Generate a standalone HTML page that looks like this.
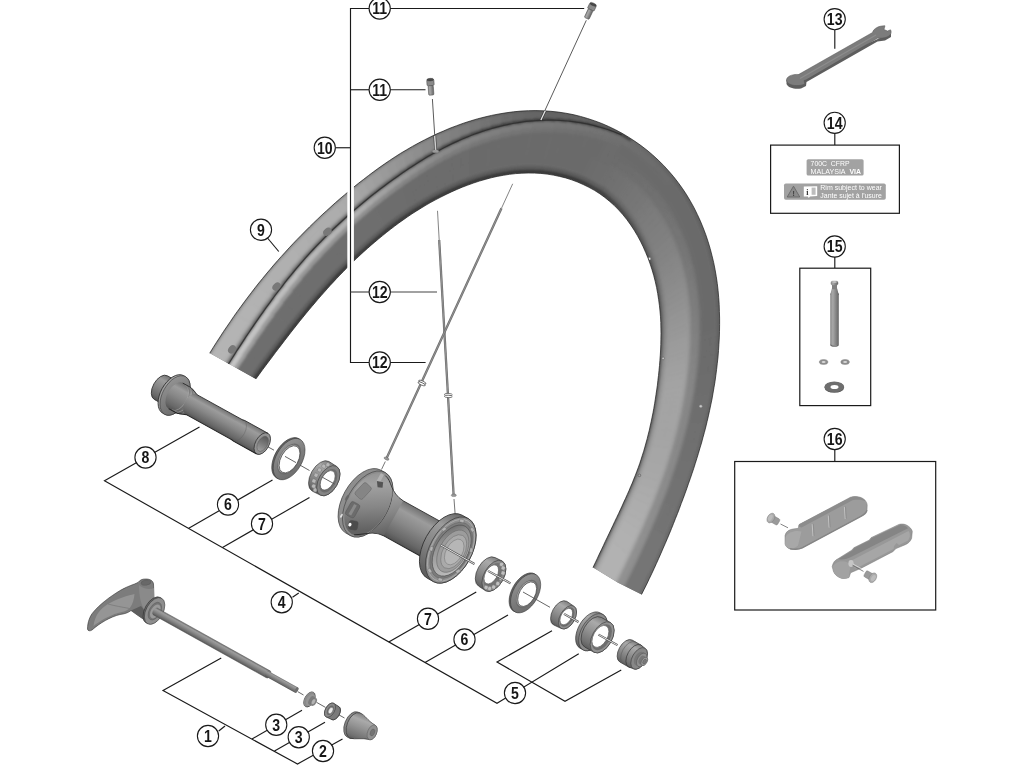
<!DOCTYPE html>
<html lang="en"><head><meta charset="utf-8"><title>Front wheel exploded view</title>
<style>html,body{margin:0;padding:0;background:#fff;}body{width:1024px;height:768px;overflow:hidden;}svg{display:block;will-change:transform;}</style></head>
<body>
<svg width="1024" height="768" viewBox="0 0 1024 768" font-family="'Liberation Sans', sans-serif">
<clipPath id="rimclip"><path d="M209.7,353.2 L213.1,347.7 L216.5,342.3 L220.0,337.0 L223.4,331.7 L226.9,326.6 L230.4,321.5 L233.8,316.4 L237.3,311.5 L240.9,306.6 L244.4,301.8 L248.0,297.0 L251.6,292.3 L255.2,287.6 L258.8,283.0 L262.5,278.5 L266.2,274.0 L270.0,269.5 L273.7,265.1 L277.5,260.7 L281.4,256.4 L285.3,252.1 L289.2,247.8 L293.1,243.6 L297.1,239.4 L301.2,235.3 L305.3,231.1 L309.4,227.0 L313.6,222.9 L317.8,218.9 L322.1,214.8 L326.5,210.8 L330.9,206.8 L335.3,202.8 L339.9,198.8 L344.5,194.9 L349.2,191.0 L353.9,187.0 L358.7,183.1 L363.7,179.3 L368.7,175.4 L373.8,171.6 L379.0,167.8 L384.3,164.1 L389.7,160.4 L395.2,156.8 L400.8,153.2 L406.6,149.8 L412.4,146.4 L418.4,143.1 L424.5,139.9 L430.7,136.8 L437.0,133.8 L443.5,131.0 L450.0,128.2 L456.7,125.7 L463.5,123.2 L470.3,121.0 L477.3,118.9 L484.4,117.1 L491.6,115.4 L498.8,114.0 L506.1,112.8 L513.5,111.8 L520.9,111.1 L528.4,110.7 L535.9,110.6 L543.3,110.8 L550.8,111.3 L558.3,112.1 L565.7,113.2 L573.1,114.6 L580.4,116.4 L587.6,118.5 L594.8,120.9 L601.8,123.5 L608.7,126.5 L615.5,129.8 L622.1,133.3 L628.6,137.2 L634.9,141.3 L641.0,145.6 L647.0,150.2 L652.7,155.0 L658.2,160.1 L663.6,165.4 L668.6,170.9 L673.5,176.6 L678.1,182.5 L682.5,188.6 L686.6,194.8 L690.4,201.2 L694.0,207.7 L697.3,214.4 L700.4,221.1 L703.2,227.9 L705.8,234.8 L708.1,241.7 L710.2,248.7 L712.0,255.7 L713.7,262.7 L715.1,269.8 L716.3,276.8 L717.3,283.7 L718.1,290.7 L718.7,297.6 L719.2,304.5 L719.4,311.3 L719.6,318.1 L719.6,324.7 L719.5,331.3 L719.3,337.9 L718.9,344.3 L718.5,350.7 L718.0,357.0 L717.3,363.2 L716.6,369.4 L715.8,375.5 L715.0,381.5 L714.0,387.4 L713.0,393.2 L712.0,399.0 L710.8,404.7 L709.6,410.4 L708.4,415.9 L707.1,421.5 L705.8,426.9 L704.4,432.3 L702.9,437.7 L701.5,443.0 L699.9,448.2 L698.4,453.4 L696.8,458.6 L695.2,463.7 L693.6,468.8 L691.9,473.8 L690.2,478.8 L688.4,483.8 L686.7,488.8 L684.9,493.8 L683.1,498.7 L681.2,503.6 L679.4,508.6 L677.5,513.5 L675.5,518.4 L673.6,523.3 L671.6,528.3 L669.6,533.2 L667.5,538.2 L665.4,543.1 L663.2,548.1 L661.0,553.2 L658.8,558.2 L656.5,563.3 L654.2,568.4 L651.8,573.5 L649.3,578.7 L646.8,584.0 L644.2,589.2 L641.5,594.5 L617.5,582.5 L593.0,567.5 L595.2,562.9 L597.3,558.5 L599.3,554.1 L601.4,549.8 L603.4,545.6 L605.3,541.4 L607.3,537.3 L609.2,533.3 L611.1,529.3 L613.0,525.3 L614.8,521.4 L616.7,517.5 L618.5,513.7 L620.3,509.8 L622.1,506.0 L623.8,502.1 L625.6,498.3 L627.3,494.5 L629.0,490.7 L630.6,486.8 L632.3,483.0 L633.8,479.1 L635.4,475.2 L636.9,471.2 L638.4,467.3 L639.8,463.3 L641.1,459.3 L642.4,455.2 L643.7,451.2 L644.9,447.0 L646.0,442.9 L647.2,438.7 L648.2,434.5 L649.3,430.3 L650.2,426.0 L651.2,421.6 L652.1,417.2 L653.0,412.8 L653.8,408.4 L654.6,403.8 L655.3,399.3 L656.0,394.6 L656.7,390.0 L657.4,385.2 L657.9,380.4 L658.5,375.5 L659.0,370.6 L659.5,365.5 L659.9,360.4 L660.3,355.2 L660.6,350.0 L660.8,344.6 L660.9,339.2 L661.0,333.7 L660.9,328.1 L660.8,322.5 L660.5,316.8 L660.0,311.0 L659.4,305.2 L658.6,299.4 L657.7,293.5 L656.6,287.6 L655.3,281.7 L653.8,275.8 L652.1,269.9 L650.2,264.1 L648.1,258.2 L645.7,252.5 L643.2,246.8 L640.4,241.1 L637.4,235.6 L634.2,230.2 L630.7,224.9 L627.0,219.8 L623.0,214.8 L618.8,210.1 L614.4,205.6 L609.7,201.4 L604.8,197.4 L599.7,193.7 L594.4,190.3 L588.9,187.3 L583.2,184.5 L577.5,182.0 L571.6,179.8 L565.6,177.9 L559.5,176.4 L553.3,175.1 L547.1,174.1 L540.8,173.4 L534.5,173.1 L528.2,173.0 L521.9,173.2 L515.7,173.6 L509.5,174.3 L503.3,175.3 L497.2,176.4 L491.1,177.8 L485.2,179.4 L479.3,181.1 L473.5,183.0 L467.8,185.1 L462.2,187.2 L456.8,189.5 L451.4,191.9 L446.1,194.4 L440.9,197.0 L435.9,199.6 L430.9,202.3 L426.0,205.1 L421.3,208.0 L416.6,210.9 L412.0,213.8 L407.6,216.8 L403.2,219.9 L398.9,222.9 L394.7,226.1 L390.6,229.2 L386.5,232.4 L382.6,235.6 L378.7,238.8 L374.9,242.0 L371.1,245.2 L367.4,248.5 L363.8,251.7 L360.2,255.0 L356.7,258.3 L353.2,261.6 L349.8,265.0 L346.5,268.3 L343.2,271.7 L339.9,275.1 L336.6,278.5 L333.5,281.9 L330.3,285.3 L327.2,288.8 L324.1,292.3 L321.0,295.8 L317.9,299.3 L314.9,302.9 L311.8,306.5 L308.8,310.1 L305.8,313.7 L302.8,317.4 L299.8,321.1 L296.8,324.9 L293.8,328.7 L290.8,332.5 L287.8,336.4 L284.7,340.4 L281.7,344.4 L278.6,348.4 L275.4,352.6 L272.3,356.8 L269.1,361.0 L265.8,365.4 L262.5,369.8 L259.2,374.4 L255.8,379.0Z"/></clipPath>
<filter id="rb" x="-5%" y="-5%" width="110%" height="110%"><feGaussianBlur stdDeviation="0.8"/></filter>
<g clip-path="url(#rimclip)">
<path d="M209.7,353.2 L213.1,347.7 L216.5,342.3 L220.0,337.0 L223.4,331.7 L226.9,326.6 L230.4,321.5 L233.8,316.4 L237.3,311.5 L240.9,306.6 L244.4,301.8 L248.0,297.0 L251.6,292.3 L255.2,287.6 L258.8,283.0 L262.5,278.5 L266.2,274.0 L270.0,269.5 L273.7,265.1 L277.5,260.7 L281.4,256.4 L285.3,252.1 L289.2,247.8 L293.1,243.6 L297.1,239.4 L301.2,235.3 L305.3,231.1 L309.4,227.0 L313.6,222.9 L317.8,218.9 L322.1,214.8 L326.5,210.8 L330.9,206.8 L335.3,202.8 L339.9,198.8 L344.5,194.9 L349.2,191.0 L353.9,187.0 L358.7,183.1 L363.7,179.3 L368.7,175.4 L373.8,171.6 L379.0,167.8 L384.3,164.1 L389.7,160.4 L395.2,156.8 L400.8,153.2 L406.6,149.8 L412.4,146.4 L418.4,143.1 L424.5,139.9 L430.7,136.8 L437.0,133.8 L443.5,131.0 L450.0,128.2 L456.7,125.7 L463.5,123.2 L470.3,121.0 L477.3,118.9 L484.4,117.1 L491.6,115.4 L498.8,114.0 L506.1,112.8 L513.5,111.8 L520.9,111.1 L528.4,110.7 L535.9,110.6 L543.3,110.8 L550.8,111.3 L558.3,112.1 L565.7,113.2 L573.1,114.6 L580.4,116.4 L587.6,118.5 L594.8,120.9 L601.8,123.5 L608.7,126.5 L615.5,129.8 L622.1,133.3 L628.6,137.2 L634.9,141.3 L641.0,145.6 L647.0,150.2 L652.7,155.0 L658.2,160.1 L663.6,165.4 L668.6,170.9 L673.5,176.6 L678.1,182.5 L682.5,188.6 L686.6,194.8 L690.4,201.2 L694.0,207.7 L697.3,214.4 L700.4,221.1 L703.2,227.9 L705.8,234.8 L708.1,241.7 L710.2,248.7 L712.0,255.7 L713.7,262.7 L715.1,269.8 L716.3,276.8 L717.3,283.7 L718.1,290.7 L718.7,297.6 L719.2,304.5 L719.4,311.3 L719.6,318.1 L719.6,324.7 L719.5,331.3 L719.3,337.9 L718.9,344.3 L718.5,350.7 L718.0,357.0 L717.3,363.2 L716.6,369.4 L715.8,375.5 L715.0,381.5 L714.0,387.4 L713.0,393.2 L712.0,399.0 L710.8,404.7 L709.6,410.4 L708.4,415.9 L707.1,421.5 L705.8,426.9 L704.4,432.3 L702.9,437.7 L701.5,443.0 L699.9,448.2 L698.4,453.4 L696.8,458.6 L695.2,463.7 L693.6,468.8 L691.9,473.8 L690.2,478.8 L688.4,483.8 L686.7,488.8 L684.9,493.8 L683.1,498.7 L681.2,503.6 L679.4,508.6 L677.5,513.5 L675.5,518.4 L673.6,523.3 L671.6,528.3 L669.6,533.2 L667.5,538.2 L665.4,543.1 L663.2,548.1 L661.0,553.2 L658.8,558.2 L656.5,563.3 L654.2,568.4 L651.8,573.5 L649.3,578.7 L646.8,584.0 L644.2,589.2 L641.5,594.5 L617.5,582.5 L593.0,567.5 L595.2,562.9 L597.3,558.5 L599.3,554.1 L601.4,549.8 L603.4,545.6 L605.3,541.4 L607.3,537.3 L609.2,533.3 L611.1,529.3 L613.0,525.3 L614.8,521.4 L616.7,517.5 L618.5,513.7 L620.3,509.8 L622.1,506.0 L623.8,502.1 L625.6,498.3 L627.3,494.5 L629.0,490.7 L630.6,486.8 L632.3,483.0 L633.8,479.1 L635.4,475.2 L636.9,471.2 L638.4,467.3 L639.8,463.3 L641.1,459.3 L642.4,455.2 L643.7,451.2 L644.9,447.0 L646.0,442.9 L647.2,438.7 L648.2,434.5 L649.3,430.3 L650.2,426.0 L651.2,421.6 L652.1,417.2 L653.0,412.8 L653.8,408.4 L654.6,403.8 L655.3,399.3 L656.0,394.6 L656.7,390.0 L657.4,385.2 L657.9,380.4 L658.5,375.5 L659.0,370.6 L659.5,365.5 L659.9,360.4 L660.3,355.2 L660.6,350.0 L660.8,344.6 L660.9,339.2 L661.0,333.7 L660.9,328.1 L660.8,322.5 L660.5,316.8 L660.0,311.0 L659.4,305.2 L658.6,299.4 L657.7,293.5 L656.6,287.6 L655.3,281.7 L653.8,275.8 L652.1,269.9 L650.2,264.1 L648.1,258.2 L645.7,252.5 L643.2,246.8 L640.4,241.1 L637.4,235.6 L634.2,230.2 L630.7,224.9 L627.0,219.8 L623.0,214.8 L618.8,210.1 L614.4,205.6 L609.7,201.4 L604.8,197.4 L599.7,193.7 L594.4,190.3 L588.9,187.3 L583.2,184.5 L577.5,182.0 L571.6,179.8 L565.6,177.9 L559.5,176.4 L553.3,175.1 L547.1,174.1 L540.8,173.4 L534.5,173.1 L528.2,173.0 L521.9,173.2 L515.7,173.6 L509.5,174.3 L503.3,175.3 L497.2,176.4 L491.1,177.8 L485.2,179.4 L479.3,181.1 L473.5,183.0 L467.8,185.1 L462.2,187.2 L456.8,189.5 L451.4,191.9 L446.1,194.4 L440.9,197.0 L435.9,199.6 L430.9,202.3 L426.0,205.1 L421.3,208.0 L416.6,210.9 L412.0,213.8 L407.6,216.8 L403.2,219.9 L398.9,222.9 L394.7,226.1 L390.6,229.2 L386.5,232.4 L382.6,235.6 L378.7,238.8 L374.9,242.0 L371.1,245.2 L367.4,248.5 L363.8,251.7 L360.2,255.0 L356.7,258.3 L353.2,261.6 L349.8,265.0 L346.5,268.3 L343.2,271.7 L339.9,275.1 L336.6,278.5 L333.5,281.9 L330.3,285.3 L327.2,288.8 L324.1,292.3 L321.0,295.8 L317.9,299.3 L314.9,302.9 L311.8,306.5 L308.8,310.1 L305.8,313.7 L302.8,317.4 L299.8,321.1 L296.8,324.9 L293.8,328.7 L290.8,332.5 L287.8,336.4 L284.7,340.4 L281.7,344.4 L278.6,348.4 L275.4,352.6 L272.3,356.8 L269.1,361.0 L265.8,365.4 L262.5,369.8 L259.2,374.4 L255.8,379.0Z" fill="#666"/>
<g filter="url(#rb)">
<path d="M237.9,403.8L248.6,388.9L245.2,388.4L234.6,403.5ZM248.6,388.9L258.7,375.1L255.3,374.4L245.2,388.4ZM258.7,375.1L268.3,362.1L265.0,361.2L255.3,374.4ZM268.3,362.1L277.4,349.9L274.3,348.8L265.0,361.2ZM277.4,349.9L286.4,338.2L283.3,336.9L274.3,348.8ZM286.4,338.2L295.1,327.0L292.1,325.4L283.3,336.9ZM295.1,327.0L303.8,316.2L301.0,314.4L292.1,325.4ZM303.8,316.2L312.6,305.6L309.8,303.6L301.0,314.4ZM312.6,305.6L321.4,295.3L318.8,293.2L309.8,303.6ZM321.4,295.3L330.4,285.2L328.0,282.9L318.8,293.2ZM330.4,285.2L339.7,275.3L337.4,272.8L328.0,282.9ZM339.7,275.3L349.3,265.5L347.2,262.9L337.4,272.8ZM349.3,265.5L354.2,260.7L352.3,258.0L347.2,262.9ZM354.2,260.7L359.3,255.9L357.4,253.1L352.3,258.0ZM359.3,255.9L364.5,251.1L362.7,248.3L357.4,253.1ZM364.5,251.1L369.8,246.4L368.1,243.5L362.7,248.3ZM369.8,246.4L375.2,241.7L373.6,238.7L368.1,243.5ZM375.2,241.7L380.8,237.0L379.3,234.0L373.6,238.7ZM380.8,237.0L386.5,232.4L385.1,229.2L379.3,234.0ZM386.5,232.4L392.4,227.8L391.0,224.6L385.1,229.2ZM392.4,227.8L398.4,223.3L397.2,220.0L391.0,224.6ZM398.4,223.3L404.6,218.8L403.5,215.5L397.2,220.0ZM404.6,218.8L411.1,214.5L410.1,211.0L403.5,215.5ZM411.1,214.5L417.7,210.2L416.8,206.7L410.1,211.0ZM417.7,210.2L424.5,206.0L423.8,202.4L416.8,206.7ZM424.5,206.0L431.6,202.0L430.9,198.3L423.8,202.4ZM431.6,202.0L438.8,198.1L438.3,194.4L430.9,198.3ZM438.8,198.1L446.3,194.3L445.9,190.6L438.3,194.4ZM446.3,194.3L454.0,190.8L453.7,187.0L445.9,190.6ZM454.0,190.8L461.9,187.4L461.7,183.6L453.7,187.0ZM461.9,187.4L470.0,184.3L470.0,180.5L461.7,183.6ZM470.0,184.3L478.3,181.4L478.5,177.6L470.0,180.5ZM478.3,181.4L486.9,178.9L487.1,175.1L478.5,177.6ZM486.9,178.9L495.6,176.8L496.0,173.0L487.1,175.1ZM495.6,176.8L504.4,175.1L505.0,171.3L496.0,173.0ZM504.4,175.1L513.4,173.9L514.1,170.1L505.0,171.3ZM513.4,173.9L522.5,173.2L523.3,169.4L514.1,170.1ZM522.5,173.2L531.6,173.0L532.5,169.3L523.3,169.4ZM531.6,173.0L540.7,173.4L541.8,169.8L532.5,169.3ZM540.7,173.4L549.8,174.5L551.0,170.9L541.8,169.8ZM549.8,174.5L558.7,176.2L560.0,172.6L551.0,170.9ZM558.7,176.2L564.3,177.6L565.7,174.0L560.0,172.6ZM564.3,177.6L569.7,179.2L571.2,175.7L565.7,174.0ZM569.7,179.2L575.1,181.1L576.7,177.6L571.2,175.7Z" fill="#383838" stroke="#383838" stroke-width="0.7"/>
<path d="M575.1,181.1L580.4,183.2L582.0,179.8L576.7,177.6Z" fill="#393939" stroke="#393939" stroke-width="0.7"/>
<path d="M207.4,401.6L217.7,384.5L214.9,384.2L204.6,401.4ZM217.3,384.5L227.5,368.5L224.7,367.9L214.6,384.1ZM227.1,368.4L237.1,353.2L234.4,352.4L224.4,367.8ZM236.7,353.1L246.6,338.7L243.9,337.7L234.0,352.3ZM246.2,338.6L256.1,324.7L253.5,323.6L243.6,337.6ZM255.7,324.6L265.5,311.3L263.0,310.0L253.1,323.4ZM265.1,311.1L275.1,298.2L272.7,296.7L262.6,309.7ZM274.6,297.9L284.8,285.5L282.6,283.8L272.3,296.4ZM284.4,285.1L294.8,273.0L292.7,271.2L282.1,283.5ZM294.4,272.7L305.1,260.8L303.1,258.9L292.3,270.9ZM304.8,260.5L315.9,248.9L314.1,246.8L302.8,258.6ZM315.7,248.7L327.2,237.2L325.5,235.0L313.9,246.6ZM327.1,237.1L333.0,231.4L331.4,229.2L325.4,234.9ZM332.9,231.4L339.0,225.7L337.4,223.4L331.3,229.1ZM338.9,225.7L345.1,220.1L343.6,217.7L337.4,223.4ZM345.1,220.0L351.4,214.5L349.9,212.1L343.6,217.7ZM351.3,214.5L357.8,208.9L356.4,206.4L349.9,212.0ZM357.8,208.9L364.4,203.4L363.1,200.8L356.4,206.4ZM364.3,203.4L371.1,197.9L370.0,195.3L363.1,200.8ZM371.1,197.9L378.1,192.5L377.0,189.8L369.9,195.2ZM378.0,192.4L385.2,187.1L384.2,184.3L377.0,189.7ZM385.2,186.9L392.6,181.7L391.7,178.9L384.2,184.2ZM392.5,181.5L400.1,176.4L399.3,173.5L391.6,178.7ZM400.1,176.1L407.9,171.1L407.2,168.2L399.2,173.2ZM407.8,170.7L416.0,165.9L415.4,162.9L407.1,167.8ZM415.9,165.4L424.3,160.7L423.8,157.7L415.3,162.4ZM424.2,160.2L432.9,155.7L432.4,152.7L423.7,157.2ZM432.8,155.1L441.7,150.9L441.4,147.8L432.3,152.1ZM441.6,150.2L450.9,146.2L450.6,143.1L441.3,147.1ZM450.8,145.6L460.3,141.9L460.2,138.7L450.6,142.4ZM460.3,141.2L470.0,137.8L470.0,134.6L460.2,138.0ZM470.0,137.1L480.0,134.1L480.1,130.9L470.0,134.0ZM480.0,133.4L490.2,130.8L490.4,127.7L480.1,130.2ZM490.3,130.1L500.7,128.0L501.0,124.8L490.5,126.9ZM500.8,127.3L511.4,125.7L511.8,122.5L501.1,124.1ZM511.5,124.9L522.2,123.9L522.8,120.8L511.9,121.7ZM522.4,123.1L533.2,122.7L533.9,119.6L522.9,119.9ZM533.4,121.9L544.3,122.1L545.0,119.0L534.0,118.7ZM544.5,121.2L555.4,122.2L556.3,119.2L545.3,118.1ZM555.7,121.3L566.5,123.0L567.5,119.9L556.5,118.2ZM566.8,121.9L577.6,124.4L578.7,121.4L567.8,118.9ZM577.9,123.5L584.6,125.4L585.7,122.4L579.0,120.5ZM584.8,124.7L591.4,126.9L592.6,124.0L586.0,121.8ZM591.7,126.2L598.2,128.6L599.5,125.7L592.9,123.3Z" fill="#3a3a3a" stroke="#3a3a3a" stroke-width="0.7"/>
<path d="M580.4,183.2L585.6,185.6L587.3,182.2L582.0,179.8Z" fill="#3b3b3b" stroke="#3b3b3b" stroke-width="0.7"/>
<path d="M598.5,128.0L604.9,130.7L606.3,127.8L599.8,125.1ZM595.6,191.1L600.4,194.2L601.3,192.6L596.5,189.4Z" fill="#3c3c3c" stroke="#3c3c3c" stroke-width="0.7"/>
<path d="M605.2,130.0L611.6,132.9L613.0,130.1L606.6,127.1ZM585.6,185.6L590.7,188.2L592.4,184.9L587.3,182.2ZM600.4,194.2L605.0,197.6L606.0,195.9L601.3,192.6Z" fill="#3d3d3d" stroke="#3d3d3d" stroke-width="0.7"/>
<path d="M605.0,197.6L609.4,201.2L610.4,199.5L606.0,195.9Z" fill="#3e3e3e" stroke="#3e3e3e" stroke-width="0.7"/>
<path d="M611.9,132.3L618.1,135.5L619.6,132.7L613.3,129.4ZM590.7,188.2L595.6,191.1L597.4,187.8L592.4,184.9ZM609.4,201.2L613.7,205.0L614.7,203.4L610.4,199.5Z" fill="#3f3f3f" stroke="#3f3f3f" stroke-width="0.7"/>
<path d="M613.7,205.0L617.7,209.0L618.8,207.4L614.7,203.4Z" fill="#404040" stroke="#404040" stroke-width="0.7"/>
<path d="M618.4,134.8L624.5,138.3L626.0,135.6L619.9,132.1ZM617.7,209.0L621.6,213.2L622.8,211.7L618.8,207.4Z" fill="#414141" stroke="#414141" stroke-width="0.7"/>
<path d="M596.5,189.4L601.3,192.6L602.4,190.6L597.6,187.5Z" fill="#424242" stroke="#424242" stroke-width="0.7"/>
<path d="M621.6,213.2L625.3,217.6L626.5,216.1L622.8,211.7Z" fill="#434343" stroke="#434343" stroke-width="0.7"/>
<path d="M624.5,138.4L630.4,142.1L632.0,139.4L626.0,135.6ZM625.3,217.6L628.8,222.2L630.0,220.7L626.5,216.1ZM628.8,222.2L632.0,226.9L633.3,225.4L630.0,220.7Z" fill="#444444" stroke="#444444" stroke-width="0.7"/>
<path d="M601.3,192.6L606.0,195.9L607.1,194.0L602.4,190.6ZM632.0,226.9L635.1,231.7L636.4,230.3L633.3,225.4Z" fill="#454545" stroke="#454545" stroke-width="0.7"/>
<path d="M491.3,116.0L502.2,113.9L502.2,113.4L491.3,115.5ZM502.2,113.9L513.2,112.4L513.3,111.8L502.2,113.4ZM513.2,112.3L524.4,111.4L524.5,110.9L513.3,111.8ZM524.4,111.3L535.7,111.0L535.8,110.6L524.5,110.9ZM535.7,111.0L546.9,111.4L547.0,111.0L535.8,110.6ZM547.0,111.3L558.2,112.4L558.3,112.1L547.0,111.0ZM558.2,112.4L569.4,114.2L569.5,113.9L558.3,112.1ZM569.4,114.1L580.4,116.7L580.5,116.4L569.5,113.9ZM580.4,116.6L587.2,118.6L587.3,118.4L580.5,116.4ZM587.2,118.6L593.9,120.8L594.0,120.6L587.3,118.4ZM594.0,120.7L600.6,123.2L600.6,123.1L594.0,120.6ZM635.1,231.7L638.0,236.7L639.3,235.2L636.4,230.3ZM638.0,236.7L640.7,241.7L642.1,240.3L639.3,235.2ZM640.7,241.7L643.2,246.8L644.6,245.4L642.1,240.3ZM643.2,246.8L645.5,252.0L647.0,250.6L644.6,245.4ZM645.5,252.0L647.7,257.2L649.1,255.9L647.0,250.6ZM647.7,257.2L649.6,262.5L651.1,261.2L649.1,255.9ZM649.6,262.5L651.4,267.8L652.9,266.5L651.1,261.2ZM651.4,267.8L653.0,273.1L654.6,271.8L652.9,266.5ZM653.0,273.1L654.5,278.4L656.1,277.2L654.6,271.8ZM654.5,278.4L655.8,283.8L657.4,282.6L656.1,277.2ZM655.8,283.8L656.9,289.1L658.5,288.0L657.4,282.6ZM656.9,289.1L657.9,294.5L659.5,293.4L658.5,288.0ZM657.9,294.5L658.7,299.8L660.4,298.7L659.5,293.4ZM658.7,299.8L659.4,305.1L661.1,304.1L660.4,298.7ZM659.4,305.1L659.9,310.3L661.6,309.4L661.1,304.1ZM659.9,310.3L660.4,315.6L662.1,314.6L661.6,309.4ZM660.4,315.6L660.7,320.7L662.4,319.8L662.1,314.6ZM660.7,320.7L660.9,325.9L662.6,325.0L662.4,319.8ZM660.9,325.9L661.0,330.9L662.7,330.1L662.6,325.0ZM661.0,330.9L661.0,336.0L662.7,335.2L662.7,330.1ZM661.0,336.0L660.9,340.9L662.7,340.2L662.7,335.2ZM660.9,340.9L660.7,345.8L662.5,345.1L662.7,340.2ZM660.7,345.8L660.5,350.7L662.3,350.0L662.5,345.1ZM660.5,350.7L660.2,355.4L662.0,354.8L662.3,350.0ZM660.2,355.4L659.9,360.1L661.7,359.6L662.0,354.8ZM659.9,360.1L659.5,364.8L661.3,364.2L661.7,359.6ZM659.5,364.8L659.1,369.3L660.9,368.8L661.3,364.2ZM659.1,369.3L658.7,373.8L660.4,373.4L660.9,368.8ZM658.7,373.8L658.2,378.3L660.0,377.9L660.4,373.4ZM658.2,378.3L657.7,382.7L659.4,382.3L660.0,377.9ZM657.7,382.7L657.1,387.0L658.9,386.7L659.4,382.3ZM657.1,387.0L656.5,391.3L658.3,391.0L658.9,386.7ZM656.5,391.3L655.9,395.5L657.7,395.3L658.3,391.0ZM655.9,395.5L655.3,399.7L657.0,399.5L657.7,395.3ZM655.3,399.7L654.6,403.9L656.3,403.7L657.0,399.5ZM654.6,403.9L653.9,407.9L655.6,407.8L656.3,403.7ZM653.9,407.9L653.1,412.0L654.8,411.9L655.6,407.8ZM653.1,412.0L652.8,413.6L654.5,413.6L654.8,411.9ZM652.8,413.6L651.2,421.6L652.9,421.6L654.5,413.6ZM651.2,421.6L649.5,429.4L651.1,429.5L652.9,421.6ZM649.5,429.4L647.6,437.1L649.2,437.3L651.1,429.5ZM647.6,437.1L645.5,444.7L647.1,444.9L649.2,437.3ZM645.5,444.7L643.4,452.1L644.9,452.4L647.1,444.9ZM643.4,452.1L641.0,459.5L642.6,459.8L644.9,452.4ZM641.0,459.5L638.6,466.7L640.1,467.2L642.6,459.8ZM638.6,466.7L635.9,473.9L637.4,474.4L640.1,467.2ZM635.9,473.9L633.1,481.0L634.6,481.5L637.4,474.4ZM633.1,481.0L630.1,488.0L631.6,488.6L634.6,481.5ZM630.1,488.0L627.1,494.9L628.5,495.6L631.6,488.6ZM627.1,494.9L624.0,501.9L625.4,502.6L628.5,495.6ZM624.0,501.9L620.7,508.8L622.2,509.6L625.4,502.6ZM620.7,508.8L617.5,515.8L618.9,516.7L622.2,509.6ZM617.5,515.8L614.1,522.8L615.5,523.8L618.9,516.7ZM614.1,522.8L610.8,530.0L612.1,531.0L615.5,523.8ZM610.8,530.0L607.3,537.3L608.6,538.4L612.1,531.0ZM607.3,537.3L603.8,544.7L605.0,545.9L608.6,538.4ZM603.8,544.7L600.1,552.4L601.4,553.7L605.0,545.9ZM600.1,552.4L596.4,560.4L597.6,561.7L601.4,553.7ZM596.4,560.4L592.5,568.6L593.6,570.0L597.6,561.7ZM592.5,568.6L588.4,577.2L589.5,578.6L593.6,570.0ZM588.4,577.2L584.1,586.1L585.2,587.6L589.5,578.6ZM584.1,586.1L579.6,595.4L580.6,596.9L585.2,587.6Z" fill="#464646" stroke="#464646" stroke-width="0.7"/>
<path d="M480.1,130.2L490.4,127.7L490.5,126.8L480.1,129.4ZM480.5,118.7L491.3,116.1L491.3,115.5L480.5,118.0ZM490.5,126.9L501.0,124.8L501.1,124.0L490.5,126.1ZM501.1,124.1L511.8,122.5L511.9,121.8L501.2,123.3ZM511.9,121.7L522.8,120.8L522.9,120.1L512.0,121.1ZM522.9,119.9L533.9,119.6L534.0,119.0L523.0,119.3ZM534.0,118.7L545.0,119.0L545.2,118.5L534.2,118.2ZM545.3,118.1L556.3,119.2L556.4,118.7L545.4,117.6ZM556.5,118.2L567.5,119.9L567.6,119.5L556.7,117.8ZM567.8,118.9L578.7,121.4L578.8,121.0L567.9,118.6ZM579.0,120.5L585.7,122.4L585.8,122.2L579.1,120.2ZM586.0,121.8L592.6,124.0L592.7,123.7L586.1,121.5ZM592.9,123.3L599.5,125.7L599.6,125.5L593.0,123.1ZM599.8,125.1L606.3,127.8L606.3,127.6L599.8,124.9ZM600.6,123.2L607.1,125.9L607.2,125.8L600.6,123.1Z" fill="#474747" stroke="#474747" stroke-width="0.7"/>
<path d="M606.6,127.1L613.0,130.1L613.0,130.0L606.6,127.0ZM607.1,125.9L613.5,128.9L613.6,128.9L607.2,125.8ZM606.0,195.9L610.4,199.5L611.6,197.7L607.1,194.0Z" fill="#484848" stroke="#484848" stroke-width="0.7"/>
<path d="M470.0,121.7L480.5,118.7L480.5,118.0L470.0,121.1ZM613.3,129.4L619.6,132.7L619.6,132.6L613.3,129.4ZM613.6,128.9L619.9,132.1L619.9,132.1L613.6,128.9Z" fill="#4a4a4a" stroke="#4a4a4a" stroke-width="0.7"/>
<path d="M470.0,134.0L480.1,130.9L480.1,130.0L470.0,133.1ZM610.4,199.5L614.7,203.4L616.0,201.5L611.6,197.7Z" fill="#4b4b4b" stroke="#4b4b4b" stroke-width="0.7"/>
<path d="M459.7,125.2L470.0,121.8L470.0,121.1L459.7,124.6Z" fill="#4e4e4e" stroke="#4e4e4e" stroke-width="0.7"/>
<path d="M460.2,138.0L470.0,134.6L470.0,133.7L460.1,137.1ZM614.7,203.4L618.8,207.4L620.1,205.6L616.0,201.5Z" fill="#4f4f4f" stroke="#4f4f4f" stroke-width="0.7"/>
<path d="M449.7,129.1L459.7,125.3L459.7,124.6L449.6,128.4ZM587.2,118.7L593.9,120.9L593.9,120.8L587.2,118.6ZM593.9,120.9L600.5,123.4L600.6,123.2L594.0,120.7ZM618.8,207.4L622.8,211.7L624.1,209.9L620.1,205.6Z" fill="#525252" stroke="#525252" stroke-width="0.7"/>
<path d="M450.6,142.4L460.2,138.7L460.1,137.7L450.5,141.5ZM546.9,111.7L558.1,112.8L558.2,112.4L547.0,111.3ZM558.1,112.7L569.3,114.5L569.4,114.2L558.2,112.4ZM567.9,118.6L578.8,121.0L578.9,120.7L568.1,118.2ZM569.3,114.4L580.3,116.9L580.4,116.7L569.4,114.1ZM579.1,120.2L585.8,122.2L585.9,121.9L579.2,120.0ZM580.3,116.8L587.1,118.8L587.2,118.6L580.4,116.6ZM586.1,121.5L592.7,123.7L592.8,123.5L586.2,121.3ZM593.0,123.1L599.6,125.5L599.6,125.4L593.1,122.9ZM599.8,124.9L606.3,127.6L606.4,127.5L599.9,124.8ZM600.6,123.3L607.1,126.0L607.1,125.9L600.6,123.2ZM607.1,126.0L613.5,129.0L613.5,128.9L607.1,125.9Z" fill="#535353" stroke="#535353" stroke-width="0.7"/>
<path d="M524.3,111.8L535.6,111.5L535.7,111.0L524.4,111.3ZM534.2,118.2L545.2,118.5L545.3,117.9L534.3,117.6ZM535.6,111.4L546.8,111.8L546.9,111.4L535.7,111.0ZM545.4,117.6L556.4,118.7L556.5,118.2L545.5,117.1ZM556.7,117.8L567.6,119.5L567.8,119.1L556.8,117.3ZM606.6,127.0L613.0,130.0L613.0,129.9L606.7,126.9ZM613.3,129.4L619.6,132.6L619.6,132.6L613.3,129.4ZM613.5,128.9L619.8,132.2L619.9,132.1L613.6,128.9Z" fill="#545454" stroke="#545454" stroke-width="0.7"/>
<path d="M513.2,112.8L524.3,111.9L524.4,111.4L513.2,112.3ZM523.0,119.3L534.0,119.0L534.1,118.3L523.1,118.7Z" fill="#555555" stroke="#555555" stroke-width="0.7"/>
<path d="M441.3,147.1L450.6,143.1L450.6,142.1L441.2,146.1ZM439.9,133.3L449.7,129.1L449.6,128.4L439.8,132.6ZM502.1,114.4L513.2,112.9L513.2,112.4L502.2,113.9ZM512.0,121.1L522.9,120.1L523.0,119.4L512.1,120.4ZM622.8,211.7L626.5,216.1L627.8,214.3L624.1,209.9Z" fill="#565656" stroke="#565656" stroke-width="0.7"/>
<path d="M501.2,123.3L511.9,121.8L512.0,121.0L501.3,122.6Z" fill="#575757" stroke="#575757" stroke-width="0.7"/>
<path d="M491.2,116.6L502.1,114.5L502.2,113.9L491.3,116.0Z" fill="#585858" stroke="#585858" stroke-width="0.7"/>
<path d="M490.5,126.1L501.1,124.0L501.2,123.2L490.6,125.3ZM626.5,216.1L630.0,220.7L631.4,218.9L627.8,214.3Z" fill="#595959" stroke="#595959" stroke-width="0.7"/>
<path d="M432.3,152.1L441.4,147.8L441.3,146.7L432.2,151.0ZM430.3,137.8L439.9,133.3L439.8,132.6L430.2,137.0ZM480.5,119.3L491.2,116.7L491.3,116.1L480.5,118.7Z" fill="#5a5a5a" stroke="#5a5a5a" stroke-width="0.7"/>
<path d="M470.0,180.5L478.5,177.6L478.6,173.8L470.0,176.7ZM478.5,177.6L487.1,175.1L487.4,171.3L478.6,173.8ZM480.1,129.4L490.5,126.8L490.6,125.9L480.2,128.5ZM487.1,175.1L496.0,173.0L496.4,169.2L487.4,171.3ZM496.0,173.0L505.0,171.3L505.5,167.5L496.4,169.2ZM505.0,171.3L514.1,170.1L514.7,166.3L505.5,167.5ZM514.1,170.1L523.3,169.4L524.1,165.6L514.7,166.3ZM523.3,169.4L532.5,169.3L533.4,165.6L524.1,165.6ZM532.5,169.3L541.8,169.8L542.8,166.1L533.4,165.6ZM541.8,169.8L551.0,170.9L552.1,167.2L542.8,166.1ZM551.0,170.9L560.0,172.6L561.4,169.0L552.1,167.2ZM560.0,172.6L565.7,174.0L567.0,170.5L561.4,169.0ZM565.7,174.0L571.2,175.7L572.7,172.2L567.0,170.5ZM571.2,175.7L576.7,177.6L578.2,174.1L572.7,172.2Z" fill="#5b5b5b" stroke="#5b5b5b" stroke-width="0.7"/>
<path d="M410.1,211.0L416.8,206.7L415.9,203.2L409.1,207.6ZM416.8,206.7L423.8,202.4L423.0,198.9L415.9,203.2ZM423.8,202.4L430.9,198.3L430.3,194.7L423.0,198.9ZM430.9,198.3L438.3,194.4L437.8,190.7L430.3,194.7ZM438.3,194.4L445.9,190.6L445.5,186.9L437.8,190.7ZM445.9,190.6L453.7,187.0L453.4,183.3L445.5,186.9ZM453.7,187.0L461.7,183.6L461.6,179.8L453.4,183.3ZM461.7,183.6L470.0,180.5L470.0,176.7L461.6,179.8ZM576.7,177.6L582.0,179.8L583.6,176.3L578.2,174.1ZM582.0,179.8L587.3,182.2L589.0,178.8L583.6,176.3ZM630.0,220.7L633.3,225.4L634.8,223.7L631.4,218.9Z" fill="#5c5c5c" stroke="#5c5c5c" stroke-width="0.7"/>
<path d="M385.1,229.2L391.0,224.6L389.7,221.4L383.7,226.1ZM391.0,224.6L397.2,220.0L396.0,216.7L389.7,221.4ZM397.2,220.0L403.5,215.5L402.4,212.1L396.0,216.7ZM403.5,215.5L410.1,211.0L409.1,207.6L402.4,212.1ZM421.1,142.5L430.3,137.8L430.2,137.0L420.9,141.7ZM587.3,182.2L592.4,184.9L594.2,181.5L589.0,178.8Z" fill="#5d5d5d" stroke="#5d5d5d" stroke-width="0.7"/>
<path d="M234.6,403.5L245.2,388.4L241.9,387.9L231.3,403.3ZM245.2,388.4L255.3,374.4L252.0,373.7L241.9,387.9ZM255.3,374.4L265.0,361.2L261.7,360.3L252.0,373.7ZM265.0,361.2L274.3,348.8L271.1,347.6L261.7,360.3ZM274.3,348.8L283.3,336.9L280.2,335.5L271.1,347.6ZM283.3,336.9L292.1,325.4L289.1,323.8L280.2,335.5ZM292.1,325.4L301.0,314.4L298.1,312.6L289.1,323.8ZM301.0,314.4L309.8,303.6L307.1,301.7L298.1,312.6ZM309.8,303.6L318.8,293.2L316.3,291.0L307.1,301.7ZM318.8,293.2L328.0,282.9L325.6,280.6L316.3,291.0ZM328.0,282.9L337.4,272.8L335.2,270.3L325.6,280.6ZM337.4,272.8L347.2,262.9L345.2,260.2L335.2,270.3ZM347.2,262.9L352.3,258.0L350.3,255.2L345.2,260.2ZM352.3,258.0L357.4,253.1L355.5,250.3L350.3,255.2ZM357.4,253.1L362.7,248.3L360.9,245.4L355.5,250.3ZM362.7,248.3L368.1,243.5L366.4,240.5L360.9,245.4ZM368.1,243.5L373.6,238.7L372.0,235.7L366.4,240.5ZM373.6,238.7L379.3,234.0L377.8,230.9L372.0,235.7ZM379.3,234.0L385.1,229.2L383.7,226.1L377.8,230.9ZM423.7,157.2L432.4,152.7L432.3,151.6L423.5,156.1ZM470.0,122.4L480.5,119.3L480.5,118.7L470.0,121.7Z" fill="#5e5e5e" stroke="#5e5e5e" stroke-width="0.7"/>
<path d="M470.0,133.1L480.1,130.0L480.2,129.1L470.0,132.2ZM592.4,184.9L597.4,187.8L599.2,184.4L594.2,181.5ZM597.6,187.5L602.4,190.6L603.5,188.7L598.6,185.5ZM633.3,225.4L636.4,230.3L637.9,228.5L634.8,223.7Z" fill="#5f5f5f" stroke="#5f5f5f" stroke-width="0.7"/>
<path d="M606.7,126.9L613.0,129.9L613.1,129.8L606.7,126.8ZM613.3,129.4L619.6,132.6L619.6,132.6L613.4,129.3ZM613.5,128.9L619.8,132.2L619.8,132.2L613.5,128.9ZM602.4,190.6L607.1,194.0L608.3,192.1L603.5,188.7Z" fill="#606060" stroke="#606060" stroke-width="0.7"/>
<path d="M415.3,162.4L423.8,157.7L423.6,156.6L415.0,161.3ZM412.1,147.4L421.1,142.5L420.9,141.7L411.9,146.7ZM586.2,121.3L592.8,123.5L592.9,123.2L586.3,121.0ZM593.1,122.9L599.6,125.4L599.7,125.2L593.2,122.7ZM599.9,124.8L606.4,127.5L606.5,127.4L600.0,124.6ZM600.5,123.4L607.0,126.2L607.1,126.0L600.6,123.3ZM606.7,126.8L613.1,129.8L613.3,129.5L606.9,126.5ZM606.9,126.5L613.3,129.5L613.5,129.1L607.1,126.0ZM607.1,126.0L613.5,129.1L613.5,129.0L607.1,126.0ZM613.4,129.3L619.6,132.6L619.7,132.4L613.4,129.1ZM613.4,129.1L619.7,132.4L619.8,132.2L613.5,128.9ZM636.4,230.3L639.3,235.2L640.9,233.5L637.9,228.5ZM676.0,185.1L680.1,190.8L682.3,188.3L678.2,182.6ZM680.1,190.8L683.9,196.6L686.2,194.2L682.3,188.3ZM683.9,196.6L687.5,202.5L689.8,200.2L686.2,194.2ZM687.5,202.5L690.8,208.6L693.2,206.3L689.8,200.2ZM690.8,208.6L694.0,214.8L696.4,212.5L693.2,206.3ZM694.0,214.8L696.9,221.0L699.4,218.8L696.4,212.5ZM696.9,221.0L699.6,227.4L702.1,225.2L699.4,218.8ZM699.6,227.4L702.0,233.8L704.6,231.7L702.1,225.2ZM702.0,233.8L704.3,240.2L706.9,238.2L704.6,231.7ZM704.3,240.2L706.4,246.7L709.0,244.7L706.9,238.2ZM706.4,246.7L708.2,253.2L710.9,251.3L709.0,244.7ZM708.2,253.2L709.8,259.8L712.6,257.9L710.9,251.3ZM709.8,259.8L711.3,266.3L714.0,264.5L712.6,257.9ZM711.3,266.3L712.5,272.8L715.3,271.1L714.0,264.5ZM712.5,272.8L713.6,279.4L716.4,277.7L715.3,271.1ZM713.6,279.4L714.5,285.9L717.3,284.3L716.4,277.7ZM714.5,285.9L715.2,292.3L718.1,290.9L717.3,284.3ZM715.2,292.3L715.8,298.8L718.7,297.4L718.1,290.9ZM715.8,298.8L716.2,305.2L719.1,303.8L718.7,297.4ZM716.2,305.2L716.5,311.5L719.4,310.3L719.1,303.8ZM716.5,311.5L716.6,317.8L719.6,316.6L719.4,310.3ZM716.6,317.8L716.7,324.1L719.6,322.9L719.6,316.6ZM716.7,324.1L716.6,330.2L719.5,329.2L719.6,322.9Z" fill="#616161" stroke="#616161" stroke-width="0.7"/>
<path d="M459.7,125.9L470.0,122.5L470.0,121.8L459.7,125.2ZM568.1,118.2L578.9,120.7L579.1,120.3L568.2,117.8ZM579.2,120.0L585.9,121.9L586.1,121.5L579.3,119.6ZM580.3,117.1L587.0,119.0L587.1,118.8L580.3,116.8ZM586.3,121.0L592.9,123.2L593.3,122.3L586.6,120.1ZM586.6,120.1L593.3,122.3L593.8,121.1L587.1,118.9ZM587.1,118.9L593.8,121.1L593.9,120.9L587.2,118.7ZM593.2,122.7L599.7,125.2L600.1,124.4L593.5,121.9ZM593.5,121.9L600.1,124.4L600.5,123.5L593.8,121.0ZM593.8,121.0L600.5,123.5L600.5,123.4L593.9,120.9ZM600.0,124.6L606.5,127.4L606.7,126.8L600.2,124.1ZM600.2,124.1L606.7,126.8L607.0,126.2L600.5,123.4ZM598.6,185.5L603.5,188.7L604.5,187.1L599.5,183.9ZM607.1,194.0L611.6,197.7L612.8,195.8L608.3,192.1ZM671.8,179.6L676.0,185.1L678.2,182.6L673.9,177.1ZM716.6,330.2L716.4,336.4L719.4,335.4L719.5,329.2ZM716.4,336.4L716.1,342.4L719.1,341.5L719.4,335.4ZM716.1,342.4L715.8,348.4L718.7,347.5L719.1,341.5ZM715.8,348.4L715.3,354.3L718.3,353.5L718.7,347.5ZM715.3,354.3L714.8,360.1L717.7,359.4L718.3,353.5ZM714.8,360.1L714.2,365.9L717.1,365.2L717.7,359.4ZM714.2,365.9L713.5,371.6L716.4,371.0L717.1,365.2Z" fill="#626262" stroke="#626262" stroke-width="0.7"/>
<path d="M460.1,137.1L470.0,133.7L470.0,132.7L460.1,136.2ZM545.5,117.1L556.5,118.2L556.7,117.6L545.7,116.6ZM556.8,117.3L567.8,119.1L567.9,118.6L556.9,116.8ZM558.0,113.1L569.1,114.9L569.3,114.5L558.1,112.7ZM568.2,117.8L579.1,120.3L579.6,118.9L568.6,116.4ZM568.6,116.4L579.6,118.9L580.2,117.2L569.2,114.7ZM569.2,114.7L580.2,117.2L580.3,116.9L569.3,114.4ZM579.3,119.6L586.1,121.5L586.5,120.4L579.7,118.5ZM579.7,118.5L586.5,120.4L587.0,119.0L580.3,117.1ZM611.6,197.7L616.0,201.5L617.2,199.7L612.8,195.8ZM667.3,174.2L671.8,179.6L673.9,177.1L669.3,171.7ZM639.3,235.2L642.1,240.3L643.7,238.6L640.9,233.5ZM713.5,371.6L712.8,377.2L715.7,376.7L716.4,371.0ZM712.8,377.2L711.9,382.8L714.9,382.3L715.7,376.7ZM711.9,382.8L711.1,388.3L714.0,387.9L714.9,382.3ZM711.1,388.3L710.1,393.7L713.0,393.4L714.0,387.9Z" fill="#636363" stroke="#636363" stroke-width="0.7"/>
<path d="M403.3,152.6L412.1,147.5L411.9,146.7L403.1,151.8ZM534.3,117.6L545.3,117.9L545.5,117.3L534.4,116.9ZM535.5,111.9L546.7,112.3L546.8,111.8L535.6,111.4ZM545.7,116.6L556.7,117.6L557.3,115.6L546.2,114.6ZM546.2,114.6L557.3,115.6L558.0,113.2L546.8,112.1ZM546.8,112.1L558.0,113.2L558.1,112.8L546.9,111.7ZM556.9,116.8L567.9,118.6L568.5,116.9L557.4,115.1ZM557.4,115.1L568.5,116.9L569.1,114.9L558.0,113.1ZM603.5,188.7L608.3,192.1L609.3,190.5L604.5,187.1ZM662.6,169.0L667.3,174.2L669.3,171.7L664.6,166.5ZM642.1,240.3L644.6,245.4L646.2,243.8L643.7,238.6ZM710.1,393.7L709.1,399.1L712.0,398.8L713.0,393.4ZM709.1,399.1L708.1,404.4L710.9,404.2L712.0,398.8ZM708.1,404.4L707.0,409.7L709.8,409.5L710.9,404.2ZM707.0,409.7L706.5,411.7L709.4,411.6L709.8,409.5ZM706.5,411.7L704.2,422.0L707.0,422.1L709.4,411.6Z" fill="#646464" stroke="#646464" stroke-width="0.7"/>
<path d="M407.1,167.8L415.4,162.9L415.1,161.8L406.8,166.7ZM449.7,129.8L459.7,126.0L459.7,125.3L449.7,129.1ZM523.1,118.7L534.1,118.3L534.3,117.6L523.3,118.0ZM524.2,112.3L535.5,112.0L535.6,111.5L524.3,111.8ZM534.4,116.9L545.5,117.3L546.0,115.0L534.9,114.7ZM534.9,114.7L546.0,115.0L546.7,112.3L535.5,111.9ZM616.0,201.5L620.1,205.6L621.4,203.8L617.2,199.7ZM657.7,164.0L662.6,169.0L664.6,166.5L659.6,161.4ZM704.2,422.0L701.6,432.1L704.4,432.3L707.0,422.1ZM701.6,432.1L698.9,442.0L701.6,442.3L704.4,432.3Z" fill="#656565" stroke="#656565" stroke-width="0.7"/>
<path d="M450.5,141.5L460.1,137.7L460.1,136.7L450.5,140.5ZM523.3,118.0L534.3,117.6L534.8,115.1L523.7,115.4ZM523.7,115.4L534.8,115.1L535.5,112.0L524.2,112.3ZM620.1,205.6L624.1,209.9L625.4,208.0L621.4,203.8ZM652.6,159.2L657.7,164.0L659.6,161.4L654.4,156.6ZM644.6,245.4L647.0,250.6L648.6,249.0L646.2,243.8ZM698.9,442.0L696.1,451.8L698.8,452.2L701.6,442.3ZM696.1,451.8L693.2,461.4L695.8,461.8L698.8,452.2Z" fill="#666666" stroke="#666666" stroke-width="0.7"/>
<path d="M394.9,157.9L403.3,152.6L403.1,151.8L394.6,157.1ZM512.1,120.4L523.0,119.4L523.1,118.6L512.2,119.6ZM513.1,113.4L524.2,112.5L524.3,111.9L513.2,112.8ZM608.3,192.1L612.8,195.8L613.9,194.2L609.3,190.5ZM647.3,154.6L652.6,159.2L654.4,156.6L649.1,152.0ZM647.0,250.6L649.1,255.9L650.8,254.3L648.6,249.0ZM693.2,461.4L690.1,470.8L692.7,471.4L695.8,461.8ZM690.1,470.8L686.9,480.2L689.5,480.9L692.7,471.4Z" fill="#676767" stroke="#676767" stroke-width="0.7"/>
<path d="M399.2,173.2L407.2,168.2L406.9,167.1L398.9,172.1ZM512.2,119.6L523.1,118.6L523.6,115.8L512.6,116.8ZM512.6,116.8L523.6,115.8L524.2,112.5L513.1,113.4ZM641.9,150.2L647.3,154.6L649.1,152.0L643.6,147.5ZM624.1,209.9L627.8,214.3L629.2,212.5L625.4,208.0ZM649.1,255.9L651.1,261.2L652.9,259.6L650.8,254.3ZM686.9,480.2L683.7,489.4L686.2,490.2L689.5,480.9ZM683.7,489.4L680.3,498.6L682.8,499.6L686.2,490.2ZM680.3,498.6L676.8,507.8L679.3,508.8L682.8,499.6Z" fill="#686868" stroke="#686868" stroke-width="0.7"/>
<path d="M439.9,134.0L449.7,129.9L449.7,129.1L439.9,133.3ZM612.8,195.8L617.2,199.7L618.3,198.1L613.9,194.2ZM651.1,261.2L652.9,266.5L654.7,265.0L652.9,259.6ZM676.8,507.8L673.2,516.9L675.7,518.1L679.3,508.8ZM673.2,516.9L669.5,526.1L671.9,527.4L675.7,518.1ZM669.5,526.1L665.7,535.3L668.1,536.7L671.9,527.4Z" fill="#696969" stroke="#696969" stroke-width="0.7"/>
<path d="M386.6,163.4L394.9,158.0L394.6,157.1L386.4,162.6ZM441.2,146.1L450.6,142.1L450.5,141.1L441.1,145.1ZM501.3,122.6L512.0,121.0L512.1,120.2L501.3,121.7ZM636.2,146.0L641.9,150.2L643.6,147.5L637.9,143.3ZM627.8,214.3L631.4,218.9L632.8,217.1L629.2,212.5ZM665.7,535.3L661.8,544.6L664.1,546.1L668.1,536.7ZM661.8,544.6L657.7,553.9L660.0,555.5L664.1,546.1ZM657.7,553.9L653.4,563.3L655.7,565.1L660.0,555.5ZM653.4,563.3L649.0,572.9L651.2,574.8L655.7,565.1ZM649.0,572.9L644.4,582.6L646.5,584.6L651.2,574.8ZM644.4,582.6L639.5,592.4L641.5,594.5L646.5,584.6ZM639.5,592.4L634.3,602.5L636.3,604.7L641.5,594.5ZM634.3,602.5L628.8,612.7L630.7,615.0L636.3,604.7ZM628.8,612.7L623.0,623.0L624.8,625.5L630.7,615.0ZM623.0,623.0L616.8,633.6L618.5,636.1L624.8,625.5ZM616.8,633.6L610.2,644.4L611.8,647.0L618.5,636.1Z" fill="#6a6a6a" stroke="#6a6a6a" stroke-width="0.7"/>
<path d="M391.6,178.7L399.3,173.5L399.0,172.4L391.2,177.6ZM470.0,176.7L478.6,173.8L479.1,159.2L470.0,162.1ZM470.0,162.1L479.1,159.2L479.6,144.6L470.0,147.5ZM478.6,173.8L487.4,171.3L488.4,156.3L479.1,158.8ZM479.1,158.8L488.4,156.3L489.5,141.3L479.6,143.9ZM487.4,171.3L496.4,169.2L498.0,153.8L488.5,155.9ZM488.5,155.9L498.0,153.8L499.6,138.5L489.5,140.6ZM496.4,169.2L505.5,167.5L507.7,151.8L498.0,153.4ZM498.0,153.4L507.7,151.8L509.9,136.1L499.7,137.7ZM502.0,115.1L513.1,113.5L513.2,112.9L502.1,114.4ZM505.5,167.5L514.7,166.3L517.6,150.3L507.7,151.4ZM507.7,151.4L517.6,150.3L520.4,134.3L510.0,135.3ZM514.7,166.3L524.1,165.6L527.5,149.3L517.6,149.9ZM517.6,149.9L527.5,149.3L531.0,133.0L520.5,133.5ZM524.1,165.6L533.4,165.6L537.6,149.0L527.6,148.9ZM527.6,148.9L537.6,149.0L541.7,132.4L531.2,132.2ZM533.4,165.6L542.8,166.1L547.6,149.2L537.7,148.5ZM537.7,148.5L547.6,149.2L552.5,132.4L541.9,131.5ZM542.8,166.1L552.1,167.2L557.7,150.1L547.8,148.7ZM547.8,148.7L557.7,150.1L563.3,133.0L552.8,131.4ZM552.1,167.2L561.4,169.0L567.7,151.6L557.9,149.6ZM557.9,149.6L567.7,151.6L574.0,134.2L563.6,131.9ZM561.4,169.0L567.0,170.5L573.9,152.8L567.8,151.2ZM567.8,151.2L573.9,152.8L580.8,135.2L574.3,133.4ZM567.0,170.5L572.7,172.2L580.0,154.4L574.0,152.5ZM574.0,152.5L580.0,154.4L587.4,136.6L581.0,134.5ZM572.7,172.2L578.2,174.1L586.1,156.2L580.2,154.0ZM580.2,154.0L586.1,156.2L594.0,138.2L587.7,135.9ZM578.2,174.1L583.6,176.3L592.1,158.2L586.2,155.8ZM586.2,155.8L592.1,158.2L600.5,140.1L594.3,137.5ZM592.2,157.9L598.0,160.5L606.9,142.3L600.8,139.4ZM616.0,153.9L621.6,157.5L622.5,155.8L616.9,152.3ZM616.9,152.3L622.5,155.8L627.3,147.6L621.5,143.9ZM621.6,157.5L627.0,161.2L628.0,159.6L622.5,155.8ZM622.5,155.8L628.0,159.6L632.9,151.5L627.3,147.6ZM630.4,142.1L636.2,146.0L637.9,143.3L632.0,139.4ZM627.0,161.2L632.3,165.2L633.3,163.6L628.0,159.6ZM628.0,159.6L633.3,163.6L638.5,155.6L632.9,151.5ZM632.3,165.2L637.4,169.5L638.5,167.9L633.3,163.6ZM633.3,163.6L638.5,167.9L643.8,159.9L638.5,155.6ZM617.2,199.7L621.4,203.8L622.5,202.2L618.3,198.1ZM637.4,169.5L642.3,173.9L643.4,172.3L638.5,167.9ZM638.5,167.9L643.4,172.3L648.9,164.5L643.8,159.9ZM642.3,173.9L647.1,178.5L648.2,177.0L643.4,172.3ZM643.4,172.3L648.2,177.0L653.9,169.2L648.9,164.5ZM647.1,178.5L651.6,183.3L652.8,181.8L648.2,177.0ZM648.2,177.0L652.8,181.8L658.7,174.1L653.9,169.2ZM651.6,183.3L655.9,188.3L657.1,186.8L652.8,181.8ZM652.8,181.8L657.1,186.8L663.2,179.2L658.7,174.1ZM631.4,218.9L634.8,223.7L636.2,221.9L632.8,217.1ZM655.9,188.3L660.1,193.5L661.3,192.0L657.1,186.8ZM657.1,186.8L661.3,192.0L667.6,184.5L663.2,179.2ZM660.1,193.5L664.0,198.8L665.3,197.4L661.3,192.0ZM661.3,192.0L665.3,197.4L671.7,190.0L667.6,184.5ZM667.6,184.5L671.7,190.0L676.0,185.1L671.8,179.6ZM664.0,198.8L667.7,204.3L669.0,202.8L665.3,197.4ZM665.3,197.4L669.0,202.8L675.6,195.6L671.7,190.0ZM671.7,190.0L675.6,195.6L680.1,190.8L676.0,185.1ZM669.0,202.8L672.5,208.4L679.3,201.3L675.6,195.6ZM675.6,195.6L679.3,201.3L683.9,196.6L680.1,190.8ZM672.5,208.4L675.8,214.2L682.8,207.2L679.3,201.3ZM679.3,201.3L682.8,207.2L687.5,202.5L683.9,196.6ZM675.8,214.2L678.9,220.0L686.1,213.2L682.8,207.2ZM682.8,207.2L686.1,213.2L690.8,208.6L687.5,202.5ZM678.9,220.0L681.8,225.9L689.1,219.2L686.1,213.2ZM686.1,213.2L689.1,219.2L694.0,214.8L690.8,208.6ZM681.8,225.9L684.5,231.9L691.9,225.4L689.1,219.2ZM689.1,219.2L691.9,225.4L696.9,221.0L694.0,214.8ZM684.5,231.9L686.9,238.0L694.5,231.6L691.9,225.4ZM691.9,225.4L694.5,231.6L699.6,227.4L696.9,221.0ZM652.9,266.5L654.6,271.8L656.4,270.4L654.7,265.0ZM686.9,238.0L689.2,244.1L696.9,237.9L694.5,231.6ZM694.5,231.6L696.9,237.9L702.0,233.8L699.6,227.4ZM689.2,244.1L691.2,250.3L699.1,244.2L696.9,237.9ZM696.9,237.9L699.1,244.2L704.3,240.2L702.0,233.8ZM691.2,250.3L693.0,256.5L701.0,250.6L699.1,244.2ZM699.1,244.2L701.0,250.6L706.4,246.7L704.3,240.2ZM693.0,256.5L694.7,262.7L702.8,257.0L701.0,250.6ZM701.0,250.6L702.8,257.0L708.2,253.2L706.4,246.7ZM694.7,262.7L696.2,268.9L704.4,263.4L702.8,257.0ZM702.8,257.0L704.4,263.4L709.8,259.8L708.2,253.2ZM696.2,268.9L697.4,275.1L705.7,269.8L704.4,263.4ZM704.4,263.4L705.7,269.8L711.3,266.3L709.8,259.8ZM697.4,275.1L698.5,281.3L706.9,276.2L705.7,269.8ZM705.7,269.8L706.9,276.2L712.5,272.8L711.3,266.3ZM698.5,281.3L699.5,287.5L707.9,282.6L706.9,276.2ZM706.9,276.2L707.9,282.6L713.6,279.4L712.5,272.8ZM699.5,287.5L700.2,293.7L708.8,289.0L707.9,282.6ZM707.9,282.6L708.8,289.0L714.5,285.9L713.6,279.4ZM700.2,293.7L700.9,299.8L709.5,295.3L708.8,289.0ZM708.8,289.0L709.5,295.3L715.2,292.3L714.5,285.9ZM700.9,299.8L701.3,305.9L710.0,301.6L709.5,295.3ZM709.5,295.3L710.0,301.6L715.8,298.8L715.2,292.3ZM701.3,305.9L701.7,312.0L710.4,307.9L710.0,301.6ZM710.0,301.6L710.4,307.9L716.2,305.2L715.8,298.8ZM701.7,312.0L701.9,318.0L710.6,314.1L710.4,307.9ZM710.4,307.9L710.6,314.1L716.5,311.5L716.2,305.2ZM701.9,318.0L702.0,323.9L710.8,320.3L710.6,314.1ZM710.6,314.1L710.8,320.3L716.6,317.8L716.5,311.5ZM702.0,323.9L702.0,329.8L710.8,326.4L710.8,320.3ZM710.8,320.3L710.8,326.4L716.7,324.1L716.6,317.8ZM702.0,329.8L701.8,335.6L710.7,332.4L710.8,326.4ZM710.8,326.4L710.7,332.4L716.6,330.2L716.7,324.1Z" fill="#6b6b6b" stroke="#6b6b6b" stroke-width="0.7"/>
<path d="M409.1,207.6L415.9,203.2L413.1,192.0L405.9,196.6ZM405.9,196.6L413.1,192.0L410.3,180.7L402.8,185.6ZM415.9,203.2L423.0,198.9L420.5,187.3L413.1,191.8ZM413.1,191.8L420.5,187.3L418.1,175.7L410.2,180.4ZM423.0,198.9L430.3,194.7L428.2,182.7L420.5,187.0ZM420.5,187.0L428.2,182.7L426.0,170.7L418.0,175.2ZM430.3,194.7L437.8,190.7L436.0,178.3L428.1,182.4ZM428.1,182.4L436.0,178.3L434.3,165.8L425.9,170.1ZM437.8,190.7L445.5,186.9L444.1,174.0L436.0,178.0ZM436.0,178.0L444.1,174.0L442.8,161.1L434.2,165.2ZM445.5,186.9L453.4,183.3L452.5,169.9L444.1,173.7ZM444.1,173.7L452.5,169.9L451.6,156.5L442.7,160.4ZM453.4,183.3L461.6,179.8L461.1,166.0L452.5,169.6ZM452.5,169.6L461.1,166.0L460.6,152.2L451.5,155.8ZM461.6,179.8L470.0,176.7L470.0,162.4L461.1,165.7ZM461.1,165.7L470.0,162.4L470.0,148.2L460.6,151.5ZM501.3,121.7L512.1,120.2L512.6,117.2L501.7,118.7ZM501.7,118.7L512.6,117.2L513.1,113.5L502.0,115.1ZM583.6,176.3L589.0,178.8L598.0,160.5L592.2,157.9ZM598.1,160.2L603.7,163.1L613.3,144.8L607.3,141.6ZM603.9,162.8L609.4,166.0L619.5,147.5L613.6,144.1ZM611.1,162.8L616.5,166.2L617.5,164.6L612.0,161.1ZM612.0,161.1L617.5,164.6L619.7,160.8L614.1,157.3ZM614.1,157.3L619.7,160.8L620.6,159.1L615.1,155.6ZM615.1,155.6L620.6,159.1L621.6,157.5L616.0,153.9ZM619.7,160.8L625.1,164.5L626.0,162.9L620.6,159.1ZM620.6,159.1L626.0,162.9L627.0,161.2L621.6,157.5ZM626.0,162.9L631.3,166.8L632.3,165.2L627.0,161.2ZM631.3,166.8L636.3,171.0L637.4,169.5L632.3,165.2ZM636.3,171.0L641.2,175.5L642.3,173.9L637.4,169.5ZM653.9,169.2L658.7,174.1L662.6,169.0L657.7,164.0ZM658.7,174.1L663.2,179.2L667.3,174.2L662.6,169.0ZM663.2,179.2L667.6,184.5L671.8,179.6L667.3,174.2ZM667.7,204.3L671.2,209.9L672.5,208.4L669.0,202.8ZM671.2,209.9L674.4,215.6L675.8,214.2L672.5,208.4ZM674.4,215.6L677.5,221.4L678.9,220.0L675.8,214.2ZM677.5,221.4L680.3,227.3L681.8,225.9L678.9,220.0ZM680.3,227.3L683.0,233.2L684.5,231.9L681.8,225.9ZM683.0,233.2L685.4,239.3L686.9,238.0L684.5,231.9ZM685.4,239.3L687.6,245.4L689.2,244.1L686.9,238.0ZM654.6,271.8L656.1,277.2L657.9,275.8L656.4,270.4ZM687.6,245.4L689.6,251.5L691.2,250.3L689.2,244.1ZM689.6,251.5L691.4,257.6L693.0,256.5L691.2,250.3ZM691.4,257.6L693.1,263.8L694.7,262.7L693.0,256.5ZM693.1,263.8L694.5,270.0L696.2,268.9L694.7,262.7ZM694.5,270.0L695.8,276.2L697.4,275.1L696.2,268.9ZM695.8,276.2L696.9,282.3L698.5,281.3L697.4,275.1ZM696.9,282.3L697.8,288.5L699.5,287.5L698.5,281.3ZM697.8,288.5L698.5,294.6L700.2,293.7L699.5,287.5ZM698.5,294.6L699.1,300.7L700.9,299.8L700.2,293.7ZM699.1,300.7L699.6,306.8L701.3,305.9L700.9,299.8ZM701.8,335.6L701.6,341.4L710.5,338.4L710.7,332.4ZM710.7,332.4L710.5,338.4L716.4,336.4L716.6,330.2ZM701.6,341.4L701.3,347.1L710.2,344.3L710.5,338.4ZM710.5,338.4L710.2,344.3L716.1,342.4L716.4,336.4ZM701.3,347.1L701.0,352.7L709.8,350.1L710.2,344.3ZM710.2,344.3L709.8,350.1L715.8,348.4L716.1,342.4ZM701.0,352.7L700.5,358.2L709.4,355.9L709.8,350.1ZM709.8,350.1L709.4,355.9L715.3,354.3L715.8,348.4ZM700.5,358.2L700.0,363.7L708.9,361.5L709.4,355.9ZM709.4,355.9L708.9,361.5L714.8,360.1L715.3,354.3ZM700.0,363.7L699.4,369.1L708.3,367.2L708.9,361.5ZM708.9,361.5L708.3,367.2L714.2,365.9L714.8,360.1ZM699.4,369.1L698.8,374.5L707.6,372.7L708.3,367.2ZM708.3,367.2L707.6,372.7L713.5,371.6L714.2,365.9Z" fill="#6c6c6c" stroke="#6c6c6c" stroke-width="0.7"/>
<path d="M383.7,226.1L389.7,221.4L385.7,211.4L379.3,216.3ZM379.3,216.3L385.7,211.4L381.7,201.4L375.0,206.6ZM389.7,221.4L396.0,216.7L392.3,206.4L385.7,211.3ZM385.7,211.3L392.3,206.4L388.5,196.2L381.6,201.3ZM396.0,216.7L402.4,212.1L399.0,201.5L392.2,206.4ZM392.2,206.4L399.0,201.5L395.6,191.0L388.5,196.0ZM402.4,212.1L409.1,207.6L406.0,196.7L399.0,201.4ZM399.0,201.4L406.0,196.7L402.9,185.9L395.5,190.8ZM430.4,138.5L439.9,134.1L439.9,133.3L430.3,137.8ZM589.0,178.8L594.2,181.5L603.7,163.1L598.1,160.2ZM594.2,181.5L599.2,184.4L609.4,166.0L603.9,162.8ZM610.2,164.5L615.6,167.9L616.5,166.2L611.1,162.8ZM616.5,166.2L621.8,169.9L622.7,168.3L617.5,164.6ZM617.5,164.6L622.7,168.3L625.1,164.5L619.7,160.8ZM621.8,169.9L626.8,173.8L627.9,172.2L622.7,168.3ZM622.7,168.3L627.9,172.2L630.3,168.4L625.1,164.5ZM625.1,164.5L630.3,168.4L631.3,166.8L626.0,162.9ZM627.9,172.2L632.8,176.3L635.3,172.6L630.3,168.4ZM630.3,168.4L635.3,172.6L636.3,171.0L631.3,166.8ZM638.5,155.6L643.8,159.9L647.3,154.6L641.9,150.2ZM643.8,159.9L648.9,164.5L652.6,159.2L647.3,154.6ZM641.2,175.5L645.9,180.1L647.1,178.5L642.3,173.9ZM648.9,164.5L653.9,169.2L657.7,164.0L652.6,159.2ZM645.9,180.1L650.4,184.9L651.6,183.3L647.1,178.5ZM650.4,184.9L654.7,189.9L655.9,188.3L651.6,183.3ZM634.8,223.7L637.9,228.5L639.4,226.8L636.2,221.9ZM699.6,306.8L699.9,312.8L701.7,312.0L701.3,305.9ZM699.9,312.8L700.1,318.7L701.9,318.0L701.7,312.0ZM700.1,318.7L700.2,324.6L702.0,323.9L701.9,318.0ZM700.2,324.6L700.2,330.5L702.0,329.8L702.0,323.9ZM700.2,330.5L700.1,336.3L701.8,335.6L702.0,329.8ZM700.1,336.3L699.9,342.0L701.6,341.4L701.8,335.6ZM699.9,342.0L699.6,347.6L701.3,347.1L701.6,341.4ZM698.8,374.5L698.1,379.8L706.9,378.2L707.6,372.7ZM707.6,372.7L706.9,378.2L712.8,377.2L713.5,371.6ZM698.1,379.8L697.4,385.0L706.1,383.7L706.9,378.2ZM706.9,378.2L706.1,383.7L711.9,382.8L712.8,377.2ZM697.4,385.0L696.5,390.2L705.3,389.0L706.1,383.7ZM706.1,383.7L705.3,389.0L711.1,388.3L711.9,382.8ZM696.5,390.2L695.7,395.3L704.4,394.3L705.3,389.0ZM705.3,389.0L704.4,394.3L710.1,393.7L711.1,388.3Z" fill="#6d6d6d" stroke="#6d6d6d" stroke-width="0.7"/>
<path d="M231.3,403.3L241.9,387.9L234.4,386.9L223.8,402.8ZM223.8,402.8L234.4,386.9L226.8,385.8L216.4,402.3ZM241.9,387.9L252.0,373.7L244.3,372.0L234.2,386.9ZM234.2,386.9L244.3,372.0L236.6,370.4L226.5,385.8ZM252.0,373.7L261.7,360.3L253.9,358.0L244.1,372.0ZM244.1,372.0L253.9,358.0L246.1,355.8L236.2,370.3ZM261.7,360.3L271.1,347.6L263.2,344.7L253.7,358.0ZM253.7,358.0L263.2,344.7L255.4,341.9L245.7,355.7ZM271.1,347.6L280.2,335.5L272.4,332.0L263.0,344.7ZM263.0,344.7L272.4,332.0L264.6,328.5L255.0,341.8ZM280.2,335.5L289.1,323.8L281.4,319.7L272.2,331.9ZM272.2,331.9L281.4,319.7L273.8,315.7L264.2,328.4ZM289.1,323.8L298.1,312.6L290.5,307.9L281.2,319.6ZM281.2,319.6L290.5,307.9L283.0,303.1L273.3,315.4ZM298.1,312.6L307.1,301.7L299.7,296.3L290.3,307.7ZM290.3,307.7L299.7,296.3L292.3,290.9L282.5,302.8ZM307.1,301.7L316.3,291.0L309.1,285.0L299.5,296.1ZM299.5,296.1L309.1,285.0L301.9,278.9L291.9,290.6ZM316.3,291.0L325.6,280.6L318.7,273.9L308.9,284.8ZM308.9,284.8L318.7,273.9L311.7,267.2L301.5,278.6ZM325.6,280.6L335.2,270.3L328.6,263.0L318.5,273.7ZM318.5,273.7L328.6,263.0L322.1,255.7L311.4,266.9ZM335.2,270.3L345.2,260.2L339.0,252.3L328.5,262.9ZM328.5,262.9L339.0,252.3L332.9,244.5L321.9,255.5ZM345.2,260.2L350.3,255.2L344.4,247.1L339.0,252.3ZM339.0,252.3L344.4,247.1L338.4,238.9L332.7,244.3ZM350.3,255.2L355.5,250.3L349.8,241.9L344.3,247.0ZM344.3,247.0L349.8,241.9L344.1,233.4L338.4,238.8ZM355.5,250.3L360.9,245.4L355.5,236.7L349.8,241.8ZM349.8,241.8L355.5,236.7L350.0,228.0L344.1,233.3ZM360.9,245.4L366.4,240.5L361.2,231.6L355.4,236.7ZM355.4,236.7L361.2,231.6L356.0,222.6L350.0,227.9ZM366.4,240.5L372.0,235.7L367.1,226.5L361.2,231.5ZM361.2,231.5L367.1,226.5L362.2,217.2L356.0,222.5ZM372.0,235.7L377.8,230.9L373.1,221.4L367.1,226.4ZM367.1,226.4L373.1,221.4L368.5,211.9L362.2,217.2ZM377.8,230.9L383.7,226.1L379.3,216.4L373.1,221.4ZM373.1,221.4L379.3,216.4L375.0,206.6L368.5,211.9ZM384.2,184.2L391.7,178.9L391.3,177.8L383.8,183.1ZM378.7,169.0L386.6,163.4L386.4,162.6L378.4,168.2ZM432.2,151.0L441.3,146.7L441.2,145.7L432.0,149.9ZM490.6,125.3L501.2,123.2L501.3,122.3L490.7,124.4ZM607.3,141.6L613.3,144.8L615.3,140.8L609.2,137.7ZM613.6,144.1L619.5,147.5L621.6,143.6L615.7,140.2ZM599.5,183.9L604.5,187.1L609.9,177.8L604.7,174.4ZM604.7,174.4L609.9,177.8L614.6,169.5L609.3,166.1ZM609.3,166.1L614.6,169.5L615.6,167.9L610.2,164.5ZM615.6,167.9L620.8,171.5L621.8,169.9L616.5,166.2ZM627.3,147.6L632.9,151.5L636.2,146.0L630.4,142.1ZM632.9,151.5L638.5,155.6L641.9,150.2L636.2,146.0ZM626.8,173.8L631.7,177.9L632.8,176.3L627.9,172.2ZM631.7,177.9L636.5,182.3L637.6,180.7L632.8,176.3ZM632.8,176.3L637.6,180.7L640.1,177.0L635.3,172.6ZM635.3,172.6L640.1,177.0L641.2,175.5L636.3,171.0ZM621.4,203.8L625.4,208.0L626.5,206.5L622.5,202.2ZM637.6,180.7L642.1,185.3L644.8,181.6L640.1,177.0ZM640.1,177.0L644.8,181.6L645.9,180.1L641.2,175.5ZM654.7,189.9L658.8,195.0L660.1,193.5L655.9,188.3ZM658.8,195.0L662.7,200.3L664.0,198.8L660.1,193.5ZM662.7,200.3L666.3,205.7L667.7,204.3L664.0,198.8ZM666.3,205.7L669.8,211.3L671.2,209.9L667.7,204.3ZM656.1,277.2L657.4,282.6L659.2,281.2L657.9,275.8ZM699.6,347.6L699.2,353.2L701.0,352.7L701.3,347.1ZM699.2,353.2L698.8,358.7L700.5,358.2L701.0,352.7ZM698.8,358.7L698.2,364.1L700.0,363.7L700.5,358.2ZM698.2,364.1L697.7,369.5L699.4,369.1L700.0,363.7ZM697.7,369.5L697.0,374.8L698.8,374.5L699.4,369.1ZM695.7,395.3L694.8,400.3L703.4,399.6L704.4,394.3ZM704.4,394.3L703.4,399.6L709.1,399.1L710.1,393.7ZM694.8,400.3L693.8,405.3L702.4,404.8L703.4,399.6ZM703.4,399.6L702.4,404.8L708.1,404.4L709.1,399.1ZM693.8,405.3L692.8,410.3L701.3,409.9L702.4,404.8ZM702.4,404.8L701.3,409.9L707.0,409.7L708.1,404.4ZM692.8,410.3L692.4,412.2L700.9,411.9L701.3,409.9ZM701.3,409.9L700.9,411.9L706.5,411.7L707.0,409.7ZM692.4,412.2L690.2,421.9L698.6,422.0L700.9,411.9ZM700.9,411.9L698.6,422.0L704.2,422.0L706.5,411.7Z" fill="#6e6e6e" stroke="#6e6e6e" stroke-width="0.7"/>
<path d="M491.2,117.3L502.0,115.2L502.1,114.5L491.2,116.6ZM594.3,137.5L600.5,140.1L602.4,136.1L596.1,133.5ZM600.8,139.4L606.9,142.3L608.9,138.3L602.7,135.4ZM621.5,143.9L627.3,147.6L630.4,142.1L624.5,138.4ZM604.5,187.1L609.3,190.5L614.9,181.3L609.9,177.8ZM609.9,177.8L614.9,181.3L619.8,173.2L614.6,169.5ZM614.6,169.5L619.8,173.2L620.8,171.5L615.6,167.9ZM620.8,171.5L625.8,175.4L626.8,173.8L621.8,169.9ZM625.8,175.4L630.7,179.5L631.7,177.9L626.8,173.8ZM636.5,182.3L641.0,186.8L642.1,185.3L637.6,180.7ZM641.0,186.8L645.3,191.5L646.5,190.0L642.1,185.3ZM642.1,185.3L646.5,190.0L649.2,186.4L644.8,181.6ZM644.8,181.6L649.2,186.4L650.4,184.9L645.9,180.1ZM646.5,190.0L650.7,194.9L653.5,191.4L649.2,186.4ZM649.2,186.4L653.5,191.4L654.7,189.9L650.4,184.9ZM637.9,228.5L640.9,233.5L642.4,231.8L639.4,226.8ZM669.8,211.3L673.0,217.0L674.4,215.6L671.2,209.9ZM673.0,217.0L676.1,222.7L677.5,221.4L674.4,215.6ZM676.1,222.7L678.9,228.6L680.3,227.3L677.5,221.4ZM657.4,282.6L658.5,288.0L660.4,286.7L659.2,281.2ZM697.0,374.8L696.4,380.1L698.1,379.8L698.8,374.5ZM696.4,380.1L695.6,385.3L697.4,385.0L698.1,379.8ZM695.6,385.3L694.8,390.4L696.5,390.2L697.4,385.0ZM694.8,390.4L694.0,395.5L695.7,395.3L696.5,390.2ZM694.0,395.5L693.1,400.5L694.8,400.3L695.7,395.3ZM690.2,421.9L687.9,431.4L696.1,431.9L698.6,422.0ZM698.6,422.0L696.1,431.9L701.6,432.1L704.2,422.0ZM687.9,431.4L685.4,440.7L693.5,441.5L696.1,431.9ZM696.1,431.9L693.5,441.5L698.9,442.0L701.6,432.1Z" fill="#6f6f6f" stroke="#6f6f6f" stroke-width="0.7"/>
<path d="M490.7,124.4L501.3,122.3L501.6,119.1L490.9,121.2ZM490.9,121.2L501.6,119.1L502.0,115.2L491.2,117.3ZM574.3,133.4L580.8,135.2L582.4,131.0L575.8,129.2ZM581.0,134.5L587.4,136.6L589.1,132.4L582.6,130.3ZM587.7,135.9L594.0,138.2L595.8,134.1L589.4,131.8ZM615.7,140.2L621.6,143.6L624.5,138.3L618.4,134.8ZM619.8,173.2L624.8,177.0L625.8,175.4L620.8,171.5ZM630.7,179.5L635.4,183.8L636.5,182.3L631.7,177.9ZM625.4,208.0L629.2,212.5L630.4,211.0L626.5,206.5ZM645.3,191.5L649.4,196.4L650.7,194.9L646.5,190.0ZM650.7,194.9L654.6,200.0L657.5,196.5L653.5,191.4ZM653.5,191.4L657.5,196.5L658.8,195.0L654.7,189.9ZM657.5,196.5L661.4,201.8L662.7,200.3L658.8,195.0ZM640.9,233.5L643.7,238.6L645.2,236.9L642.4,231.8ZM678.9,228.6L681.5,234.5L683.0,233.2L680.3,227.3ZM681.5,234.5L683.9,240.5L685.4,239.3L683.0,233.2ZM683.9,240.5L686.1,246.6L687.6,245.4L685.4,239.3ZM693.1,400.5L692.1,405.4L693.8,405.3L694.8,400.3ZM692.1,405.4L691.1,410.3L692.8,410.3L693.8,405.3ZM691.1,410.3L690.7,412.3L692.4,412.2L692.8,410.3ZM690.7,412.3L688.6,421.9L690.2,421.9L692.4,412.2ZM685.4,440.7L682.8,449.9L690.8,451.0L693.5,441.5ZM693.5,441.5L690.8,451.0L696.1,451.8L698.9,442.0ZM682.8,449.9L680.1,458.9L687.9,460.4L690.8,451.0ZM690.8,451.0L687.9,460.4L693.2,461.4L696.1,451.8Z" fill="#707070" stroke="#707070" stroke-width="0.7"/>
<path d="M377.0,189.7L384.2,184.3L383.8,183.2L376.5,188.6ZM370.9,174.7L378.7,169.0L378.4,168.2L370.6,174.0ZM421.2,143.3L430.4,138.6L430.3,137.8L421.1,142.5ZM552.8,131.4L563.3,133.0L564.6,128.7L554.0,127.1ZM563.6,131.9L574.0,134.2L575.5,130.1L565.0,127.7ZM609.2,137.7L615.3,140.8L618.1,135.5L611.9,132.3ZM609.3,190.5L613.9,194.2L619.7,185.1L614.9,181.3ZM614.9,181.3L619.7,185.1L624.8,177.0L619.8,173.2ZM624.8,177.0L629.6,181.1L630.7,179.5L625.8,175.4ZM635.4,183.8L639.8,188.4L641.0,186.8L636.5,182.3ZM649.4,196.4L653.4,201.5L654.6,200.0L650.7,194.9ZM653.4,201.5L657.1,206.7L658.4,205.2L654.6,200.0ZM654.6,200.0L658.4,205.2L661.4,201.8L657.5,196.5ZM658.4,205.2L661.9,210.6L665.0,207.2L661.4,201.8ZM661.4,201.8L665.0,207.2L666.3,205.7L662.7,200.3ZM665.0,207.2L668.4,212.7L669.8,211.3L666.3,205.7ZM643.7,238.6L646.2,243.8L647.9,242.1L645.2,236.9ZM686.1,246.6L688.1,252.7L689.6,251.5L687.6,245.4ZM688.1,252.7L689.8,258.8L691.4,257.6L689.6,251.5ZM689.8,258.8L691.5,264.9L693.1,263.8L691.4,257.6ZM658.5,288.0L659.5,293.4L661.4,292.1L660.4,286.7ZM688.6,421.9L686.3,431.3L687.9,431.4L690.2,421.9ZM686.3,431.3L683.8,440.6L685.4,440.7L687.9,431.4ZM680.1,458.9L677.2,467.8L684.9,469.6L687.9,460.4ZM687.9,460.4L684.9,469.6L690.1,470.8L693.2,461.4ZM677.2,467.8L674.2,476.6L681.8,478.7L684.9,469.6ZM684.9,469.6L681.8,478.7L686.9,480.2L690.1,470.8Z" fill="#717171" stroke="#717171" stroke-width="0.7"/>
<path d="M423.5,156.1L432.3,151.6L432.1,150.5L423.3,155.0ZM480.2,128.5L490.6,125.9L490.6,125.0L480.2,127.6ZM480.5,120.0L491.2,117.4L491.2,116.7L480.5,119.3ZM531.2,132.2L541.7,132.4L542.8,128.0L532.1,127.8ZM541.9,131.5L552.5,132.4L553.7,128.1L543.0,127.1ZM602.7,135.4L608.9,138.3L611.6,132.9L605.2,130.0ZM613.9,194.2L618.3,198.1L624.3,189.1L619.7,185.1ZM619.7,185.1L624.3,189.1L629.6,181.1L624.8,177.0ZM629.6,181.1L634.3,185.4L635.4,183.8L630.7,179.5ZM639.8,188.4L644.1,193.1L645.3,191.5L641.0,186.8ZM657.1,206.7L660.6,212.0L661.9,210.6L658.4,205.2ZM661.9,210.6L665.2,216.0L668.4,212.7L665.0,207.2ZM668.4,212.7L671.6,218.4L673.0,217.0L669.8,211.3ZM646.2,243.8L648.6,249.0L650.3,247.4L647.9,242.1ZM691.5,264.9L692.9,271.1L694.5,270.0L693.1,263.8ZM659.5,293.4L660.4,298.7L662.3,297.5L661.4,292.1ZM692.9,271.1L694.1,277.2L695.8,276.2L694.5,270.0ZM683.8,440.6L681.2,449.7L682.8,449.9L685.4,440.7ZM681.2,449.7L678.5,458.6L680.1,458.9L682.8,449.9ZM674.2,476.6L671.1,485.3L678.6,487.8L681.8,478.7ZM681.8,478.7L678.6,487.8L683.7,489.4L686.9,480.2ZM671.1,485.3L667.9,494.0L675.3,496.8L678.6,487.8ZM678.6,487.8L675.3,496.8L680.3,498.6L683.7,489.4ZM667.9,494.0L664.5,502.6L671.9,505.7L675.3,496.8ZM675.3,496.8L671.9,505.7L676.8,507.8L680.3,498.6Z" fill="#727272" stroke="#727272" stroke-width="0.7"/>
<path d="M480.2,127.6L490.6,125.0L490.9,121.6L480.3,124.1ZM480.3,124.1L490.9,121.6L491.2,117.4L480.5,120.0ZM520.5,133.5L531.0,133.0L531.9,128.7L521.3,129.1ZM589.4,131.8L595.8,134.1L598.2,128.6L591.7,126.2ZM596.1,133.5L602.4,136.1L604.9,130.7L598.5,128.0ZM618.3,198.1L622.5,202.2L628.8,193.3L624.3,189.1ZM624.3,189.1L628.8,193.3L634.3,185.4L629.6,181.1ZM629.2,212.5L632.8,217.1L634.0,215.6L630.4,211.0ZM644.1,193.1L648.2,197.9L649.4,196.4L645.3,191.5ZM660.6,212.0L663.9,217.5L665.2,216.0L661.9,210.6ZM663.9,217.5L667.0,223.0L668.4,221.6L665.2,216.0ZM665.2,216.0L668.4,221.6L671.6,218.4L668.4,212.7ZM668.4,221.6L671.3,227.3L674.6,224.1L671.6,218.4ZM671.6,218.4L674.6,224.1L676.1,222.7L673.0,217.0ZM674.6,224.1L677.4,230.0L678.9,228.6L676.1,222.7ZM694.1,277.2L695.2,283.4L696.9,282.3L695.8,276.2ZM695.2,283.4L696.1,289.5L697.8,288.5L696.9,282.3ZM696.1,289.5L696.8,295.6L698.5,294.6L697.8,288.5ZM678.5,458.6L675.6,467.5L677.2,467.8L680.1,458.9ZM675.6,467.5L672.7,476.2L674.2,476.6L677.2,467.8ZM664.5,502.6L661.1,511.1L668.4,514.6L671.9,505.7ZM671.9,505.7L668.4,514.6L673.2,516.9L676.8,507.8ZM661.1,511.1L657.5,519.7L664.7,523.5L668.4,514.6ZM668.4,514.6L664.7,523.5L669.5,526.1L673.2,516.9ZM657.5,519.7L653.9,528.3L661.0,532.5L664.7,523.5ZM664.7,523.5L661.0,532.5L665.7,535.3L669.5,526.1Z" fill="#737373" stroke="#737373" stroke-width="0.7"/>
<path d="M363.4,180.5L370.9,174.7L370.6,174.0L363.0,179.7ZM412.2,148.2L421.2,143.3L421.1,142.5L412.1,147.4ZM510.0,135.3L520.4,134.3L521.2,129.9L510.6,130.9ZM582.6,130.3L589.1,132.4L591.4,126.9L584.8,124.7ZM622.5,202.2L626.5,206.5L633.0,197.7L628.8,193.3ZM628.8,193.3L633.0,197.7L638.7,189.9L634.3,185.4ZM634.3,185.4L638.7,189.9L639.8,188.4L635.4,183.8ZM648.2,197.9L652.1,203.0L653.4,201.5L649.4,196.4ZM667.0,223.0L669.9,228.7L671.3,227.3L668.4,221.6ZM648.6,249.0L650.8,254.3L652.5,252.7L650.3,247.4ZM671.3,227.3L674.0,233.1L677.4,230.0L674.6,224.1ZM674.0,233.1L676.5,238.9L680.0,235.9L677.4,230.0ZM677.4,230.0L680.0,235.9L681.5,234.5L678.9,228.6ZM680.0,235.9L682.3,241.8L683.9,240.5L681.5,234.5ZM660.4,298.7L661.1,304.1L663.0,302.9L662.3,297.5ZM696.8,295.6L697.4,301.6L699.1,300.7L698.5,294.6ZM697.4,301.6L697.9,307.6L699.6,306.8L699.1,300.7ZM672.7,476.2L669.6,484.8L671.1,485.3L674.2,476.6ZM669.6,484.8L666.4,493.4L667.9,494.0L671.1,485.3ZM666.4,493.4L663.0,501.9L664.5,502.6L667.9,494.0ZM653.9,528.3L650.1,537.0L657.1,541.5L661.0,532.5ZM661.0,532.5L657.1,541.5L661.8,544.6L665.7,535.3ZM650.1,537.0L646.2,545.7L653.1,550.6L657.1,541.5ZM657.1,541.5L653.1,550.6L657.7,553.9L661.8,544.6ZM646.2,545.7L642.2,554.5L649.0,559.8L653.1,550.6ZM653.1,550.6L649.0,559.8L653.4,563.3L657.7,553.9ZM642.2,554.5L638.0,563.5L644.6,569.1L649.0,559.8ZM649.0,559.8L644.6,569.1L649.0,572.9L653.4,563.3ZM638.0,563.5L633.7,572.6L640.1,578.6L644.6,569.1ZM644.6,569.1L640.1,578.6L644.4,582.6L649.0,572.9ZM633.7,572.6L629.1,581.9L635.3,588.2L640.1,578.6ZM640.1,578.6L635.3,588.2L639.5,592.4L644.4,582.6ZM629.1,581.9L624.3,591.4L630.3,598.0L635.3,588.2ZM635.3,588.2L630.3,598.0L634.3,602.5L639.5,592.4ZM624.3,591.4L619.3,601.1L625.0,608.0L630.3,598.0ZM630.3,598.0L625.0,608.0L628.8,612.7L634.3,602.5ZM619.3,601.1L613.9,611.0L619.4,618.2L625.0,608.0ZM625.0,608.0L619.4,618.2L623.0,623.0L628.8,612.7ZM613.9,611.0L608.2,621.1L613.4,628.6L619.4,618.2ZM619.4,618.2L613.4,628.6L616.8,633.6L623.0,623.0ZM608.2,621.1L602.2,631.5L607.0,639.2L613.4,628.6ZM613.4,628.6L607.0,639.2L610.2,644.4L616.8,633.6Z" fill="#747474" stroke="#747474" stroke-width="0.7"/>
<path d="M369.9,195.2L377.0,189.8L376.5,188.7L369.4,194.2ZM415.0,161.3L423.6,156.6L423.4,155.5L414.8,160.2ZM499.7,137.7L509.9,136.1L510.5,131.7L500.1,133.3ZM575.8,129.2L582.4,131.0L584.6,125.4L577.9,123.5ZM638.7,189.9L643.0,194.6L644.1,193.1L639.8,188.4ZM632.8,217.1L636.2,221.9L637.5,220.4L634.0,215.6ZM652.1,203.0L655.8,208.2L657.1,206.7L653.4,201.5ZM669.9,228.7L672.5,234.4L674.0,233.1L671.3,227.3ZM650.8,254.3L652.9,259.6L654.6,258.1L652.5,252.7ZM672.5,234.4L675.0,240.2L676.5,238.9L674.0,233.1ZM676.5,238.9L678.8,244.8L682.3,241.8L680.0,235.9ZM682.3,241.8L684.5,247.8L686.1,246.6L683.9,240.5ZM661.1,304.1L661.6,309.4L663.6,308.2L663.0,302.9ZM697.9,307.6L698.2,313.6L699.9,312.8L699.6,306.8ZM698.2,313.6L698.4,319.5L700.1,318.7L699.9,312.8ZM698.4,319.5L698.5,325.4L700.2,324.6L700.1,318.7ZM663.0,501.9L659.6,510.4L661.1,511.1L664.5,502.6ZM659.6,510.4L656.1,519.0L657.5,519.7L661.1,511.1ZM656.1,519.0L652.5,527.5L653.9,528.3L657.5,519.7Z" fill="#757575" stroke="#757575" stroke-width="0.7"/>
<path d="M470.0,132.2L480.2,129.1L480.2,128.1L470.0,131.1ZM470.0,123.2L480.5,120.1L480.5,119.3L470.0,122.4ZM489.5,140.6L499.6,138.5L500.1,134.0L489.9,136.1ZM554.0,127.1L564.6,128.7L566.5,123.0L555.7,121.3ZM565.0,127.7L575.5,130.1L577.6,124.4L566.8,121.9ZM626.5,206.5L630.4,211.0L637.1,202.3L633.0,197.7ZM633.0,197.7L637.1,202.3L643.0,194.6L638.7,189.9ZM643.0,194.6L647.0,199.5L648.2,197.9L644.1,193.1ZM655.8,208.2L659.3,213.5L660.6,212.0L657.1,206.7ZM652.9,259.6L654.7,265.0L656.5,263.5L654.6,258.1ZM675.0,240.2L677.3,246.1L678.8,244.8L676.5,238.9ZM678.8,244.8L680.9,250.7L684.5,247.8L682.3,241.8ZM680.9,250.7L682.8,256.7L686.5,253.9L684.5,247.8ZM684.5,247.8L686.5,253.9L688.1,252.7L686.1,246.6ZM686.5,253.9L688.3,260.0L689.8,258.8L688.1,252.7ZM698.5,325.4L698.4,331.2L700.2,330.5L700.2,324.6ZM698.4,331.2L698.3,336.9L700.1,336.3L700.2,330.5ZM652.5,527.5L648.7,536.1L650.1,537.0L653.9,528.3ZM648.7,536.1L644.9,544.7L646.2,545.7L650.1,537.0ZM644.9,544.7L640.9,553.5L642.2,554.5L646.2,545.7ZM640.9,553.5L636.7,562.4L638.0,563.5L642.2,554.5ZM636.7,562.4L632.4,571.4L633.7,572.6L638.0,563.5ZM632.4,571.4L627.9,580.6L629.1,581.9L633.7,572.6ZM627.9,580.6L623.1,590.1L624.3,591.4L629.1,581.9ZM623.1,590.1L618.1,599.7L619.3,601.1L624.3,591.4ZM618.1,599.7L612.8,609.5L613.9,611.0L619.3,601.1ZM612.8,609.5L607.2,619.6L608.2,621.1L613.9,611.0ZM607.2,619.6L601.2,630.0L602.2,631.5L608.2,621.1Z" fill="#767676" stroke="#767676" stroke-width="0.7"/>
<path d="M356.0,186.4L363.4,180.5L363.0,179.7L355.7,185.6ZM403.5,153.4L412.2,148.3L412.1,147.5L403.3,152.6ZM470.0,131.1L480.2,128.1L480.3,124.5L470.0,127.5ZM470.0,127.5L480.3,124.5L480.5,120.1L470.0,123.2ZM479.6,143.9L489.5,141.3L489.8,136.9L479.8,139.4ZM630.4,211.0L634.0,215.6L640.9,207.0L637.1,202.3ZM637.1,202.3L640.9,207.0L647.0,199.5L643.0,194.6ZM636.2,221.9L639.4,226.8L640.7,225.3L637.5,220.4ZM659.3,213.5L662.5,218.9L663.9,217.5L660.6,212.0ZM677.3,246.1L679.4,252.0L680.9,250.7L678.8,244.8ZM682.8,256.7L684.5,262.7L688.3,260.0L686.5,253.9ZM688.3,260.0L689.8,266.1L691.5,264.9L689.8,258.8ZM661.6,309.4L662.1,314.6L664.1,313.5L663.6,308.2ZM698.3,336.9L698.1,342.6L699.9,342.0L700.1,336.3ZM698.1,342.6L697.8,348.2L699.6,347.6L699.9,342.0ZM697.8,348.2L697.4,353.7L699.2,353.2L699.6,347.6Z" fill="#777777" stroke="#777777" stroke-width="0.7"/>
<path d="M363.1,200.8L370.0,195.3L369.5,194.2L362.6,199.7ZM406.8,166.7L415.1,161.8L414.9,160.6L406.6,165.6ZM470.0,147.5L479.6,144.6L479.8,140.1L470.0,143.1ZM532.1,127.8L542.8,128.0L544.3,122.1L533.4,121.9ZM543.0,127.1L553.7,128.1L555.4,122.2L544.5,121.2ZM647.0,199.5L650.9,204.5L652.1,203.0L648.2,197.9ZM662.5,218.9L665.6,224.4L667.0,223.0L663.9,217.5ZM654.7,265.0L656.4,270.4L658.2,269.0L656.5,263.5ZM679.4,252.0L681.2,257.9L682.8,256.7L680.9,250.7ZM681.2,257.9L682.9,263.9L684.5,262.7L682.8,256.7ZM684.5,262.7L686.1,268.7L689.8,266.1L688.3,260.0ZM689.8,266.1L691.2,272.2L692.9,271.1L691.5,264.9ZM691.2,272.2L692.5,278.3L694.1,277.2L692.9,271.1ZM662.1,314.6L662.4,319.8L664.4,318.8L664.1,313.5ZM697.4,353.7L697.0,359.2L698.8,358.7L699.2,353.2ZM697.0,359.2L696.5,364.6L698.2,364.1L698.8,358.7Z" fill="#787878" stroke="#787878" stroke-width="0.7"/>
<path d="M460.1,136.2L470.0,132.7L470.0,131.7L460.1,135.1ZM634.0,215.6L637.5,220.4L644.6,211.9L640.9,207.0ZM640.9,207.0L644.6,211.9L650.9,204.5L647.0,199.5ZM650.9,204.5L654.5,209.6L655.8,208.2L652.1,203.0ZM639.4,226.8L642.4,231.8L643.8,230.4L640.7,225.3ZM665.6,224.4L668.4,230.1L669.9,228.7L667.0,223.0ZM656.4,270.4L657.9,275.8L659.7,274.4L658.2,269.0ZM682.9,263.9L684.4,269.9L686.1,268.7L684.5,262.7ZM686.1,268.7L687.4,274.7L691.2,272.2L689.8,266.1ZM687.4,274.7L688.6,280.7L692.5,278.3L691.2,272.2ZM692.5,278.3L693.5,284.4L695.2,283.4L694.1,277.2ZM696.5,364.6L695.9,369.9L697.7,369.5L698.2,364.1ZM695.9,369.9L695.3,375.2L697.0,374.8L697.7,369.5ZM695.3,375.2L694.6,380.4L696.4,380.1L697.0,374.8ZM694.6,380.4L693.9,385.5L695.6,385.3L696.4,380.1Z" fill="#797979" stroke="#797979" stroke-width="0.7"/>
<path d="M348.9,192.2L356.0,186.4L355.7,185.6L348.5,191.5ZM460.6,151.5L470.0,148.2L470.0,143.8L460.5,147.1ZM459.8,126.7L470.0,123.3L470.0,122.5L459.7,125.9ZM521.3,129.1L531.9,128.7L533.2,122.7L522.4,123.1ZM637.5,220.4L640.7,225.3L648.0,217.0L644.6,211.9ZM644.6,211.9L648.0,217.0L654.5,209.6L650.9,204.5ZM668.4,230.1L671.1,235.8L672.5,234.4L669.9,228.7ZM657.9,275.8L659.2,281.2L661.1,279.9L659.7,274.4ZM684.4,269.9L685.8,275.8L687.4,274.7L686.1,268.7ZM688.6,280.7L689.6,286.7L693.5,284.4L692.5,278.3ZM693.5,284.4L694.4,290.4L696.1,289.5L695.2,283.4ZM662.4,319.8L662.6,325.0L664.6,324.0L664.4,318.8ZM693.9,385.5L693.1,390.6L694.8,390.4L695.6,385.3ZM693.1,390.6L692.2,395.7L694.0,395.5L694.8,390.4ZM692.2,395.7L691.3,400.6L693.1,400.5L694.0,395.5ZM691.3,400.6L690.4,405.6L692.1,405.4L693.1,400.5ZM690.4,405.6L689.4,410.4L691.1,410.3L692.1,405.4Z" fill="#7a7a7a" stroke="#7a7a7a" stroke-width="0.7"/>
<path d="M356.4,206.4L363.1,200.8L362.6,199.8L355.9,205.3ZM395.1,158.8L403.5,153.5L403.3,152.6L394.9,157.9ZM451.5,155.8L460.6,152.2L460.5,147.8L451.2,151.5ZM460.1,135.1L470.0,131.7L470.0,127.9L459.9,131.3ZM459.9,131.3L470.0,127.9L470.0,123.3L459.8,126.7ZM510.6,130.9L521.2,129.9L522.2,123.9L511.5,124.9ZM654.5,209.6L657.9,214.9L659.3,213.5L655.8,208.2ZM642.4,231.8L645.2,236.9L646.6,235.5L643.8,230.4ZM671.1,235.8L673.5,241.5L675.0,240.2L672.5,234.4ZM685.8,275.8L686.9,281.8L688.6,280.7L687.4,274.7ZM689.6,286.7L690.4,292.7L694.4,290.4L693.5,284.4ZM694.4,290.4L695.1,296.5L696.8,295.6L696.1,289.5ZM695.1,296.5L695.7,302.5L697.4,301.6L696.8,295.6ZM662.6,325.0L662.7,330.1L664.8,329.2L664.6,324.0ZM689.4,410.4L689.0,412.4L690.7,412.3L691.1,410.3ZM689.0,412.4L686.9,421.9L688.6,421.9L690.7,412.3ZM686.9,421.9L684.6,431.2L686.3,431.3L688.6,421.9Z" fill="#7b7b7b" stroke="#7b7b7b" stroke-width="0.7"/>
<path d="M398.9,172.1L406.9,167.1L406.6,165.9L398.6,171.0ZM442.7,160.4L451.6,156.5L451.3,152.2L442.3,156.1ZM640.7,225.3L643.8,230.4L651.3,222.2L648.0,217.0ZM648.0,217.0L651.3,222.2L657.9,214.9L654.5,209.6ZM657.9,214.9L661.2,220.3L662.5,218.9L659.3,213.5ZM645.2,236.9L647.9,242.1L649.3,240.7L646.6,235.5ZM673.5,241.5L675.8,247.4L677.3,246.1L675.0,240.2ZM659.2,281.2L660.4,286.7L662.3,285.3L661.1,279.9ZM686.9,281.8L687.9,287.8L689.6,286.7L688.6,280.7ZM690.4,292.7L691.1,298.7L695.1,296.5L694.4,290.4ZM695.7,302.5L696.1,308.5L697.9,307.6L697.4,301.6ZM684.6,431.2L682.2,440.4L683.8,440.6L686.3,431.3ZM682.2,440.4L679.6,449.5L681.2,449.7L683.8,440.6Z" fill="#7c7c7c" stroke="#7c7c7c" stroke-width="0.7"/>
<path d="M434.2,165.2L442.8,161.1L442.3,156.7L433.6,160.9ZM450.5,140.5L460.1,136.7L460.1,135.6L450.4,139.4ZM500.1,133.3L510.5,131.7L511.4,125.7L500.8,127.3ZM643.8,230.4L646.6,235.5L654.3,227.4L651.3,222.2ZM651.3,222.2L654.3,227.4L661.2,220.3L657.9,214.9ZM661.2,220.3L664.2,225.8L665.6,224.4L662.5,218.9ZM675.8,247.4L677.8,253.2L679.4,252.0L677.3,246.1ZM660.4,286.7L661.4,292.1L663.3,290.8L662.3,285.3ZM687.9,287.8L688.7,293.7L690.4,292.7L689.6,286.7ZM688.7,293.7L689.4,299.6L691.1,298.7L690.4,292.7ZM691.1,298.7L691.7,304.6L695.7,302.5L695.1,296.5ZM691.7,304.6L692.1,310.5L696.1,308.5L695.7,302.5ZM696.1,308.5L696.4,314.4L698.2,313.6L697.9,307.6ZM662.7,330.1L662.7,335.2L664.8,334.3L664.8,329.2ZM696.4,314.4L696.6,320.3L698.4,319.5L698.2,313.6ZM679.6,449.5L676.9,458.4L678.5,458.6L681.2,449.7ZM676.9,458.4L674.1,467.1L675.6,467.5L678.5,458.6Z" fill="#7d7d7d" stroke="#7d7d7d" stroke-width="0.7"/>
<path d="M349.9,212.0L356.4,206.4L355.9,205.4L349.3,211.0ZM341.9,198.2L348.9,192.2L348.5,191.5L341.5,197.4ZM386.9,164.2L395.1,158.8L394.9,158.0L386.6,163.4ZM425.9,170.1L434.3,165.8L433.7,161.5L425.2,165.9ZM449.8,130.6L459.8,126.8L459.7,126.0L449.7,129.8ZM646.6,235.5L649.3,240.7L657.2,232.8L654.3,227.4ZM654.3,227.4L657.2,232.8L664.2,225.8L661.2,220.3ZM647.9,242.1L650.3,247.4L651.7,246.0L649.3,240.7ZM664.2,225.8L667.0,231.4L668.4,230.1L665.6,224.4ZM677.8,253.2L679.7,259.1L681.2,257.9L679.4,252.0ZM689.4,299.6L690.0,305.5L691.7,304.6L691.1,298.7ZM692.1,310.5L692.4,316.3L696.4,314.4L696.1,308.5ZM662.7,335.2L662.7,340.2L664.7,339.3L664.8,334.3ZM696.6,320.3L696.7,326.1L698.5,325.4L698.4,319.5ZM674.1,467.1L671.1,475.8L672.7,476.2L675.6,467.5ZM671.1,475.8L668.1,484.4L669.6,484.8L672.7,476.2Z" fill="#7e7e7e" stroke="#7e7e7e" stroke-width="0.7"/>
<path d="M335.1,204.1L341.9,198.2L341.5,197.4L334.7,203.4ZM391.2,177.6L399.0,172.4L398.7,171.2L390.9,176.4ZM450.4,139.4L460.1,135.6L459.9,131.6L450.1,135.4ZM450.1,135.4L459.9,131.6L459.8,126.8L449.8,130.6ZM489.9,136.1L500.1,134.0L500.7,128.0L490.3,130.1ZM649.3,240.7L651.7,246.0L659.8,238.3L657.2,232.8ZM657.2,232.8L659.8,238.3L667.0,231.4L664.2,225.8ZM650.3,247.4L652.5,252.7L654.0,251.4L651.7,246.0ZM679.7,259.1L681.3,265.0L682.9,263.9L681.2,257.9ZM661.4,292.1L662.3,297.5L664.2,296.3L663.3,290.8ZM690.0,305.5L690.4,311.3L692.1,310.5L691.7,304.6ZM692.4,316.3L692.5,322.1L696.6,320.3L696.4,314.4ZM696.7,326.1L696.7,331.9L698.4,331.2L698.5,325.4ZM668.1,484.4L664.9,492.9L666.4,493.4L669.6,484.8Z" fill="#7f7f7f" stroke="#7f7f7f" stroke-width="0.7"/>
<path d="M321.9,216.2L328.4,210.1L328.0,209.4L321.4,215.5ZM337.4,223.4L343.6,217.7L343.0,216.7L336.7,222.4ZM328.4,210.1L335.1,204.1L334.7,203.4L328.0,209.4ZM343.6,217.7L349.9,212.1L349.4,211.0L342.9,216.7ZM418.0,175.2L426.0,170.7L425.3,166.5L417.1,171.0ZM651.7,246.0L654.0,251.4L662.3,243.8L659.8,238.3ZM659.8,238.3L662.3,243.8L669.6,237.1L667.0,231.4ZM667.0,231.4L669.6,237.1L671.1,235.8L668.4,230.1ZM652.5,252.7L654.6,258.1L656.1,256.8L654.0,251.4ZM681.3,265.0L682.8,271.0L684.4,269.9L682.9,263.9ZM690.4,311.3L690.6,317.1L692.4,316.3L692.1,310.5ZM692.5,322.1L692.6,327.8L696.7,326.1L696.6,320.3ZM662.7,340.2L662.5,345.1L664.6,344.3L664.7,339.3ZM692.6,327.8L692.5,333.5L696.7,331.9L696.7,326.1ZM696.7,331.9L696.5,337.6L698.3,336.9L698.4,331.2ZM696.5,337.6L696.3,343.2L698.1,342.6L698.3,336.9ZM664.9,492.9L661.6,501.3L663.0,501.9L666.4,493.4ZM661.6,501.3L658.2,509.8L659.6,510.4L663.0,501.9Z" fill="#808080" stroke="#808080" stroke-width="0.7"/>
<path d="M303.0,234.6L315.5,222.3L315.0,221.6L302.5,233.9ZM325.4,234.9L331.4,229.2L330.7,228.2L324.6,234.0ZM315.5,222.3L321.9,216.2L321.4,215.5L315.0,221.6ZM331.3,229.1L337.4,223.4L336.7,222.4L330.6,228.1ZM378.9,169.8L386.9,164.3L386.6,163.4L378.7,169.0ZM441.1,145.1L450.5,141.1L450.4,139.9L441.0,143.9ZM479.8,139.4L489.8,136.9L490.2,130.8L480.0,133.4ZM669.6,237.1L672.0,242.8L673.5,241.5L671.1,235.8ZM654.6,258.1L656.5,263.5L658.0,262.2L656.1,256.8ZM662.3,297.5L663.0,302.9L665.0,301.7L664.2,296.3ZM690.6,317.1L690.8,322.9L692.5,322.1L692.4,316.3ZM690.8,322.9L690.8,328.5L692.6,327.8L692.5,322.1ZM662.5,345.1L662.3,350.0L664.4,349.3L664.6,344.3ZM692.5,333.5L692.4,339.1L696.5,337.6L696.7,331.9ZM696.3,343.2L696.0,348.7L697.8,348.2L698.1,342.6ZM696.0,348.7L695.6,354.2L697.4,353.7L697.8,348.2ZM658.2,509.8L654.7,518.2L656.1,519.0L659.6,510.4ZM654.7,518.2L651.1,526.6L652.5,527.5L656.1,519.0Z" fill="#818181" stroke="#818181" stroke-width="0.7"/>
<path d="M291.0,247.2L303.1,234.6L302.5,233.9L290.4,246.6ZM313.9,246.6L325.5,235.0L324.7,234.1L313.1,245.7ZM383.8,183.1L391.3,177.8L390.9,176.6L383.4,182.0ZM410.2,180.4L418.1,175.7L417.2,171.5L409.2,176.3ZM441.0,143.9L450.4,139.9L450.1,135.8L440.6,139.8ZM440.6,139.8L450.1,135.8L449.8,130.8L440.0,134.9ZM440.0,134.9L449.8,130.8L449.7,129.9L439.9,134.0ZM654.0,251.4L656.1,256.8L664.6,249.4L662.3,243.8ZM662.3,243.8L664.6,249.4L672.0,242.8L669.6,237.1ZM672.0,242.8L674.2,248.6L675.8,247.4L673.5,241.5ZM682.8,271.0L684.1,276.9L685.8,275.8L684.4,269.9ZM663.0,302.9L663.6,308.2L665.6,307.1L665.0,301.7ZM690.8,328.5L690.8,334.1L692.5,333.5L692.6,327.8ZM662.3,350.0L662.0,354.8L664.1,354.1L664.4,349.3ZM692.4,339.1L692.2,344.6L696.3,343.2L696.5,337.6ZM692.2,344.6L691.9,350.0L696.0,348.7L696.3,343.2ZM695.6,354.2L695.2,359.7L697.0,359.2L697.4,353.7ZM695.2,359.7L694.7,365.0L696.5,364.6L697.0,359.2ZM651.1,526.6L647.3,535.2L648.7,536.1L652.5,527.5ZM647.3,535.2L643.5,543.7L644.9,544.7L648.7,536.1ZM643.5,543.7L639.5,552.4L640.9,553.5L644.9,544.7ZM639.5,552.4L635.4,561.3L636.7,562.4L640.9,553.5ZM635.4,561.3L631.1,570.2L632.4,571.4L636.7,562.4ZM631.1,570.2L626.6,579.4L627.9,580.6L632.4,571.4ZM626.6,579.4L621.9,588.7L623.1,590.1L627.9,580.6ZM621.9,588.7L617.0,598.3L618.1,599.7L623.1,590.1ZM617.0,598.3L611.7,608.1L612.8,609.5L618.1,599.7ZM611.7,608.1L606.2,618.1L607.2,619.6L612.8,609.5ZM606.2,618.1L600.2,628.4L601.2,630.0L607.2,619.6Z" fill="#828282" stroke="#828282" stroke-width="0.7"/>
<path d="M292.3,270.9L303.1,258.9L302.2,258.0L291.3,270.1ZM279.3,260.0L291.0,247.2L290.4,246.6L278.7,259.4ZM302.8,258.6L314.1,246.8L313.2,245.9L302.0,257.7ZM470.0,143.1L479.8,140.1L480.0,134.1L470.0,137.1ZM656.1,256.8L658.0,262.2L666.6,255.0L664.6,249.4ZM664.6,249.4L666.6,255.0L674.2,248.6L672.0,242.8ZM656.5,263.5L658.2,269.0L659.8,267.7L658.0,262.2ZM674.2,248.6L676.3,254.5L677.8,253.2L675.8,247.4ZM684.1,276.9L685.3,282.9L686.9,281.8L685.8,275.8ZM690.8,334.1L690.6,339.7L692.4,339.1L692.5,333.5ZM691.9,350.0L691.5,355.4L695.6,354.2L696.0,348.7ZM694.7,365.0L694.1,370.3L695.9,369.9L696.5,364.6ZM694.1,370.3L693.5,375.5L695.3,375.2L695.9,369.9Z" fill="#838383" stroke="#838383" stroke-width="0.7"/>
<path d="M257.0,286.9L268.0,273.3L267.3,272.7L256.2,286.4ZM282.1,283.5L292.7,271.2L291.7,270.4L281.1,282.7ZM268.0,273.2L279.4,260.0L278.7,259.4L267.3,272.7ZM371.2,175.5L379.0,169.8L378.7,169.0L370.9,174.7ZM402.8,185.6L410.3,180.7L409.3,176.7L401.6,181.5ZM658.0,262.2L659.8,267.7L668.5,260.7L666.6,255.0ZM666.6,255.0L668.5,260.7L676.3,254.5L674.2,248.6ZM658.2,269.0L659.7,274.4L661.3,273.2L659.8,267.7ZM685.3,282.9L686.2,288.8L687.9,287.8L686.9,281.8ZM663.6,308.2L664.1,313.5L666.1,312.4L665.6,307.1ZM690.6,339.7L690.4,345.2L692.2,344.6L692.4,339.1ZM662.0,354.8L661.7,359.6L663.8,358.9L664.1,354.1ZM690.4,345.2L690.1,350.6L691.9,350.0L692.2,344.6ZM691.5,355.4L691.1,360.8L695.2,359.7L695.6,354.2ZM691.1,360.8L690.6,366.0L694.7,365.0L695.2,359.7ZM693.5,375.5L692.8,380.7L694.6,380.4L695.3,375.2ZM692.8,380.7L692.1,385.8L693.9,385.5L694.6,380.4ZM692.1,385.8L691.3,390.9L693.1,390.6L693.9,385.5Z" fill="#848484" stroke="#848484" stroke-width="0.7"/>
<path d="M246.2,301.0L257.0,286.9L256.2,286.4L245.3,300.5ZM272.3,296.4L282.6,283.8L281.5,283.0L271.1,295.7ZM376.5,188.6L383.8,183.2L383.4,182.1L376.1,187.5ZM432.0,149.9L441.2,145.7L441.0,144.4L431.9,148.7ZM430.6,139.4L440.0,135.0L439.9,134.1L430.4,138.5ZM460.5,147.1L470.0,143.8L470.0,137.8L460.3,141.2ZM676.3,254.5L678.1,260.3L679.7,259.1L677.8,253.2ZM686.2,288.8L687.0,294.7L688.7,293.7L687.9,287.8ZM664.1,313.5L664.4,318.8L666.4,317.7L666.1,312.4ZM661.7,359.6L661.3,364.2L663.4,363.6L663.8,358.9ZM690.1,350.6L689.7,356.0L691.5,355.4L691.9,350.0ZM690.6,366.0L690.0,371.2L694.1,370.3L694.7,365.0ZM690.0,371.2L689.4,376.4L693.5,375.5L694.1,370.3ZM691.3,390.9L690.5,395.9L692.2,395.7L693.1,390.6ZM690.5,395.9L689.6,400.8L691.3,400.6L692.2,395.7ZM689.6,400.8L688.7,405.7L690.4,405.6L691.3,400.6ZM688.7,405.7L687.7,410.5L689.4,410.4L690.4,405.6ZM687.7,410.5L687.3,412.4L689.0,412.4L689.4,410.4ZM687.3,412.4L685.2,421.9L686.9,421.9L689.0,412.4Z" fill="#858585" stroke="#858585" stroke-width="0.7"/>
<path d="M235.6,315.6L246.2,301.0L245.3,300.5L234.7,315.2ZM262.6,309.7L272.7,296.7L271.6,296.0L261.4,309.1ZM395.5,190.8L402.9,185.9L401.7,181.8L394.2,186.9ZM431.9,148.7L441.0,144.4L440.6,140.2L431.3,144.5ZM431.3,144.5L440.6,140.2L440.0,135.0L430.6,139.4ZM659.8,267.7L661.3,273.2L670.2,266.4L668.5,260.7ZM668.5,260.7L670.2,266.4L678.1,260.3L676.3,254.5ZM659.7,274.4L661.1,279.9L662.7,278.7L661.3,273.2ZM678.1,260.3L679.7,266.2L681.3,265.0L679.7,259.1ZM687.0,294.7L687.7,300.6L689.4,299.6L688.7,293.7ZM661.3,364.2L660.9,368.8L663.0,368.3L663.4,363.6ZM689.7,356.0L689.3,361.2L691.1,360.8L691.5,355.4ZM689.3,361.2L688.8,366.5L690.6,366.0L691.1,360.8ZM689.4,376.4L688.7,381.4L692.8,380.7L693.5,375.5ZM688.7,381.4L688.0,386.4L692.1,385.8L692.8,380.7ZM688.0,386.4L687.3,391.4L691.3,390.9L692.1,385.8ZM685.2,421.9L683.0,431.2L684.6,431.2L686.9,421.9ZM683.0,431.2L680.6,440.3L682.2,440.4L684.6,431.2Z" fill="#868686" stroke="#868686" stroke-width="0.7"/>
<path d="M243.6,337.6L253.5,323.6L252.2,323.0L242.2,337.1ZM225.2,330.9L235.6,315.7L234.7,315.2L224.2,330.5ZM253.1,323.4L263.0,310.0L261.8,309.3L251.8,322.8ZM363.7,181.3L371.2,175.5L370.9,174.7L363.4,180.5ZM451.2,151.5L460.5,147.8L460.3,141.9L450.8,145.6ZM661.3,273.2L662.7,278.7L671.7,272.1L670.2,266.4ZM670.2,266.4L671.7,272.1L679.7,266.2L678.1,260.3ZM661.1,279.9L662.3,285.3L663.9,284.2L662.7,278.7ZM687.7,300.6L688.2,306.4L690.0,305.5L689.4,299.6ZM664.4,318.8L664.6,324.0L666.7,323.0L666.4,317.7ZM660.9,368.8L660.4,373.4L662.5,372.9L663.0,368.3ZM660.4,373.4L660.0,377.9L662.0,377.4L662.5,372.9ZM688.8,366.5L688.2,371.6L690.0,371.2L690.6,366.0ZM688.2,371.6L687.6,376.7L689.4,376.4L690.0,371.2ZM687.3,391.4L686.4,396.3L690.5,395.9L691.3,390.9ZM686.4,396.3L685.6,401.1L689.6,400.8L690.5,395.9ZM685.6,401.1L684.7,405.9L688.7,405.7L689.6,400.8ZM684.7,405.9L683.7,410.7L687.7,410.5L688.7,405.7ZM683.7,410.7L683.4,412.5L687.3,412.4L687.7,410.5ZM683.4,412.5L681.3,421.8L685.2,421.9L687.3,412.4ZM681.3,421.8L679.1,431.0L683.0,431.2L685.2,421.9ZM680.6,440.3L678.0,449.2L679.6,449.5L682.2,440.4ZM678.0,449.2L675.3,458.1L676.9,458.4L679.6,449.5Z" fill="#878787" stroke="#878787" stroke-width="0.7"/>
<path d="M204.6,363.6L214.9,346.8L213.8,346.5L203.6,363.4ZM234.0,352.3L243.9,337.7L242.6,337.2L232.6,351.9ZM214.8,346.8L225.2,330.9L224.2,330.5L213.8,346.5ZM369.4,194.2L376.5,188.7L376.1,187.6L369.0,193.1ZM388.5,196.0L395.6,191.0L394.3,187.1L387.1,192.2ZM679.7,266.2L681.2,272.1L682.8,271.0L681.3,265.0ZM664.6,324.0L664.8,329.2L666.8,328.2L666.7,323.0ZM660.0,377.9L659.4,382.3L661.5,381.9L662.0,377.4ZM687.6,376.7L687.0,381.7L688.7,381.4L689.4,376.4ZM687.0,381.7L686.3,386.7L688.0,386.4L688.7,381.4ZM686.3,386.7L685.5,391.6L687.3,391.4L688.0,386.4ZM679.1,431.0L676.8,439.9L680.6,440.3L683.0,431.2ZM676.8,439.9L674.3,448.7L678.0,449.2L680.6,440.3ZM675.3,458.1L672.5,466.8L674.1,467.1L676.9,458.4ZM672.5,466.8L669.6,475.4L671.1,475.8L674.1,467.1Z" fill="#888888" stroke="#888888" stroke-width="0.7"/>
<path d="M184.3,400.0L194.4,381.3L193.4,381.1L183.3,400.0ZM194.4,381.3L204.6,363.6L203.6,363.4L193.4,381.1ZM224.4,367.8L234.4,352.4L232.9,352.0L222.9,367.5ZM423.3,155.0L432.1,150.5L431.9,149.2L423.1,153.8ZM421.4,144.2L430.6,139.5L430.4,138.6L421.2,143.3ZM442.3,156.1L451.3,152.2L450.9,146.2L441.6,150.2ZM662.7,278.7L663.9,284.2L673.1,277.8L671.7,272.1ZM671.7,272.1L673.1,277.8L681.2,272.1L679.7,266.2ZM662.3,285.3L663.3,290.8L665.0,289.7L663.9,284.2ZM681.2,272.1L682.5,278.0L684.1,276.9L682.8,271.0ZM688.2,306.4L688.6,312.2L690.4,311.3L690.0,305.5ZM659.4,382.3L658.9,386.7L660.9,386.3L661.5,381.9ZM658.9,386.7L658.3,391.0L660.3,390.7L660.9,386.3ZM685.5,391.6L684.7,396.5L686.4,396.3L687.3,391.4ZM684.7,396.5L683.9,401.3L685.6,401.1L686.4,396.3ZM683.9,401.3L683.0,406.0L684.7,405.9L685.6,401.1ZM683.0,406.0L682.0,410.7L683.7,410.7L684.7,405.9ZM682.0,410.7L681.7,412.6L683.4,412.5L683.7,410.7ZM681.7,412.6L679.6,421.8L681.3,421.8L683.4,412.5ZM674.3,448.7L671.7,457.4L675.3,458.1L678.0,449.2ZM669.6,475.4L666.6,483.9L668.1,484.4L671.1,475.8Z" fill="#898989" stroke="#898989" stroke-width="0.7"/>
<path d="M204.6,401.4L214.9,384.2L213.4,383.9L203.1,401.3ZM214.6,384.1L224.7,367.9L223.3,367.6L213.1,383.9ZM381.6,201.3L388.5,196.2L387.1,192.3L380.1,197.5ZM423.1,153.8L431.9,149.2L431.3,144.8L422.3,149.4ZM422.3,149.4L431.3,144.8L430.6,139.5L421.4,144.2ZM663.9,284.2L665.0,289.7L674.3,283.5L673.1,277.8ZM673.1,277.8L674.3,283.5L682.5,278.0L681.2,272.1ZM663.3,290.8L664.2,296.3L665.9,295.2L665.0,289.7ZM688.6,312.2L688.9,317.9L690.6,317.1L690.4,311.3ZM664.8,329.2L664.8,334.3L666.8,333.4L666.8,328.2ZM658.3,391.0L657.7,395.3L659.7,395.0L660.3,390.7ZM657.7,395.3L657.0,399.5L659.0,399.3L659.7,395.0ZM657.0,399.5L656.3,403.7L658.3,403.5L659.0,399.3ZM656.3,403.7L655.6,407.8L657.6,407.7L658.3,403.5ZM655.6,407.8L654.8,411.9L656.8,411.8L657.6,407.7ZM654.8,411.9L654.5,413.6L656.5,413.5L656.8,411.8ZM654.5,413.6L652.9,421.6L654.8,421.6L656.5,413.5ZM652.9,421.6L651.1,429.5L653.0,429.6L654.8,421.6ZM679.6,421.8L677.5,430.9L679.1,431.0L681.3,421.8ZM677.5,430.9L675.1,439.8L676.8,439.9L679.1,431.0ZM675.1,439.8L672.7,448.5L674.3,448.7L676.8,439.9ZM671.7,457.4L668.9,465.9L672.5,466.8L675.3,458.1ZM668.9,465.9L666.1,474.4L669.6,475.4L672.5,466.8ZM666.6,483.9L663.4,492.3L664.9,492.9L668.1,484.4Z" fill="#8a8a8a" stroke="#8a8a8a" stroke-width="0.7"/>
<path d="M356.4,187.1L363.7,181.3L363.4,180.5L356.0,186.4ZM433.6,160.9L442.3,156.7L441.7,150.9L432.8,155.1ZM682.5,278.0L683.6,283.9L685.3,282.9L684.1,276.9ZM688.9,317.9L689.0,323.6L690.8,322.9L690.6,317.1ZM664.8,334.3L664.7,339.3L666.8,338.5L666.8,333.4ZM651.1,429.5L649.2,437.3L651.1,437.4L653.0,429.6ZM649.2,437.3L647.1,444.9L649.0,445.2L651.1,437.4ZM672.7,448.5L670.1,457.1L671.7,457.4L674.3,448.7ZM666.1,474.4L663.0,482.7L666.6,483.9L669.6,475.4ZM663.4,492.3L660.1,500.7L661.6,501.3L664.9,492.9ZM660.1,500.7L656.7,509.1L658.2,509.8L661.6,501.3Z" fill="#8b8b8b" stroke="#8b8b8b" stroke-width="0.7"/>
<path d="M362.6,199.7L369.5,194.2L369.0,193.1L362.1,198.7ZM375.0,206.6L381.7,201.4L380.1,197.6L373.3,202.9ZM414.8,160.2L423.4,155.5L423.1,154.2L414.5,159.0ZM665.0,289.7L665.9,295.2L675.3,289.2L674.3,283.5ZM674.3,283.5L675.3,289.2L683.6,283.9L682.5,278.0ZM664.2,296.3L665.0,301.7L666.7,300.7L665.9,295.2ZM683.6,283.9L684.6,289.8L686.2,288.8L685.3,282.9ZM689.0,323.6L689.1,329.3L690.8,328.5L690.8,322.9ZM647.1,444.9L644.9,452.4L646.8,452.8L649.0,445.2ZM670.1,457.1L667.4,465.6L668.9,465.9L671.7,457.4ZM667.4,465.6L664.5,473.9L666.1,474.4L668.9,465.9ZM663.0,482.7L659.9,491.0L663.4,492.3L666.6,483.9ZM656.7,509.1L653.2,517.4L654.7,518.2L658.2,509.8Z" fill="#8c8c8c" stroke="#8c8c8c" stroke-width="0.7"/>
<path d="M412.4,149.2L421.4,144.3L421.2,143.3L412.2,148.2ZM425.2,165.9L433.7,161.5L432.9,155.7L424.2,160.2ZM665.0,301.7L665.6,307.1L667.3,306.1L666.7,300.7ZM664.7,339.3L664.6,344.3L666.6,343.5L666.8,338.5ZM689.1,329.3L689.0,334.8L690.8,334.1L690.8,328.5ZM644.9,452.4L642.6,459.8L644.4,460.3L646.8,452.8ZM664.5,473.9L661.5,482.2L663.0,482.7L666.1,474.4ZM659.9,491.0L656.7,499.2L660.1,500.7L663.4,492.3ZM656.7,499.2L653.3,507.4L656.7,509.1L660.1,500.7ZM653.2,517.4L649.6,525.8L651.1,526.6L654.7,518.2ZM649.6,525.8L645.9,534.3L647.3,535.2L651.1,526.6Z" fill="#8d8d8d" stroke="#8d8d8d" stroke-width="0.7"/>
<path d="M349.3,193.0L356.4,187.1L356.0,186.4L348.9,192.2ZM368.5,211.9L375.0,206.6L373.4,202.9L366.7,208.3ZM414.5,159.0L423.1,154.2L422.3,149.7L413.6,154.5ZM413.6,154.5L422.3,149.7L421.4,144.3L412.4,149.2ZM665.9,295.2L666.7,300.7L676.2,294.9L675.3,289.2ZM675.3,289.2L676.2,294.9L684.6,289.8L683.6,283.9ZM684.6,289.8L685.4,295.7L687.0,294.7L686.2,288.8ZM664.6,344.3L664.4,349.3L666.4,348.5L666.6,343.5ZM689.0,334.8L688.9,340.3L690.6,339.7L690.8,334.1ZM642.6,459.8L640.1,467.2L641.9,467.7L644.4,460.3ZM661.5,482.2L658.4,490.4L659.9,491.0L663.0,482.7ZM653.3,507.4L649.9,515.6L653.2,517.4L656.7,509.1ZM645.9,534.3L642.1,542.8L643.5,543.7L647.3,535.2ZM642.1,542.8L638.2,551.4L639.5,552.4L643.5,543.7Z" fill="#8e8e8e" stroke="#8e8e8e" stroke-width="0.7"/>
<path d="M355.9,205.3L362.6,199.8L362.1,198.7L355.3,204.3ZM406.6,165.6L414.9,160.6L414.6,159.3L406.2,164.3ZM666.7,300.7L667.3,306.1L676.9,300.6L676.2,294.9ZM676.2,294.9L676.9,300.6L685.4,295.7L684.6,289.8ZM665.6,307.1L666.1,312.4L667.8,311.5L667.3,306.1ZM685.4,295.7L686.0,301.5L687.7,300.6L687.0,294.7ZM664.4,349.3L664.1,354.1L666.2,353.4L666.4,348.5ZM688.9,340.3L688.6,345.8L690.4,345.2L690.6,339.7ZM640.1,467.2L637.4,474.4L639.2,475.0L641.9,467.7ZM658.4,490.4L655.2,498.6L656.7,499.2L659.9,491.0ZM649.9,515.6L646.3,523.9L649.6,525.8L653.2,517.4ZM646.3,523.9L642.7,532.1L645.9,534.3L649.6,525.8ZM638.2,551.4L634.1,560.1L635.4,561.3L639.5,552.4ZM634.1,560.1L629.8,569.0L631.1,570.2L635.4,561.3ZM629.8,569.0L625.4,578.1L626.6,579.4L631.1,570.2ZM625.4,578.1L620.7,587.4L621.9,588.7L626.6,579.4ZM620.7,587.4L615.8,596.9L617.0,598.3L621.9,588.7ZM615.8,596.9L610.6,606.6L611.7,608.1L617.0,598.3ZM610.6,606.6L605.1,616.6L606.2,618.1L611.7,608.1ZM605.1,616.6L599.3,626.9L600.2,628.4L606.2,618.1Z" fill="#8f8f8f" stroke="#8f8f8f" stroke-width="0.7"/>
<path d="M362.2,217.2L368.5,211.9L366.8,208.3L360.3,213.7ZM403.8,154.4L412.5,149.3L412.2,148.3L403.5,153.4ZM417.1,171.0L425.3,166.5L424.3,160.7L415.9,165.4ZM666.1,312.4L666.4,317.7L668.1,316.9L667.8,311.5ZM664.1,354.1L663.8,358.9L665.8,358.3L666.2,353.4ZM688.6,345.8L688.3,351.2L690.1,350.6L690.4,345.2ZM637.4,474.4L634.6,481.5L636.3,482.2L639.2,475.0ZM655.2,498.6L651.9,506.7L653.3,507.4L656.7,499.2ZM651.9,506.7L648.4,514.9L649.9,515.6L653.3,507.4ZM642.7,532.1L638.9,540.5L642.1,542.8L645.9,534.3ZM638.9,540.5L635.0,548.9L638.2,551.4L642.1,542.8Z" fill="#909090" stroke="#909090" stroke-width="0.7"/>
<path d="M342.3,198.9L349.3,193.0L348.9,192.2L341.9,198.2ZM406.2,164.3L414.6,159.3L413.6,154.8L405.1,159.8ZM405.1,159.8L413.6,154.8L412.5,149.3L403.8,154.4ZM667.3,306.1L667.8,311.5L677.5,306.2L676.9,300.6ZM676.9,300.6L677.5,306.2L686.0,301.5L685.4,295.7ZM686.0,301.5L686.5,307.3L688.2,306.4L687.7,300.6ZM663.8,358.9L663.4,363.6L665.5,363.0L665.8,358.3ZM688.3,351.2L687.9,356.5L689.7,356.0L690.1,350.6ZM634.6,481.5L631.6,488.6L633.3,489.3L636.3,482.2ZM648.4,514.9L644.9,523.0L646.3,523.9L649.9,515.6ZM635.0,548.9L631.0,557.5L634.1,560.1L638.2,551.4ZM631.0,557.5L626.8,566.2L629.8,569.0L634.1,560.1ZM626.8,566.2L622.5,575.2L625.4,578.1L629.8,569.0ZM622.5,575.2L617.9,584.3L620.7,587.4L625.4,578.1ZM617.9,584.3L613.1,593.6L615.8,596.9L620.7,587.4ZM613.1,593.6L608.1,603.2L610.6,606.6L615.8,596.9ZM608.1,603.2L602.7,613.1L605.1,616.6L610.6,606.6ZM602.7,613.1L597.0,623.2L599.3,626.9L605.1,616.6Z" fill="#919191" stroke="#919191" stroke-width="0.7"/>
<path d="M356.0,222.5L362.2,217.2L360.3,213.7L354.0,219.1ZM349.3,211.0L355.9,205.4L355.3,204.3L348.7,210.0ZM398.6,171.0L406.6,165.9L406.3,164.6L398.2,169.7ZM667.8,311.5L668.1,316.9L677.9,311.8L677.5,306.2ZM677.5,306.2L677.9,311.8L686.5,307.3L686.0,301.5ZM666.4,317.7L666.7,323.0L668.4,322.2L668.1,316.9ZM686.5,307.3L686.9,313.0L688.6,312.2L688.2,306.4ZM663.4,363.6L663.0,368.3L665.0,367.7L665.5,363.0ZM687.9,356.5L687.5,361.7L689.3,361.2L689.7,356.0ZM687.5,361.7L687.0,366.9L688.8,366.5L689.3,361.2ZM631.6,488.6L628.5,495.6L630.2,496.4L633.3,489.3ZM644.9,523.0L641.3,531.2L642.7,532.1L646.3,523.9ZM641.3,531.2L637.5,539.5L638.9,540.5L642.7,532.1Z" fill="#929292" stroke="#929292" stroke-width="0.7"/>
<path d="M328.9,210.8L335.6,204.8L335.1,204.1L328.4,210.1ZM335.6,204.8L342.3,198.9L341.9,198.2L335.1,204.1ZM395.4,159.7L403.8,154.4L403.5,153.5L395.1,158.8ZM409.2,176.3L417.2,171.5L416.0,165.9L407.8,170.7ZM666.7,323.0L666.8,328.2L668.5,327.4L668.4,322.2ZM686.9,313.0L687.1,318.7L688.9,317.9L688.6,312.2ZM663.0,368.3L662.5,372.9L664.6,372.4L665.0,367.7ZM687.0,366.9L686.5,372.0L688.2,371.6L688.8,366.5ZM628.5,495.6L625.4,502.6L627.1,503.5L630.2,496.4ZM637.5,539.5L633.7,547.9L635.0,548.9L638.9,540.5ZM633.7,547.9L629.7,556.4L631.0,557.5L635.0,548.9ZM629.7,556.4L625.5,565.1L626.8,566.2L631.0,557.5ZM625.5,565.1L621.2,573.9L622.5,575.2L626.8,566.2ZM621.2,573.9L616.7,583.0L617.9,584.3L622.5,575.2ZM616.7,583.0L612.0,592.2L613.1,593.6L617.9,584.3ZM612.0,592.2L607.0,601.8L608.1,603.2L613.1,593.6ZM607.0,601.8L601.7,611.6L602.7,613.1L608.1,603.2ZM601.7,611.6L596.0,621.7L597.0,623.2L602.7,613.1Z" fill="#939393" stroke="#939393" stroke-width="0.7"/>
<path d="M316.0,222.9L322.4,216.9L321.9,216.2L315.5,222.3ZM322.4,216.8L328.9,210.8L328.4,210.1L321.9,216.2ZM344.1,233.3L350.0,228.0L347.9,224.6L341.9,230.1ZM336.7,222.4L343.0,216.7L342.3,215.7L336.0,221.4ZM350.0,227.9L356.0,222.6L354.0,219.2L347.9,224.6ZM342.9,216.7L349.4,211.0L348.8,210.0L342.3,215.7ZM398.2,169.7L406.3,164.6L405.2,160.0L396.9,165.2ZM396.9,165.2L405.2,160.0L403.8,154.4L395.4,159.7ZM668.1,316.9L668.4,322.2L678.2,317.3L677.9,311.8ZM677.9,311.8L678.2,317.3L686.9,313.0L686.5,307.3ZM662.5,372.9L662.0,377.4L664.1,377.0L664.6,372.4ZM686.5,372.0L685.9,377.1L687.6,376.7L688.2,371.6ZM685.9,377.1L685.2,382.0L687.0,381.7L687.6,376.7ZM625.4,502.6L622.2,509.6L623.8,510.6L627.1,503.5Z" fill="#949494" stroke="#949494" stroke-width="0.7"/>
<path d="M291.6,247.8L303.6,235.2L303.1,234.6L291.0,247.2ZM303.6,235.2L316.0,222.9L315.5,222.3L303.0,234.6ZM332.7,244.3L338.4,238.9L336.1,235.7L330.3,241.3ZM324.6,234.0L330.7,228.2L330.0,227.3L323.9,233.0ZM338.4,238.8L344.1,233.4L341.9,230.2L336.1,235.6ZM330.6,228.1L336.7,222.4L336.1,221.5L329.9,227.2ZM668.4,322.2L668.5,327.4L678.4,322.8L678.2,317.3ZM678.2,317.3L678.4,322.8L687.1,318.7L686.9,313.0ZM666.8,328.2L666.8,333.4L668.6,332.6L668.5,327.4ZM687.1,318.7L687.3,324.4L689.0,323.6L688.9,317.9ZM662.0,377.4L661.5,381.9L663.6,381.5L664.1,377.0ZM685.2,382.0L684.5,387.0L686.3,386.7L687.0,381.7ZM684.5,387.0L683.8,391.9L685.5,391.6L686.3,386.7ZM683.8,391.9L683.0,396.7L684.7,396.5L685.5,391.6ZM683.0,396.7L682.1,401.4L683.9,401.3L684.7,396.5ZM682.1,401.4L681.3,406.2L683.0,406.0L683.9,401.3ZM681.3,406.2L680.3,410.8L682.0,410.7L683.0,406.0ZM622.2,509.6L618.9,516.7L620.5,517.7L623.8,510.6Z" fill="#959595" stroke="#959595" stroke-width="0.7"/>
<path d="M280.0,260.6L291.7,247.8L291.0,247.2L279.3,260.0ZM302.0,257.7L313.2,245.9L312.4,245.0L301.1,256.9ZM321.9,255.5L332.9,244.5L330.4,241.4L319.3,252.6ZM313.1,245.7L324.7,234.1L324.0,233.1L312.3,244.8ZM390.9,176.4L398.7,171.2L398.3,169.9L390.4,175.2ZM387.2,165.2L395.4,159.8L395.1,158.8L386.9,164.2ZM666.8,333.4L666.8,338.5L668.5,337.8L668.6,332.6ZM687.3,324.4L687.3,330.0L689.1,329.3L689.0,323.6ZM661.5,381.9L660.9,386.3L663.0,386.0L663.6,381.5ZM660.9,386.3L660.3,390.7L662.4,390.4L663.0,386.0ZM680.3,410.8L680.0,412.7L681.7,412.6L682.0,410.7ZM680.0,412.7L678.0,421.8L679.6,421.8L681.7,412.6ZM678.0,421.8L675.8,430.8L677.5,430.9L679.6,421.8ZM675.8,430.8L673.5,439.6L675.1,439.8L677.5,430.9ZM618.9,516.7L615.5,523.8L617.1,524.9L620.5,517.7Z" fill="#969696" stroke="#969696" stroke-width="0.7"/>
<path d="M268.7,273.8L280.1,260.6L279.4,260.0L268.0,273.2ZM291.3,270.1L302.2,258.0L301.4,257.1L290.4,269.3ZM311.4,266.9L322.1,255.7L319.4,252.8L308.6,264.2ZM390.4,175.2L398.3,169.9L397.0,165.3L389.0,170.7ZM389.0,170.7L397.0,165.3L395.4,159.8L387.2,165.2ZM401.6,181.5L409.3,176.7L407.9,171.1L400.1,176.1ZM668.5,327.4L668.6,332.6L678.5,328.3L678.4,322.8ZM678.4,322.8L678.5,328.3L687.3,324.4L687.1,318.7ZM660.3,390.7L659.7,395.0L661.7,394.8L662.4,390.4ZM659.7,395.0L659.0,399.3L661.0,399.1L661.7,394.8ZM659.0,399.3L658.3,403.5L660.3,403.3L661.0,399.1ZM658.3,403.5L657.6,407.7L659.6,407.6L660.3,403.3ZM657.6,407.7L656.8,411.8L658.8,411.8L659.6,407.6ZM656.8,411.8L656.5,413.5L658.5,413.4L658.8,411.8ZM656.5,413.5L654.8,421.6L656.8,421.6L658.5,413.4ZM654.8,421.6L653.0,429.6L654.9,429.7L656.8,421.6ZM653.0,429.6L651.1,437.4L653.0,437.6L654.9,429.7ZM673.5,439.6L671.1,448.3L672.7,448.5L675.1,439.8ZM671.1,448.3L668.5,456.8L670.1,457.1L672.7,448.5ZM615.5,523.8L612.1,531.0L613.7,532.2L617.1,524.9Z" fill="#979797" stroke="#979797" stroke-width="0.7"/>
<path d="M257.8,287.4L268.8,273.8L268.0,273.3L257.0,286.9ZM281.1,282.7L291.7,270.4L290.7,269.6L280.0,282.0ZM301.5,278.6L311.7,267.2L308.9,264.5L298.5,276.1ZM668.6,332.6L668.5,337.8L678.5,333.6L678.5,328.3ZM678.5,328.3L678.5,333.6L687.3,330.0L687.3,324.4ZM666.8,338.5L666.6,343.5L668.4,342.8L668.5,337.8ZM687.3,330.0L687.2,335.5L689.0,334.8L689.1,329.3ZM651.1,437.4L649.0,445.2L650.9,445.4L653.0,437.6ZM668.5,456.8L665.8,465.2L667.4,465.6L670.1,457.1ZM612.1,531.0L608.6,538.4L610.1,539.7L613.7,532.2ZM608.6,538.4L605.0,545.9L606.5,547.3L610.1,539.7ZM605.0,545.9L601.4,553.7L602.8,555.2L606.5,547.3ZM601.4,553.7L597.6,561.7L599.0,563.2L602.8,555.2ZM597.6,561.7L593.6,570.0L595.0,571.6L599.0,563.2ZM593.6,570.0L589.5,578.6L590.8,580.3L595.0,571.6ZM589.5,578.6L585.2,587.6L586.4,589.3L590.8,580.3ZM585.2,587.6L580.6,596.9L581.7,598.7L586.4,589.3Z" fill="#989898" stroke="#989898" stroke-width="0.7"/>
<path d="M236.5,316.1L247.1,301.5L246.2,301.0L235.6,315.6ZM247.1,301.5L257.8,287.4L257.0,286.9L246.2,301.0ZM271.1,295.7L281.5,283.0L280.4,282.3L270.0,295.0ZM291.9,290.6L301.9,278.9L298.9,276.4L288.7,288.3ZM383.4,182.0L390.9,176.6L390.5,175.3L382.9,180.7ZM668.5,337.8L668.4,342.8L678.4,339.0L678.5,333.6ZM678.5,333.6L678.4,339.0L687.2,335.5L687.3,330.0ZM666.6,343.5L666.4,348.5L668.2,347.9L668.4,342.8ZM687.2,335.5L687.1,341.0L688.9,340.3L689.0,334.8ZM649.0,445.2L646.8,452.8L648.6,453.1L650.9,445.4ZM646.8,452.8L644.4,460.3L646.2,460.7L648.6,453.1ZM665.8,465.2L663.0,473.5L664.5,473.9L667.4,465.6Z" fill="#999999" stroke="#999999" stroke-width="0.7"/>
<path d="M226.1,331.2L236.6,316.1L235.6,315.7L225.2,330.9ZM251.8,322.8L261.8,309.3L260.6,308.6L250.5,322.3ZM261.4,309.1L271.6,296.0L270.4,295.3L260.2,308.4ZM282.5,302.8L292.3,290.9L289.1,288.6L279.2,300.8ZM382.9,180.7L390.5,175.3L389.0,170.8L381.3,176.2ZM381.3,176.2L389.0,170.8L387.2,165.2L379.3,170.8ZM379.3,170.8L387.2,165.2L386.9,164.3L378.9,169.8ZM666.4,348.5L666.2,353.4L667.9,352.8L668.2,347.9ZM687.1,341.0L686.8,346.4L688.6,345.8L688.9,340.3ZM644.4,460.3L641.9,467.7L643.6,468.2L646.2,460.7ZM663.0,473.5L660.0,481.7L661.5,482.2L664.5,473.9Z" fill="#9a9a9a" stroke="#9a9a9a" stroke-width="0.7"/>
<path d="M215.9,347.1L226.2,331.3L225.2,330.9L214.8,346.8ZM242.2,337.1L252.2,323.0L250.9,322.4L240.9,336.6ZM273.3,315.4L283.0,303.1L279.6,301.0L269.8,313.6ZM394.2,186.9L401.7,181.8L400.1,176.4L392.5,181.5ZM668.4,342.8L668.2,347.9L678.2,344.2L678.4,339.0ZM678.4,339.0L678.2,344.2L687.1,341.0L687.2,335.5ZM686.8,346.4L686.5,351.7L688.3,351.2L688.6,345.8ZM641.9,467.7L639.2,475.0L640.9,475.5L643.6,468.2ZM660.0,481.7L656.9,489.9L658.4,490.4L661.5,482.2Z" fill="#9b9b9b" stroke="#9b9b9b" stroke-width="0.7"/>
<path d="M205.6,363.8L215.9,347.1L214.9,346.8L204.6,363.6ZM232.6,351.9L242.6,337.2L241.2,336.7L231.2,351.5ZM264.2,328.4L273.8,315.7L270.3,313.8L260.6,326.8ZM376.1,187.5L383.4,182.1L382.9,180.8L375.6,186.2ZM668.2,347.9L667.9,352.8L678.0,349.4L678.2,344.2ZM678.2,344.2L678.0,349.4L686.8,346.4L687.1,341.0ZM666.2,353.4L665.8,358.3L667.6,357.7L667.9,352.8ZM686.5,351.7L686.2,357.0L687.9,356.5L688.3,351.2ZM656.9,489.9L653.7,498.0L655.2,498.6L658.4,490.4Z" fill="#9c9c9c" stroke="#9c9c9c" stroke-width="0.7"/>
<path d="M185.4,400.1L195.5,381.4L194.4,381.3L184.3,400.0ZM195.5,381.4L205.7,363.8L204.6,363.6L194.4,381.3ZM222.9,367.5L232.9,352.0L231.5,351.6L221.4,367.2ZM255.0,341.8L264.6,328.5L261.0,326.9L251.3,340.4ZM371.6,176.5L379.3,170.8L379.0,169.8L371.2,175.5ZM667.9,352.8L667.6,357.7L677.7,354.5L678.0,349.4ZM678.0,349.4L677.7,354.5L686.5,351.7L686.8,346.4ZM665.8,358.3L665.5,363.0L667.2,362.5L667.6,357.7ZM686.2,357.0L685.7,362.2L687.5,361.7L687.9,356.5ZM639.2,475.0L636.3,482.2L638.0,482.8L640.9,475.5ZM653.7,498.0L650.4,506.0L651.9,506.7L655.2,498.6Z" fill="#9d9d9d" stroke="#9d9d9d" stroke-width="0.7"/>
<path d="M203.1,401.3L213.4,383.9L211.9,383.7L201.6,401.2ZM213.1,383.9L223.3,367.6L221.8,367.2L211.6,383.7ZM245.7,355.7L255.4,341.9L251.7,340.5L241.9,354.6ZM375.6,186.2L382.9,180.8L381.3,176.3L373.8,181.8ZM373.8,181.8L381.3,176.3L379.3,170.8L371.6,176.5ZM387.1,192.2L394.3,187.1L392.6,181.7L385.2,186.9ZM667.6,357.7L667.2,362.5L677.3,359.6L677.7,354.5ZM677.7,354.5L677.3,359.6L686.2,357.0L686.5,351.7ZM665.5,363.0L665.0,367.7L666.8,367.3L667.2,362.5ZM685.7,362.2L685.3,367.3L687.0,366.9L687.5,361.7ZM636.3,482.2L633.3,489.3L635.0,490.1L638.0,482.8ZM650.4,506.0L647.0,514.1L648.4,514.9L651.9,506.7ZM647.0,514.1L643.5,522.2L644.9,523.0L648.4,514.9Z" fill="#9e9e9e" stroke="#9e9e9e" stroke-width="0.7"/>
<path d="M236.2,370.3L246.1,355.8L242.3,354.7L232.3,369.5ZM369.0,193.1L376.1,187.6L375.6,186.3L368.4,191.8ZM667.2,362.5L666.8,367.3L676.9,364.6L677.3,359.6ZM677.3,359.6L676.9,364.6L685.7,362.2L686.2,357.0ZM665.0,367.7L664.6,372.4L666.4,372.0L666.8,367.3ZM685.3,367.3L684.7,372.4L686.5,372.0L687.0,366.9ZM633.3,489.3L630.2,496.4L631.9,497.2L635.0,490.1ZM643.5,522.2L639.9,530.3L641.3,531.2L644.9,523.0Z" fill="#9f9f9f" stroke="#9f9f9f" stroke-width="0.7"/>
<path d="M216.4,402.3L226.8,385.8L222.9,385.3L212.5,402.0ZM226.5,385.8L236.6,370.4L232.7,369.6L222.6,385.2ZM364.1,182.2L371.6,176.5L371.2,175.5L363.7,181.3ZM666.8,367.3L666.4,372.0L676.4,369.5L676.9,364.6ZM676.9,364.6L676.4,369.5L685.3,367.3L685.7,362.2ZM664.6,372.4L664.1,377.0L665.9,376.6L666.4,372.0ZM664.1,377.0L663.6,381.5L665.3,381.1L665.9,376.6ZM684.7,372.4L684.1,377.4L685.9,377.1L686.5,372.0ZM684.1,377.4L683.5,382.4L685.2,382.0L685.9,377.1ZM630.2,496.4L627.1,503.5L628.8,504.4L631.9,497.2ZM639.9,530.3L636.2,538.5L637.5,539.5L641.3,531.2Z" fill="#a0a0a0" stroke="#a0a0a0" stroke-width="0.7"/>
<path d="M368.4,191.8L375.6,186.3L373.8,181.9L366.5,187.5ZM366.5,187.5L373.8,181.9L371.6,176.5L364.1,182.2ZM666.4,372.0L665.9,376.6L675.9,374.4L676.4,369.5ZM676.4,369.5L675.9,374.4L684.7,372.4L685.3,367.3ZM663.6,381.5L663.0,386.0L664.7,385.7L665.3,381.1ZM663.0,386.0L662.4,390.4L664.1,390.1L664.7,385.7ZM683.5,382.4L682.8,387.3L684.5,387.0L685.2,382.0ZM682.8,387.3L682.0,392.1L683.8,391.9L684.5,387.0ZM627.1,503.5L623.8,510.6L625.5,511.6L628.8,504.4ZM636.2,538.5L632.3,546.8L633.7,547.9L637.5,539.5ZM632.3,546.8L628.4,555.3L629.7,556.4L633.7,547.9ZM628.4,555.3L624.3,563.9L625.5,565.1L629.7,556.4ZM624.3,563.9L620.0,572.6L621.2,573.9L625.5,565.1Z" fill="#a1a1a1" stroke="#a1a1a1" stroke-width="0.7"/>
<path d="M362.1,198.7L369.0,193.1L368.4,191.9L361.5,197.5ZM380.1,197.5L387.1,192.3L385.2,187.1L378.0,192.4ZM665.9,376.6L665.3,381.1L675.3,379.2L675.9,374.4ZM675.9,374.4L675.3,379.2L684.1,377.4L684.7,372.4ZM662.4,390.4L661.7,394.8L663.5,394.5L664.1,390.1ZM661.7,394.8L661.0,399.1L662.8,398.9L663.5,394.5ZM682.0,392.1L681.3,396.9L683.0,396.7L683.8,391.9ZM661.0,399.1L660.3,403.3L662.0,403.2L662.8,398.9ZM681.3,396.9L680.4,401.6L682.1,401.4L683.0,396.7ZM660.3,403.3L659.6,407.6L661.3,407.5L662.0,403.2ZM680.4,401.6L679.5,406.3L681.3,406.2L682.1,401.4ZM659.6,407.6L658.8,411.8L660.5,411.7L661.3,407.5ZM679.5,406.3L678.6,410.9L680.3,410.8L681.3,406.2ZM658.8,411.8L658.5,413.4L660.2,413.4L660.5,411.7ZM678.6,410.9L678.3,412.7L680.0,412.7L680.3,410.8ZM658.5,413.4L656.8,421.6L658.4,421.6L660.2,413.4ZM678.3,412.7L676.3,421.8L678.0,421.8L680.0,412.7ZM656.8,421.6L654.9,429.7L656.6,429.8L658.4,421.6ZM676.3,421.8L674.2,430.7L675.8,430.8L678.0,421.8ZM674.2,430.7L671.9,439.4L673.5,439.6L675.8,430.8ZM623.8,510.6L620.5,517.7L622.1,518.8L625.5,511.6ZM620.0,572.6L615.5,581.6L616.7,583.0L621.2,573.9ZM615.5,581.6L610.8,590.9L612.0,592.2L616.7,583.0ZM610.8,590.9L605.9,600.3L607.0,601.8L612.0,592.2ZM605.9,600.3L600.7,610.1L601.7,611.6L607.0,601.8ZM600.7,610.1L595.1,620.2L596.0,621.7L601.7,611.6Z" fill="#a2a2a2" stroke="#a2a2a2" stroke-width="0.7"/>
<path d="M356.9,188.0L364.1,182.2L363.7,181.3L356.4,187.1ZM665.3,381.1L664.7,385.7L674.7,383.9L675.3,379.2ZM675.3,379.2L674.7,383.9L683.5,382.4L684.1,377.4ZM664.7,385.7L664.1,390.1L674.0,388.6L674.7,383.9ZM674.7,383.9L674.0,388.6L682.8,387.3L683.5,382.4ZM654.9,429.7L653.0,437.6L654.6,437.8L656.6,429.8ZM653.0,437.6L650.9,445.4L652.5,445.6L654.6,437.8ZM671.9,439.4L669.5,448.0L671.1,448.3L673.5,439.6ZM669.5,448.0L667.0,456.5L668.5,456.8L671.1,448.3ZM620.5,517.7L617.1,524.9L618.7,526.1L622.1,518.8Z" fill="#a3a3a3" stroke="#a3a3a3" stroke-width="0.7"/>
<path d="M361.5,197.5L368.4,191.9L366.5,187.5L359.4,193.2ZM359.4,193.2L366.5,187.5L364.1,182.2L356.9,188.0ZM664.1,390.1L663.5,394.5L673.3,393.2L674.0,388.6ZM674.0,388.6L673.3,393.2L682.0,392.1L682.8,387.3ZM663.5,394.5L662.8,398.9L672.6,397.8L673.3,393.2ZM673.3,393.2L672.6,397.8L681.3,396.9L682.0,392.1ZM662.8,398.9L662.0,403.2L671.8,402.3L672.6,397.8ZM672.6,397.8L671.8,402.3L680.4,401.6L681.3,396.9ZM662.0,403.2L661.3,407.5L671.0,406.8L671.8,402.3ZM671.8,402.3L671.0,406.8L679.5,406.3L680.4,401.6ZM661.3,407.5L660.5,411.7L670.1,411.3L671.0,406.8ZM671.0,406.8L670.1,411.3L678.6,410.9L679.5,406.3ZM660.5,411.7L660.2,413.4L669.8,413.0L670.1,411.3ZM670.1,411.3L669.8,413.0L678.3,412.7L678.6,410.9ZM660.2,413.4L658.4,421.6L667.9,421.7L669.8,413.0ZM669.8,413.0L667.9,421.7L676.3,421.8L678.3,412.7ZM658.4,421.6L656.6,429.8L665.9,430.3L667.9,421.7ZM667.9,421.7L665.9,430.3L674.2,430.7L676.3,421.8ZM656.6,429.8L654.6,437.8L663.8,438.7L665.9,430.3ZM665.9,430.3L663.8,438.7L671.9,439.4L674.2,430.7ZM650.9,445.4L648.6,453.1L650.2,453.4L652.5,445.6ZM667.0,456.5L664.3,464.9L665.8,465.2L668.5,456.8ZM617.1,524.9L613.7,532.2L615.2,533.5L618.7,526.1ZM613.7,532.2L610.1,539.7L611.7,541.0L615.2,533.5Z" fill="#a4a4a4" stroke="#a4a4a4" stroke-width="0.7"/>
<path d="M373.3,202.9L380.1,197.6L378.1,192.5L371.1,197.9ZM654.6,437.8L652.5,445.6L661.5,446.9L663.8,438.7ZM663.8,438.7L661.5,446.9L669.5,448.0L671.9,439.4ZM648.6,453.1L646.2,460.7L647.8,461.0L650.2,453.4ZM664.3,464.9L661.5,473.1L663.0,473.5L665.8,465.2ZM610.1,539.7L606.5,547.3L608.0,548.7L611.7,541.0ZM606.5,547.3L602.8,555.2L604.3,556.6L608.0,548.7ZM602.8,555.2L599.0,563.2L600.4,564.8L604.3,556.6ZM599.0,563.2L595.0,571.6L596.3,573.2L600.4,564.8ZM595.0,571.6L590.8,580.3L592.1,582.0L596.3,573.2ZM590.8,580.3L586.4,589.3L587.6,591.1L592.1,582.0ZM586.4,589.3L581.7,598.7L582.8,600.5L587.6,591.1Z" fill="#a5a5a5" stroke="#a5a5a5" stroke-width="0.7"/>
<path d="M355.3,204.3L362.1,198.7L361.5,197.5L354.7,203.1ZM349.8,193.9L356.9,188.0L356.4,187.1L349.3,193.0ZM652.5,445.6L650.2,453.4L659.1,455.0L661.5,446.9ZM661.5,446.9L659.1,455.0L667.0,456.5L669.5,448.0ZM650.2,453.4L647.8,461.0L656.5,463.1L659.1,455.0ZM659.1,455.0L656.5,463.1L664.3,464.9L667.0,456.5ZM646.2,460.7L643.6,468.2L645.2,468.6L647.8,461.0ZM661.5,473.1L658.5,481.3L660.0,481.7L663.0,473.5Z" fill="#a6a6a6" stroke="#a6a6a6" stroke-width="0.7"/>
<path d="M354.7,203.1L361.5,197.5L359.4,193.2L352.5,198.9ZM352.5,198.9L359.4,193.2L356.9,188.0L349.8,193.9ZM647.8,461.0L645.2,468.6L653.8,471.0L656.5,463.1ZM656.5,463.1L653.8,471.0L661.5,473.1L664.3,464.9ZM643.6,468.2L640.9,475.5L642.4,476.0L645.2,468.6ZM658.5,481.3L655.4,489.3L656.9,489.9L660.0,481.7Z" fill="#a7a7a7" stroke="#a7a7a7" stroke-width="0.7"/>
<path d="M645.2,468.6L642.4,476.0L651.0,478.8L653.8,471.0ZM653.8,471.0L651.0,478.8L658.5,481.3L661.5,473.1ZM640.9,475.5L638.0,482.8L639.5,483.4L642.4,476.0ZM655.4,489.3L652.2,497.4L653.7,498.0L656.9,489.9Z" fill="#a8a8a8" stroke="#a8a8a8" stroke-width="0.7"/>
<path d="M348.7,210.0L355.3,204.3L354.7,203.1L348.1,208.8ZM366.7,208.3L373.4,202.9L371.1,197.9L364.3,203.4ZM642.4,476.0L639.5,483.4L648.0,486.5L651.0,478.8ZM651.0,478.8L648.0,486.5L655.4,489.3L658.5,481.3ZM638.0,482.8L635.0,490.1L636.5,490.7L639.5,483.4Z" fill="#a9a9a9" stroke="#a9a9a9" stroke-width="0.7"/>
<path d="M348.1,208.8L354.7,203.1L352.5,199.0L345.7,204.7ZM345.7,204.7L352.5,199.0L349.8,193.9L342.8,199.8ZM342.8,199.8L349.8,193.9L349.3,193.0L342.3,198.9ZM635.0,490.1L631.9,497.2L633.4,497.9L636.5,490.7ZM652.2,497.4L648.9,505.4L650.4,506.0L653.7,498.0Z" fill="#aaaaaa" stroke="#aaaaaa" stroke-width="0.7"/>
<path d="M329.9,227.2L336.1,221.5L335.3,220.3L329.1,226.1ZM336.0,221.4L342.3,215.7L341.6,214.6L335.3,220.3ZM342.3,215.7L348.8,210.0L348.1,208.8L341.6,214.5ZM336.1,205.7L342.9,199.8L342.3,198.9L335.6,204.8ZM639.5,483.4L636.5,490.7L644.9,494.2L648.0,486.5ZM648.0,486.5L644.9,494.2L652.2,497.4L655.4,489.3ZM631.9,497.2L628.8,504.4L630.2,505.2L633.4,497.9ZM648.9,505.4L645.5,513.3L647.0,514.1L650.4,506.0Z" fill="#ababab" stroke="#ababab" stroke-width="0.7"/>
<path d="M312.3,244.8L324.0,233.1L323.2,232.1L311.4,243.8ZM323.9,233.0L330.0,227.3L329.2,226.2L323.1,232.0ZM323.0,217.7L329.5,211.7L328.9,210.8L322.4,216.8ZM329.5,211.7L336.1,205.7L335.6,204.8L328.9,210.8ZM341.6,214.5L348.1,208.8L345.7,204.7L339.1,210.5ZM339.1,210.5L345.7,204.7L342.9,199.8L336.1,205.7ZM636.5,490.7L633.4,497.9L641.7,501.9L644.9,494.2ZM644.9,494.2L641.7,501.9L648.9,505.4L652.2,497.4ZM628.8,504.4L625.5,511.6L626.9,512.4L630.2,505.2ZM645.5,513.3L642.1,521.3L643.5,522.2L647.0,514.1Z" fill="#acacac" stroke="#acacac" stroke-width="0.7"/>
<path d="M301.1,256.9L312.4,245.0L311.5,244.0L300.1,255.9ZM304.3,236.0L316.7,223.7L316.0,222.9L303.6,235.2ZM323.1,232.0L329.2,226.2L326.4,222.3L320.2,228.2ZM320.2,228.2L326.4,222.3L323.0,217.7L316.6,223.7ZM316.6,223.7L323.0,217.7L322.4,216.9L316.0,222.9ZM329.1,226.1L335.3,220.3L332.7,216.4L326.4,222.3ZM326.4,222.3L332.7,216.4L329.5,211.7L323.0,217.7ZM335.3,220.3L341.6,214.6L339.1,210.6L332.7,216.4ZM332.7,216.4L339.1,210.6L336.1,205.7L329.5,211.7ZM360.3,213.7L366.8,208.3L364.4,203.4L357.8,208.9ZM633.4,497.9L630.2,505.2L638.3,509.5L641.7,501.9ZM641.7,501.9L638.3,509.5L645.5,513.3L648.9,505.4ZM625.5,511.6L622.1,518.8L623.5,519.7L626.9,512.4ZM642.1,521.3L638.5,529.4L639.9,530.3L643.5,522.2Z" fill="#adadad" stroke="#adadad" stroke-width="0.7"/>
<path d="M290.4,269.3L301.4,257.1L300.3,256.2L289.3,268.4ZM292.4,248.5L304.3,236.0L303.6,235.2L291.6,247.8ZM311.4,243.8L323.2,232.1L320.2,228.3L308.2,240.3ZM308.2,240.3L320.2,228.3L316.7,223.7L304.3,236.0ZM630.2,505.2L626.9,512.4L635.0,517.2L638.3,509.5ZM638.3,509.5L635.0,517.2L642.1,521.3L645.5,513.3ZM622.1,518.8L618.7,526.1L620.1,527.1L623.5,519.7ZM638.5,529.4L634.8,537.5L636.2,538.5L639.9,530.3ZM634.8,537.5L631.0,545.8L632.3,546.8L636.2,538.5Z" fill="#aeaeae" stroke="#aeaeae" stroke-width="0.7"/>
<path d="M280.0,282.0L290.7,269.6L289.6,268.6L278.8,281.1ZM280.8,261.3L292.4,248.5L291.7,247.8L280.0,260.6ZM300.1,255.9L311.5,244.0L308.3,240.4L296.6,252.6ZM296.6,252.6L308.3,240.4L304.3,236.0L292.4,248.5ZM626.9,512.4L623.5,519.7L631.5,524.9L635.0,517.2ZM635.0,517.2L631.5,524.9L638.5,529.4L642.1,521.3ZM618.7,526.1L615.2,533.5L616.6,534.5L620.1,527.1ZM631.0,545.8L627.1,554.1L628.4,555.3L632.3,546.8ZM627.1,554.1L623.0,562.7L624.3,563.9L628.4,555.3Z" fill="#afafaf" stroke="#afafaf" stroke-width="0.7"/>
<path d="M260.2,308.4L270.4,295.3L269.1,294.4L258.8,307.7ZM270.0,295.0L280.4,282.3L279.2,281.4L268.7,294.2ZM258.7,288.0L269.7,274.5L268.8,273.8L257.8,287.4ZM278.8,281.1L289.6,268.6L285.7,265.3L274.7,278.1ZM274.7,278.1L285.7,265.3L280.9,261.3L269.6,274.4ZM269.6,274.4L280.9,261.3L280.1,260.6L268.7,273.8ZM289.3,268.4L300.3,256.2L296.8,252.7L285.5,265.2ZM285.5,265.2L296.8,252.7L292.4,248.5L280.8,261.3ZM354.0,219.1L360.3,213.7L357.8,208.9L351.3,214.5ZM623.5,519.7L620.1,527.1L627.9,532.6L631.5,524.9ZM631.5,524.9L627.9,532.6L634.8,537.5L638.5,529.4ZM615.2,533.5L611.7,541.0L613.0,542.1L616.6,534.5ZM611.7,541.0L608.0,548.7L609.3,549.9L613.0,542.1ZM608.0,548.7L604.3,556.6L605.5,557.9L609.3,549.9ZM623.0,562.7L618.8,571.4L620.0,572.6L624.3,563.9ZM604.3,556.6L600.4,564.8L601.6,566.1L605.5,557.9ZM618.8,571.4L614.3,580.3L615.5,581.6L620.0,572.6ZM600.4,564.8L596.3,573.2L597.5,574.6L601.6,566.1ZM614.3,580.3L609.7,589.5L610.8,590.9L615.5,581.6ZM596.3,573.2L592.1,582.0L593.2,583.4L597.5,574.6ZM609.7,589.5L604.8,598.9L605.9,600.3L610.8,590.9ZM592.1,582.0L587.6,591.1L588.6,592.6L593.2,583.4ZM604.8,598.9L599.6,608.6L600.7,610.1L605.9,600.3ZM587.6,591.1L582.8,600.5L583.8,602.1L588.6,592.6ZM599.6,608.6L594.1,618.6L595.1,620.2L600.7,610.1Z" fill="#b0b0b0" stroke="#b0b0b0" stroke-width="0.7"/>
<path d="M250.5,322.3L260.6,308.6L259.1,307.9L249.0,321.6ZM248.1,302.0L258.8,288.0L257.8,287.4L247.1,301.5ZM268.7,294.2L279.2,281.4L274.9,278.3L264.2,291.4ZM264.2,291.4L274.9,278.3L269.7,274.5L258.7,288.0ZM620.1,527.1L616.6,534.5L624.2,540.5L627.9,532.6ZM627.9,532.6L624.2,540.5L631.0,545.8L634.8,537.5ZM616.6,534.5L613.0,542.1L620.5,548.5L624.2,540.5ZM624.2,540.5L620.5,548.5L627.1,554.1L631.0,545.8Z" fill="#b1b1b1" stroke="#b1b1b1" stroke-width="0.7"/>
<path d="M240.9,336.6L250.9,322.4L249.3,321.8L239.3,336.0ZM237.6,316.5L248.2,302.0L247.1,301.5L236.5,316.1ZM258.8,307.7L269.1,294.4L264.4,291.6L254.0,305.1ZM254.0,305.1L264.4,291.6L258.8,288.0L248.1,302.0ZM347.9,224.6L354.0,219.2L351.4,214.5L345.1,220.0ZM613.0,542.1L609.3,549.9L616.6,556.7L620.5,548.5ZM620.5,548.5L616.6,556.7L623.0,562.7L627.1,554.1ZM609.3,549.9L605.5,557.9L612.5,565.1L616.6,556.7ZM616.6,556.7L612.5,565.1L618.8,571.4L623.0,562.7ZM605.5,557.9L601.6,566.1L608.3,573.7L612.5,565.1ZM612.5,565.1L608.3,573.7L614.3,580.3L618.8,571.4ZM601.6,566.1L597.5,574.6L604.0,582.5L608.3,573.7ZM608.3,573.7L604.0,582.5L609.7,589.5L614.3,580.3ZM597.5,574.6L593.2,583.4L599.3,591.6L604.0,582.5ZM604.0,582.5L599.3,591.6L604.8,598.9L609.7,589.5ZM593.2,583.4L588.6,592.6L594.5,601.1L599.3,591.6ZM599.3,591.6L594.5,601.1L599.6,608.6L604.8,598.9ZM588.6,592.6L583.8,602.1L589.3,610.9L594.5,601.1ZM594.5,601.1L589.3,610.9L594.1,618.6L599.6,608.6Z" fill="#b2b2b2" stroke="#b2b2b2" stroke-width="0.7"/>
<path d="M231.2,351.5L241.2,336.7L239.6,336.1L229.6,351.1ZM227.3,331.7L237.7,316.6L236.6,316.1L226.1,331.2ZM249.0,321.6L259.1,307.9L254.2,305.2L243.9,319.3ZM243.9,319.3L254.2,305.2L248.2,302.0L237.6,316.5ZM341.9,230.1L347.9,224.6L345.1,220.1L338.9,225.7Z" fill="#b3b3b3" stroke="#b3b3b3" stroke-width="0.7"/>
<path d="M201.6,401.2L211.9,383.7L210.2,383.5L199.9,401.1ZM211.6,383.7L221.8,367.2L220.1,366.9L209.9,383.4ZM221.4,367.2L231.5,351.6L229.9,351.1L219.8,366.8ZM206.9,364.1L217.1,347.5L215.9,347.1L205.6,363.8ZM229.6,351.1L239.6,336.1L234.1,334.1L223.9,349.4ZM223.9,349.4L234.1,334.1L227.4,331.7L217.1,347.5ZM217.1,347.5L227.4,331.7L226.2,331.3L215.9,347.1ZM239.3,336.0L249.3,321.8L244.1,319.4L233.9,334.1ZM233.9,334.1L244.1,319.4L237.7,316.6L227.3,331.7ZM336.1,235.6L341.9,230.2L339.0,225.7L332.9,231.4Z" fill="#b4b4b4" stroke="#b4b4b4" stroke-width="0.7"/>
<path d="M186.7,400.2L196.8,381.6L195.5,381.4L185.4,400.1ZM196.8,381.6L206.9,364.1L205.7,363.8L195.5,381.4ZM219.8,366.8L229.9,351.1L224.1,349.5L214.0,365.6ZM214.0,365.6L224.1,349.5L217.1,347.5L206.9,364.1ZM330.3,241.3L336.1,235.7L333.0,231.4L327.1,237.1Z" fill="#b5b5b5" stroke="#b5b5b5" stroke-width="0.7"/>
<path d="M199.9,401.1L210.2,383.5L204.1,382.6L193.9,400.7ZM193.9,400.7L204.1,382.6L196.8,381.6L186.7,400.2ZM209.9,383.4L220.1,366.9L214.1,365.6L204.0,382.6ZM204.0,382.6L214.1,365.6L206.9,364.1L196.8,381.6ZM319.3,252.6L330.4,241.4L327.2,237.2L315.7,248.7Z" fill="#b6b6b6" stroke="#b6b6b6" stroke-width="0.7"/>
<path d="M308.6,264.2L319.4,252.8L315.9,248.9L304.8,260.5Z" fill="#b8b8b8" stroke="#b8b8b8" stroke-width="0.7"/>
<path d="M298.5,276.1L308.9,264.5L305.1,260.8L294.4,272.7Z" fill="#bababa" stroke="#bababa" stroke-width="0.7"/>
<path d="M288.7,288.3L298.9,276.4L294.8,273.0L284.4,285.1Z" fill="#bcbcbc" stroke="#bcbcbc" stroke-width="0.7"/>
<path d="M279.2,300.8L289.1,288.6L284.8,285.5L274.6,297.9Z" fill="#bdbdbd" stroke="#bdbdbd" stroke-width="0.7"/>
<path d="M269.8,313.6L279.6,301.0L275.1,298.2L265.1,311.1Z" fill="#bfbfbf" stroke="#bfbfbf" stroke-width="0.7"/>
<path d="M260.6,326.8L270.3,313.8L265.5,311.3L255.7,324.6Z" fill="#c1c1c1" stroke="#c1c1c1" stroke-width="0.7"/>
<path d="M251.3,340.4L261.0,326.9L256.1,324.7L246.2,338.6Z" fill="#c3c3c3" stroke="#c3c3c3" stroke-width="0.7"/>
<path d="M241.9,354.6L251.7,340.5L246.6,338.7L236.7,353.1Z" fill="#c4c4c4" stroke="#c4c4c4" stroke-width="0.7"/>
<path d="M232.3,369.5L242.3,354.7L237.1,353.2L227.1,368.4Z" fill="#c6c6c6" stroke="#c6c6c6" stroke-width="0.7"/>
<path d="M212.5,402.0L222.9,385.3L217.7,384.5L207.4,401.6ZM222.6,385.2L232.7,369.6L227.5,368.5L217.3,384.5Z" fill="#c8c8c8" stroke="#c8c8c8" stroke-width="0.7"/>
</g>
<path d="M216.2,384.3 L219.2,379.2 L222.2,374.2 L225.2,369.3 L228.2,364.4 L231.2,359.7 L234.2,355.0 L237.1,350.3 L240.1,345.8 L243.0,341.3 L245.9,336.9 L248.9,332.5 L251.8,328.1 L254.7,323.9 L257.7,319.6 L260.6,315.4 L263.5,311.3 L266.5,307.1 L269.5,303.1 L272.4,299.0 L275.4,295.0 L278.4,291.0 L281.5,287.1 L284.5,283.1 L287.6,279.2 L290.7,275.4 L293.9,271.5 L297.1,267.7 L300.3,263.9 L303.6,260.2 L306.9,256.4 L310.2,252.7 L313.6,249.0 L317.1,245.4 L320.6,241.8 L324.1,238.2 L327.7,234.6 L331.3,231.0 L335.0,227.5 L338.8,224.0 L342.6,220.5 L346.4,217.0 L350.3,213.5 L354.3,210.0 L358.4,206.6 L362.4,203.2 L366.6,199.7 L370.8,196.3 L375.1,192.9 L379.5,189.6 L384.0,186.2 L388.5,182.8 L393.1,179.5 L397.8,176.2 L402.6,172.8 L407.4,169.5 L412.4,166.2 L417.5,163.0 L422.6,159.8 L427.9,156.6 L433.3,153.5 L438.8,150.5 L444.4,147.5 L450.1,144.6 L455.9,141.9 L461.8,139.2 L467.9,136.7 L474.0,134.3 L480.3,132.1 L486.6,130.0 L493.1,128.1 L499.6,126.4 L506.2,124.8 L512.9,123.5 L519.6,122.4 L526.4,121.4 L533.2,120.8 L540.1,120.3 L547.0,120.1 L553.9,120.2 L560.9,120.5 L567.8,121.0 L574.7,121.8 L581.6,122.9 L588.4,124.2 L595.2,125.8 L601.9,127.7 L608.6,129.8 L615.1,132.2 L621.6,134.9" fill="none" stroke="#2e2e2e" stroke-width="1.2" opacity="0.85"/>
<ellipse cx="232.0" cy="349.4" rx="4.6" ry="3.5" transform="rotate(-52 232.0 349.4)" fill="#787878"/>
<ellipse cx="276.5" cy="286.6" rx="4.6" ry="3.5" transform="rotate(-45 276.5 286.6)" fill="#787878"/>
<ellipse cx="327.4" cy="231.8" rx="4.6" ry="3.5" transform="rotate(-38 327.4 231.8)" fill="#787878"/>
<circle cx="649.4" cy="258.8" r="1.3" fill="#e8e8e8" stroke="#888" stroke-width="0.5"/>
<circle cx="663.2" cy="358.4" r="1.3" fill="#c4c4c4" stroke="#555" stroke-width="0.5"/>
<circle cx="700.8" cy="406.2" r="1.3" fill="#cfcfcf" stroke="#999" stroke-width="0.5"/>
<circle cx="639.4" cy="475.4" r="1.3" fill="#a8a8a8" stroke="#444" stroke-width="0.5"/>
</g>
<path d="M209.7,353.2 L213.1,347.7 L216.5,342.3 L220.0,337.0 L223.4,331.7 L226.9,326.6 L230.4,321.5 L233.8,316.4 L237.3,311.5 L240.9,306.6 L244.4,301.8 L248.0,297.0 L251.6,292.3 L255.2,287.6 L258.8,283.0 L262.5,278.5 L266.2,274.0 L270.0,269.5 L273.7,265.1 L277.5,260.7 L281.4,256.4 L285.3,252.1 L289.2,247.8 L293.1,243.6 L297.1,239.4 L301.2,235.3 L305.3,231.1 L309.4,227.0 L313.6,222.9 L317.8,218.9 L322.1,214.8 L326.5,210.8 L330.9,206.8 L335.3,202.8 L339.9,198.8 L344.5,194.9 L349.2,191.0 L353.9,187.0 L358.7,183.1 L363.7,179.3 L368.7,175.4 L373.8,171.6 L379.0,167.8 L384.3,164.1 L389.7,160.4 L395.2,156.8 L400.8,153.2 L406.6,149.8 L412.4,146.4 L418.4,143.1 L424.5,139.9 L430.7,136.8 L437.0,133.8 L443.5,131.0 L450.0,128.2 L456.7,125.7 L463.5,123.2 L470.3,121.0 L477.3,118.9 L484.4,117.1 L491.6,115.4 L498.8,114.0 L506.1,112.8 L513.5,111.8 L520.9,111.1 L528.4,110.7 L535.9,110.6 L543.3,110.8 L550.8,111.3 L558.3,112.1 L565.7,113.2 L573.1,114.6 L580.4,116.4 L587.6,118.5 L594.8,120.9 L601.8,123.5 L608.7,126.5 L615.5,129.8 L622.1,133.3 L628.6,137.2 L634.9,141.3 L641.0,145.6 L647.0,150.2 L652.7,155.0 L658.2,160.1 L663.6,165.4 L668.6,170.9 L673.5,176.6 L678.1,182.5 L682.5,188.6 L686.6,194.8 L690.4,201.2 L694.0,207.7 L697.3,214.4 L700.4,221.1 L703.2,227.9 L705.8,234.8 L708.1,241.7 L710.2,248.7 L712.0,255.7 L713.7,262.7 L715.1,269.8 L716.3,276.8 L717.3,283.7 L718.1,290.7 L718.7,297.6 L719.2,304.5 L719.4,311.3 L719.6,318.1 L719.6,324.7 L719.5,331.3 L719.3,337.9 L718.9,344.3 L718.5,350.7 L718.0,357.0 L717.3,363.2 L716.6,369.4 L715.8,375.5 L715.0,381.5 L714.0,387.4 L713.0,393.2 L712.0,399.0 L710.8,404.7 L709.6,410.4 L708.4,415.9 L707.1,421.5 L705.8,426.9 L704.4,432.3 L702.9,437.7 L701.5,443.0 L699.9,448.2 L698.4,453.4 L696.8,458.6 L695.2,463.7 L693.6,468.8 L691.9,473.8 L690.2,478.8 L688.4,483.8 L686.7,488.8 L684.9,493.8 L683.1,498.7 L681.2,503.6 L679.4,508.6 L677.5,513.5 L675.5,518.4 L673.6,523.3 L671.6,528.3 L669.6,533.2 L667.5,538.2 L665.4,543.1 L663.2,548.1 L661.0,553.2 L658.8,558.2 L656.5,563.3 L654.2,568.4 L651.8,573.5 L649.3,578.7 L646.8,584.0 L644.2,589.2 L641.5,594.5" fill="none" stroke="#262626" stroke-width="0.9" opacity="0.85"/>
<path d="M255.8,379.0 L259.2,374.4 L262.5,369.8 L265.8,365.4 L269.1,361.0 L272.3,356.8 L275.4,352.6 L278.6,348.4 L281.7,344.4 L284.7,340.4 L287.8,336.4 L290.8,332.5 L293.8,328.7 L296.8,324.9 L299.8,321.1 L302.8,317.4 L305.8,313.7 L308.8,310.1 L311.8,306.5 L314.9,302.9 L317.9,299.3 L321.0,295.8 L324.1,292.3 L327.2,288.8 L330.3,285.3 L333.5,281.9 L336.6,278.5 L339.9,275.1 L343.2,271.7 L346.5,268.3 L349.8,265.0 L353.2,261.6 L356.7,258.3 L360.2,255.0 L363.8,251.7 L367.4,248.5 L371.1,245.2 L374.9,242.0 L378.7,238.8 L382.6,235.6 L386.5,232.4 L390.6,229.2 L394.7,226.1 L398.9,222.9 L403.2,219.9 L407.6,216.8 L412.0,213.8 L416.6,210.9 L421.3,208.0 L426.0,205.1 L430.9,202.3 L435.9,199.6 L440.9,197.0 L446.1,194.4 L451.4,191.9 L456.8,189.5 L462.2,187.2 L467.8,185.1 L473.5,183.0 L479.3,181.1 L485.2,179.4 L491.1,177.8 L497.2,176.4 L503.3,175.3 L509.5,174.3 L515.7,173.6 L521.9,173.2 L528.2,173.0 L534.5,173.1 L540.8,173.4 L547.1,174.1 L553.3,175.1 L559.5,176.4 L565.6,177.9 L571.6,179.8 L577.5,182.0 L583.2,184.5 L588.9,187.3 L594.4,190.3 L599.7,193.7 L604.8,197.4 L609.7,201.4 L614.4,205.6 L618.8,210.1 L623.0,214.8 L627.0,219.8 L630.7,224.9 L634.2,230.2 L637.4,235.6 L640.4,241.1 L643.2,246.8 L645.7,252.5 L648.1,258.2 L650.2,264.1 L652.1,269.9 L653.8,275.8 L655.3,281.7 L656.6,287.6 L657.7,293.5 L658.6,299.4 L659.4,305.2 L660.0,311.0 L660.5,316.8 L660.8,322.5 L660.9,328.1 L661.0,333.7 L660.9,339.2 L660.8,344.6 L660.6,350.0 L660.3,355.2 L659.9,360.4 L659.5,365.5 L659.0,370.6 L658.5,375.5 L657.9,380.4 L657.4,385.2 L656.7,390.0 L656.0,394.6 L655.3,399.3 L654.6,403.8 L653.8,408.4 L653.0,412.8 L652.1,417.2 L651.2,421.6 L650.2,426.0 L649.3,430.3 L648.2,434.5 L647.2,438.7 L646.0,442.9 L644.9,447.0 L643.7,451.2 L642.4,455.2 L641.1,459.3 L639.8,463.3 L638.4,467.3 L636.9,471.2 L635.4,475.2 L633.8,479.1 L632.3,483.0 L630.6,486.8 L629.0,490.7 L627.3,494.5 L625.6,498.3 L623.8,502.1 L622.1,506.0 L620.3,509.8 L618.5,513.7 L616.7,517.5 L614.8,521.4 L613.0,525.3 L611.1,529.3 L609.2,533.3 L607.3,537.3 L605.3,541.4 L603.4,545.6 L601.4,549.8 L599.3,554.1 L597.3,558.5 L595.2,562.9 L593.0,567.5" fill="none" stroke="#262626" stroke-width="0.9" opacity="0.85"/>
<path d="M437.5,210.8 L439.2,240" stroke="#767676" stroke-width="0.9" fill="none"/><path d="M439.2,240 L453.6,494.7" stroke="#6c6c6c" stroke-width="2.3" fill="none"/><path d="M439.2,240 L453.6,494.7" stroke="#a4a4a4" stroke-width="0.7" fill="none"/><path d="M454,499 L455.2,515" stroke="#666" stroke-width="0.9" fill="none"/><ellipse cx="453.8" cy="495.3" rx="2.6" ry="1.3" fill="#999" stroke="#555" stroke-width="0.4"/><path d="M512.7,183.8 L501.5,208.2" stroke="#767676" stroke-width="0.9" fill="none"/><path d="M501.5,208.2 L386.8,457.8" stroke="#6c6c6c" stroke-width="2.3" fill="none"/><path d="M501.5,208.2 L386.8,457.8" stroke="#a4a4a4" stroke-width="0.7" fill="none"/><path d="M385.3,461.5 L381.5,469.5" stroke="#666" stroke-width="0.9" fill="none"/><ellipse cx="386.5" cy="458.6" rx="2.6" ry="1.3" fill="#999" stroke="#555" stroke-width="0.4" transform="rotate(25 386.5 458.6)"/><g transform="translate(422.0 383.0) rotate(25)"><ellipse cx="0" cy="-0.9" rx="4" ry="1.2" fill="#fff" stroke="#333" stroke-width="0.6"/><ellipse cx="0" cy="0.9" rx="4" ry="1.2" fill="#fff" stroke="#333" stroke-width="0.6"/></g><g transform="translate(448.3 395.5) rotate(3)"><ellipse cx="0" cy="-0.9" rx="4" ry="1.2" fill="#fff" stroke="#333" stroke-width="0.6"/><ellipse cx="0" cy="0.9" rx="4" ry="1.2" fill="#fff" stroke="#333" stroke-width="0.6"/></g><path d="M586.3,20.3 L541,119" stroke="#5a5a5a" stroke-width="1" fill="none"/><path d="M545.3,110.6 L540.9,120" stroke="#333" stroke-width="2.6" fill="none"/><path d="M545.3,110.6 L540.9,120" stroke="#e4e4e4" stroke-width="1.3" fill="none"/><path d="M432.4,99 L435.6,149" stroke="#5a5a5a" stroke-width="1" fill="none"/><path d="M434.7,136 L435.7,151" stroke="#444" stroke-width="2.8" fill="none"/><path d="M434.7,136 L435.7,151" stroke="#cfcfcf" stroke-width="1.5" fill="none"/><ellipse cx="435.6" cy="151.2" rx="3.2" ry="1.5" fill="#9a9a9a"/><g transform="translate(589.8 11.6) rotate(25)"><rect x="-3.6" y="-8" width="7.2" height="6" rx="1" fill="#8a8a8a" stroke="#444" stroke-width="0.5"/><rect x="-2.6" y="-2" width="5.2" height="9.5" rx="1" fill="url(#gv)" stroke="#444" stroke-width="0.5"/><ellipse cx="0" cy="-8" rx="3.4" ry="1.3" fill="#4a4a4a" stroke="#333" stroke-width="0.4"/></g><g transform="translate(430.8 87.6) rotate(-4)"><rect x="-3.6" y="-8" width="7.2" height="6" rx="1" fill="#8a8a8a" stroke="#444" stroke-width="0.5"/><rect x="-2.6" y="-2" width="5.2" height="9.5" rx="1" fill="url(#gv)" stroke="#444" stroke-width="0.5"/><ellipse cx="0" cy="-8" rx="3.4" ry="1.3" fill="#4a4a4a" stroke="#333" stroke-width="0.4"/></g>
<rect x="347.3" y="150" width="6.6" height="130" fill="#fff"/>
<path d="M369.00,8.50 L350.50,8.50 L350.50,362.50 L369.00,362.50" fill="none" stroke="#1a1a1a" stroke-width="1.15" />
<path d="M390.00,8.50 L584.20,8.50" fill="none" stroke="#1a1a1a" stroke-width="1.15" />
<path d="M350.50,89.75 L369.00,89.75" fill="none" stroke="#1a1a1a" stroke-width="1.15" />
<path d="M390.00,89.75 L425.50,89.75" fill="none" stroke="#1a1a1a" stroke-width="1.15" />
<path d="M335.50,147.75 L350.50,147.75" fill="none" stroke="#1a1a1a" stroke-width="1.15" />
<path d="M350.50,292.00 L369.00,292.00" fill="none" stroke="#444" stroke-width="1.15" />
<path d="M390.00,292.00 L437.00,292.00" fill="none" stroke="#444" stroke-width="1.15" />
<path d="M390.00,362.50 L425.60,362.50" fill="none" stroke="#1a1a1a" stroke-width="1.15" />
<path d="M267.50,238.00 L278.75,251.50" fill="none" stroke="#1a1a1a" stroke-width="1.15" />
<path d="M199.50,427.00 L104.50,480.75 L497.00,703.25 L578.75,653.75" fill="none" stroke="#1a1a1a" stroke-width="1.15" />
<path d="M272.50,480.00 L188.75,528.25" fill="none" stroke="#1a1a1a" stroke-width="1.15" />
<path d="M309.50,497.50 L222.50,547.50" fill="none" stroke="#1a1a1a" stroke-width="1.15" />
<path d="M476.25,592.00 L388.75,642.00" fill="none" stroke="#1a1a1a" stroke-width="1.15" />
<path d="M508.00,615.00 L425.00,662.50" fill="none" stroke="#1a1a1a" stroke-width="1.15" />
<path d="M292.50,597.25 L298.75,593.00" fill="none" stroke="#1a1a1a" stroke-width="1.15" />
<path d="M552.00,630.75 L497.00,662.00 L565.00,701.25 L621.25,670.00" fill="none" stroke="#1a1a1a" stroke-width="1.15" />
<path d="M221.25,658.00 L163.00,690.50 L297.50,764.00 L342.50,739.00" fill="none" stroke="#1a1a1a" stroke-width="1.15" />
<path d="M302.00,710.25 L252.00,739.00" fill="none" stroke="#1a1a1a" stroke-width="1.15" />
<path d="M325.00,722.25 L274.50,751.00" fill="none" stroke="#1a1a1a" stroke-width="1.15" />
<path d="M218.75,731.00 L225.00,726.00" fill="none" stroke="#1a1a1a" stroke-width="1.15" />
<path d="M834.80,30.00 L834.80,48.75" fill="none" stroke="#1a1a1a" stroke-width="1.15" />
<path d="M834.80,133.00 L834.80,145.00" fill="none" stroke="#1a1a1a" stroke-width="1.15" />
<path d="M834.80,257.00 L834.80,268.00" fill="none" stroke="#1a1a1a" stroke-width="1.15" />
<path d="M834.80,449.00 L834.80,461.50" fill="none" stroke="#1a1a1a" stroke-width="1.15" />
<rect x="770.6" y="145.1" width="128.8" height="68.2" fill="none" stroke="#1a1a1a" stroke-width="1.2"/>
<rect x="799.8" y="268.2" width="70.9" height="137.4" fill="none" stroke="#1a1a1a" stroke-width="1.2"/>
<rect x="734.7" y="461.5" width="201" height="148.5" fill="none" stroke="#1a1a1a" stroke-width="1.2"/>

<defs>
<linearGradient id="gc" x1="0" y1="0" x2="0" y2="1">
 <stop offset="0" stop-color="#727272"/><stop offset="0.22" stop-color="#9c9c9c"/><stop offset="0.5" stop-color="#888"/>
 <stop offset="0.85" stop-color="#686868"/><stop offset="1" stop-color="#525252"/>
</linearGradient>
<linearGradient id="gc2" x1="0" y1="0" x2="0" y2="1">
 <stop offset="0" stop-color="#6a6a6a"/><stop offset="0.25" stop-color="#9c9c9c"/><stop offset="0.55" stop-color="#868686"/>
 <stop offset="1" stop-color="#5a5a5a"/>
</linearGradient>
<linearGradient id="gf" x1="0" y1="0" x2="1" y2="1">
 <stop offset="0" stop-color="#9a9a9a"/><stop offset="0.5" stop-color="#7e7e7e"/><stop offset="1" stop-color="#686868"/>
</linearGradient>
<linearGradient id="gin" x1="0" y1="0" x2="0" y2="1">
 <stop offset="0" stop-color="#585858"/><stop offset="0.5" stop-color="#7a7a7a"/><stop offset="1" stop-color="#a0a0a0"/>
</linearGradient>
<linearGradient id="gv" x1="0" y1="0" x2="1" y2="0">
 <stop offset="0" stop-color="#8a8a8a"/><stop offset="0.3" stop-color="#a8a8a8"/><stop offset="1" stop-color="#666"/>
</linearGradient>
<linearGradient id="gbell" x1="0" y1="0" x2="0.35" y2="1">
 <stop offset="0" stop-color="#8a8a8a"/><stop offset="0.3" stop-color="#a2a2a2"/><stop offset="0.65" stop-color="#868686"/><stop offset="1" stop-color="#626262"/>
</linearGradient>
<linearGradient id="ghol" x1="0.1" y1="0" x2="0.9" y2="1">
 <stop offset="0" stop-color="#5e5e5e"/><stop offset="0.25" stop-color="#8c8c8c"/><stop offset="0.6" stop-color="#a8a8a8"/><stop offset="1" stop-color="#c2c2c2"/>
</linearGradient>
<linearGradient id="gc3" x1="0" y1="0" x2="0" y2="1">
 <stop offset="0" stop-color="#7e7e7e"/><stop offset="0.22" stop-color="#aaa"/><stop offset="0.5" stop-color="#939393"/>
 <stop offset="0.85" stop-color="#727272"/><stop offset="1" stop-color="#5c5c5c"/>
</linearGradient>
</defs>
<path d="M261.0,443.0 L274.0,450.2" stroke="#555" stroke-width="0.9" fill="none"/><path d="M285.0,456.6 L309.5,470.5" stroke="#555" stroke-width="0.9" fill="none"/><g transform="translate(158.60 386.40) rotate(28.90)"><path d="M2.50,-13.50 A7.83,13.50 0 0 0 2.50,13.50 L12.00,13.50 A7.83,13.50 0 0 0 12.00,-13.50 Z" fill="url(#gc)" stroke="#303030" stroke-width="0.80" stroke-linejoin="round"/><path d="M16.60,-21.50 A12.47,21.50 0 0 0 16.60,21.50 L18.80,21.50 A12.47,21.50 0 0 0 18.80,-21.50 Z" fill="#a0a0a0" stroke="#303030" stroke-width="0.80" stroke-linejoin="round"/><ellipse cx="18.80" cy="0.00" rx="12.47" ry="21.50" fill="url(#gf)" stroke="#303030" stroke-width="0.50" /><path d="M19.50,-14.60 A8.47,14.60 0 0 0 19.50,14.60 L29.00,14.60 A8.47,14.60 0 0 0 29.00,-14.60 Z" fill="url(#gc)"/><path d="M29.00,-14.60 A8.47,14.60 0 0 0 29.00,14.60 L38.00,11.30 A6.55,11.30 0 0 0 38.00,-11.30 Z" fill="url(#gc)"/><path d="M23.0,-14.2 A8.2,14.2 0 0 1 23.0,14.2" stroke="#a8a8a8" stroke-width="0.8" fill="none" opacity="0.7"/><path d="M24.0,-14.2 A8.2,14.2 0 0 1 24.0,14.2" stroke="#5c5c5c" stroke-width="0.5" fill="none" opacity="0.7"/><path d="M26.5,-14.2 A8.2,14.2 0 0 1 26.5,14.2" stroke="#a8a8a8" stroke-width="0.8" fill="none" opacity="0.7"/><path d="M27.5,-14.2 A8.2,14.2 0 0 1 27.5,14.2" stroke="#5c5c5c" stroke-width="0.5" fill="none" opacity="0.7"/><path d="M30.0,-14.2 A8.2,14.2 0 0 1 30.0,14.2" stroke="#a8a8a8" stroke-width="0.8" fill="none" opacity="0.7"/><path d="M31.0,-14.2 A8.2,14.2 0 0 1 31.0,14.2" stroke="#5c5c5c" stroke-width="0.5" fill="none" opacity="0.7"/><path d="M37.00,-11.30 A6.55,11.30 0 0 0 37.00,11.30 L92.00,11.30 A6.55,11.30 0 0 0 92.00,-11.30 Z" fill="url(#gc)"/><path d="M90.00,-11.80 A6.84,11.80 0 0 0 90.00,11.80 L118.40,11.80 A6.84,11.80 0 0 0 118.40,-11.80 Z" fill="url(#gc)"/><path d="M92,-11.5 A6.7,11.6 0 0 1 92,11.5" stroke="#5e5e5e" stroke-width="0.5" fill="none" opacity="0.7"/><ellipse cx="118.40" cy="0.00" rx="6.84" ry="11.80" fill="#929292" stroke="#303030" stroke-width="0.70" /><ellipse cx="118.90" cy="0.00" rx="4.76" ry="8.20" fill="url(#gin)" stroke="#5a5a5a" stroke-width="0.50" /><path d="M19.5,-14.6 L29,-14.6 L38,-11.3 L90,-11.3 L92,-11.8 L118.4,-11.8" stroke="#2a2a2a" stroke-width="0.8" fill="none"/><path d="M19.5,14.6 L29,14.6 L38,11.3 L90,11.3 L92,11.8 L118.4,11.8" stroke="#222" stroke-width="1" fill="none"/></g><g transform="translate(289.10 459.10) rotate(29.50)"><ellipse cx="-1.60" cy="0.00" rx="13.11" ry="22.60" fill="#666" stroke="#303030" stroke-width="0.60" /><ellipse cx="0.00" cy="0.00" rx="13.11" ry="22.60" fill="url(#gf)" stroke="#303030" stroke-width="0.50" /><ellipse cx="0.10" cy="0.00" rx="9.86" ry="17.00" fill="#6c6c6c" /><ellipse cx="-0.40" cy="0.00" rx="8.93" ry="15.40" fill="#a2a2a2" /><ellipse cx="0.50" cy="0.00" rx="8.58" ry="14.80" fill="#fff" stroke="#4a4a4a" stroke-width="0.70" /></g><path d="M285.0,456.4 L296.0,462.6" stroke="#555" stroke-width="0.9" fill="none"/><g transform="translate(324.90 478.75) rotate(29.50)"><path d="M-5.00,-17.00 A9.86,17.00 0 0 0 -5.00,17.00 L4.00,16.50 A9.57,16.50 0 0 0 4.00,-16.50 Z" fill="url(#gc3)" stroke="#303030" stroke-width="0.60" stroke-linejoin="round"/><circle cx="-2.97" cy="14.40" r="2.1" fill="#b8b8b8" stroke="#6a6a6a" stroke-width="0.4"/><circle cx="-6.12" cy="11.98" r="2.1" fill="#b8b8b8" stroke="#6a6a6a" stroke-width="0.4"/><circle cx="-8.43" cy="7.31" r="2.1" fill="#b8b8b8" stroke="#6a6a6a" stroke-width="0.4"/><circle cx="-9.46" cy="1.27" r="2.1" fill="#b8b8b8" stroke="#6a6a6a" stroke-width="0.4"/><circle cx="-9.01" cy="-5.00" r="2.1" fill="#b8b8b8" stroke="#6a6a6a" stroke-width="0.4"/><circle cx="-7.18" cy="-10.34" r="2.1" fill="#b8b8b8" stroke="#6a6a6a" stroke-width="0.4"/><circle cx="-4.30" cy="-13.74" r="2.1" fill="#b8b8b8" stroke="#6a6a6a" stroke-width="0.4"/><ellipse cx="4.00" cy="0.00" rx="9.57" ry="16.50" fill="#858585" stroke="#303030" stroke-width="0.50" /><ellipse cx="4.00" cy="0.00" rx="7.42" ry="12.80" fill="#6e6e6e" /><ellipse cx="3.20" cy="0.00" rx="6.15" ry="10.60" fill="#fff" stroke="#555" stroke-width="0.60" /></g><path d="M322.0,477.0 L334.5,484.0" stroke="#555" stroke-width="0.9" fill="none"/><g transform="translate(366.40 503.30) rotate(29.00)"><path d="M18.00,-20.00 A11.60,20.00 0 0 0 18.00,20.00 L90.00,20.00 A11.60,20.00 0 0 0 90.00,-20.00 Z" fill="url(#gc)"/><path d="M-3.50,-36.00 A20.88,36.00 0 0 0 -3.50,36.00 L1.50,36.00 A20.88,36.00 0 0 0 1.50,-36.00 Z" fill="#8e8e8e" stroke="#303030" stroke-width="0.60" stroke-linejoin="round"/><ellipse cx="1.50" cy="0.00" rx="20.88" ry="36.00" fill="#8c8c8c" stroke="#303030" stroke-width="0.50" /><ellipse cx="2.00" cy="0.00" rx="19.72" ry="34.00" fill="url(#gbell)" /><path d="M3,-33.4 C12,-32 15,-21 31,-20 L31,20 C18,20.6 12,30 4.5,33.4 A19,33.4 0 0 0 3,-33.4Z" fill="url(#gbell)"/><path d="M3,-33.4 C12,-32 15,-21 31,-20" stroke="#2e2e2e" stroke-width="0.8" fill="none"/><path d="M4.5,33.4 C12,30 18,20.6 31,20" stroke="#2a2a2a" stroke-width="0.9" fill="none"/><rect x="-13.8" y="-17.2" width="10.0" height="16.0" rx="2.4" fill="#858585" stroke="#666" stroke-width="0.5" transform="rotate(14 -8.8 -9.2)"/><rect x="-13.9" y="4.8" width="10.0" height="15.0" rx="2.4" fill="#6c6c6c" stroke="#585858" stroke-width="0.5" transform="rotate(0 -8.9 12.3)"/><rect x="-5.3" y="21.1" width="9.0" height="9.0" rx="2.4" fill="#4c4c4c" stroke="#4c4c4c" stroke-width="0.5" transform="rotate(-20 -0.8 25.6)"/><rect x="-20.6" y="1.5" width="2.0" height="6.0" rx="2.4" fill="#666" stroke="#666" stroke-width="0.5" transform="rotate(0 -19.6 4.5)"/><rect x="-10.4" y="6.5" width="3" height="11.6" fill="#8a8a8a"/><ellipse cx="-4" cy="26.7" rx="1.5" ry="1.9" fill="#fff"/><ellipse cx="-15.8" cy="23" rx="1" ry="2.2" fill="#e0e0e0"/><rect x="-2" y="-33.5" width="3.6" height="9.5" rx="0.8" fill="#b2b2b2"/><path d="M-1.6,-24.5 L4.5,-26.5 L6.5,-21.5 L2,-19.5Z" fill="#545454"/><path d="M31,-20 L88,-20" stroke="#2e2e2e" stroke-width="0.8" fill="none"/><path d="M31,20 L86,20" stroke="#2a2a2a" stroke-width="1" fill="none"/><ellipse cx="87.00" cy="0.00" rx="14.79" ry="25.50" fill="#2e2e2e" /><path d="M89.50,-36.00 A20.88,36.00 0 0 0 89.50,36.00 L96.50,36.00 A20.88,36.00 0 0 0 96.50,-36.00 Z" fill="url(#gc2)" stroke="#303030" stroke-width="0.80" stroke-linejoin="round"/><ellipse cx="96.50" cy="0.00" rx="20.88" ry="36.00" fill="#8e8e8e" stroke="#303030" stroke-width="0.60" /><ellipse cx="96.80" cy="0.00" rx="19.49" ry="33.60" fill="none" stroke="#b4b4b4" stroke-width="0.70" /><ellipse cx="97.00" cy="0.00" rx="17.69" ry="30.50" fill="#7c7c7c" stroke="#5a5a5a" stroke-width="0.40" /><ellipse cx="97.50" cy="0.00" rx="16.12" ry="27.80" fill="url(#ghol)" stroke="#4c4c4c" stroke-width="0.60" /><ellipse cx="98.80" cy="0.00" rx="13.34" ry="23.00" fill="#9c9c9c" stroke="#6e6e6e" stroke-width="0.60" /><ellipse cx="99.80" cy="0.00" rx="10.73" ry="18.50" fill="#aaa" stroke="#777" stroke-width="0.60" /><ellipse cx="100.40" cy="0.00" rx="8.12" ry="14.00" fill="#b6b6b6" stroke="#808080" stroke-width="0.60" /><rect x="104.01" y="-30.45" width="3" height="4.4" rx="0.8" fill="#b4b4b4" stroke="#666" stroke-width="0.4" transform="rotate(-62 105.51 -28.25)"/><rect x="112.95" y="-12.09" width="3" height="4.4" rx="0.8" fill="#b4b4b4" stroke="#666" stroke-width="0.4" transform="rotate(-18 114.45 -9.89)"/><rect x="111.69" y="12.82" width="3" height="4.4" rx="0.8" fill="#b4b4b4" stroke="#666" stroke-width="0.4" transform="rotate(28 113.19 15.02)"/><rect x="100.10" y="28.71" width="3" height="4.4" rx="0.8" fill="#b4b4b4" stroke="#666" stroke-width="0.4" transform="rotate(75 101.60 30.91)"/><rect x="86.59" y="26.05" width="3" height="4.4" rx="0.8" fill="#b4b4b4" stroke="#666" stroke-width="0.4" transform="rotate(118 88.09 28.25)"/><rect x="77.37" y="6.08" width="3" height="4.4" rx="0.8" fill="#b4b4b4" stroke="#666" stroke-width="0.4" transform="rotate(165 78.87 8.28)"/><rect x="78.91" y="-17.22" width="3" height="4.4" rx="0.8" fill="#b4b4b4" stroke="#666" stroke-width="0.4" transform="rotate(208 80.41 -15.02)"/><rect x="90.50" y="-33.11" width="3" height="4.4" rx="0.8" fill="#b4b4b4" stroke="#666" stroke-width="0.4" transform="rotate(255 92.00 -30.91)"/></g><path d="M441.0,545.2 L474.5,564.0" stroke="#505050" stroke-width="2.1" fill="none"/><path d="M441.0,545.2 L474.5,564.0" stroke="#fafafa" stroke-width="0.85" fill="none"/><g transform="translate(490.40 573.90) rotate(29.50)"><path d="M-4.00,-16.50 A9.57,16.50 0 0 0 -4.00,16.50 L4.00,17.00 A9.86,17.00 0 0 0 4.00,-17.00 Z" fill="url(#gc3)" stroke="#303030" stroke-width="0.60" stroke-linejoin="round"/><ellipse cx="4.00" cy="0.00" rx="9.86" ry="17.00" fill="#8a8a8a" stroke="#303030" stroke-width="0.50" /><ellipse cx="3.50" cy="0.00" rx="8.00" ry="13.80" fill="#747474" /><circle cx="5.00" cy="-13.73" r="2.1" fill="#c0c0c0" stroke="#6a6a6a" stroke-width="0.4"/><circle cx="8.24" cy="-11.42" r="2.1" fill="#c0c0c0" stroke="#6a6a6a" stroke-width="0.4"/><circle cx="10.60" cy="-6.97" r="2.1" fill="#c0c0c0" stroke="#6a6a6a" stroke-width="0.4"/><circle cx="11.65" cy="-1.21" r="2.1" fill="#c0c0c0" stroke="#6a6a6a" stroke-width="0.4"/><circle cx="11.20" cy="4.77" r="2.1" fill="#c0c0c0" stroke="#6a6a6a" stroke-width="0.4"/><circle cx="9.32" cy="9.86" r="2.1" fill="#c0c0c0" stroke="#6a6a6a" stroke-width="0.4"/><circle cx="6.37" cy="13.10" r="2.1" fill="#c0c0c0" stroke="#6a6a6a" stroke-width="0.4"/><circle cx="2.90" cy="13.89" r="2.1" fill="#c0c0c0" stroke="#6a6a6a" stroke-width="0.4"/><ellipse cx="1.00" cy="0.00" rx="6.03" ry="10.40" fill="#fff" stroke="#555" stroke-width="0.60" /></g><path d="M488.0,570.8 L510.5,583.3" stroke="#505050" stroke-width="2.1" fill="none"/><path d="M488.0,570.8 L510.5,583.3" stroke="#fafafa" stroke-width="0.85" fill="none"/><g transform="translate(525.60 593.30) rotate(29.50)"><ellipse cx="-1.60" cy="0.00" rx="12.41" ry="21.40" fill="#666" stroke="#303030" stroke-width="0.60" /><ellipse cx="0.00" cy="0.00" rx="12.41" ry="21.40" fill="url(#gf)" stroke="#303030" stroke-width="0.50" /><ellipse cx="1.40" cy="0.00" rx="9.05" ry="15.60" fill="#6c6c6c" /><ellipse cx="0.90" cy="0.00" rx="8.12" ry="14.00" fill="#a2a2a2" /><ellipse cx="1.80" cy="0.00" rx="7.77" ry="13.40" fill="#fff" stroke="#4a4a4a" stroke-width="0.70" /></g><path d="M523.0,592.0 L550.0,607.3" stroke="#555" stroke-width="0.9" fill="none"/><g transform="translate(564.00 615.30) rotate(29.50)"><path d="M-4.50,-13.50 A7.83,13.50 0 0 0 -4.50,13.50 L4.00,12.80 A7.42,12.80 0 0 0 4.00,-12.80 Z" fill="url(#gc3)" stroke="#303030" stroke-width="0.60" stroke-linejoin="round"/><ellipse cx="4.00" cy="0.00" rx="7.42" ry="12.80" fill="#909090" stroke="#303030" stroke-width="0.50" /><ellipse cx="3.60" cy="0.00" rx="6.15" ry="10.60" fill="#6c6c6c" /><ellipse cx="2.60" cy="0.00" rx="5.22" ry="9.00" fill="#fff" stroke="#555" stroke-width="0.60" /></g><path d="M564.0,613.8 L578.5,622.0" stroke="#505050" stroke-width="2.1" fill="none"/><path d="M564.0,613.8 L578.5,622.0" stroke="#fafafa" stroke-width="0.85" fill="none"/><g transform="translate(593.00 632.20) rotate(29.50)"><path d="M-3.50,-20.30 A11.77,20.30 0 0 0 -3.50,20.30 L0.00,20.30 A11.77,20.30 0 0 0 0.00,-20.30 Z" fill="url(#gc3)" stroke="#303030" stroke-width="0.60" stroke-linejoin="round"/><ellipse cx="0.00" cy="0.00" rx="11.77" ry="20.30" fill="#8a8a8a" stroke="#303030" stroke-width="0.50" /><path d="M0.00,-17.00 A9.86,17.00 0 0 0 0.00,17.00 L10.50,17.00 A9.86,17.00 0 0 0 10.50,-17.00 Z" fill="url(#gc3)" stroke="#303030" stroke-width="0.60" stroke-linejoin="round"/><ellipse cx="10.50" cy="0.00" rx="9.86" ry="17.00" fill="#929292" stroke="#303030" stroke-width="0.50" /><ellipse cx="10.20" cy="0.00" rx="8.24" ry="14.20" fill="#6e6e6e" /><ellipse cx="8.50" cy="0.00" rx="6.96" ry="12.00" fill="#fff" stroke="#555" stroke-width="0.60" /></g><path d="M598.5,634.6 L617.5,645.2" stroke="#505050" stroke-width="2.1" fill="none"/><path d="M598.5,634.6 L617.5,645.2" stroke="#fafafa" stroke-width="0.85" fill="none"/><g transform="translate(633.00 655.00) rotate(29.50)"><path d="M-8.00,-12.60 A7.31,12.60 0 0 0 -8.00,12.60 L2.00,12.60 A7.31,12.60 0 0 0 2.00,-12.60 Z" fill="url(#gc3)" stroke="#303030" stroke-width="0.60" stroke-linejoin="round"/><path d="M-4,-12.6 A7.3,12.6 0 0 0 -4,12.6" stroke="#5a5a5a" stroke-width="0.5" fill="none"/><path d="M2.00,-12.60 A7.31,12.60 0 0 0 2.00,12.60 L7.00,11.80 A6.84,11.80 0 0 0 7.00,-11.80 Z" fill="url(#gc3)" stroke="#303030" stroke-width="0.60" stroke-linejoin="round"/><ellipse cx="7.00" cy="0.00" rx="6.84" ry="11.80" fill="#878787" stroke="#303030" stroke-width="0.50" /><path d="M7.00,-7.40 A4.29,7.40 0 0 0 7.00,7.40 L10.00,7.40 A4.29,7.40 0 0 0 10.00,-7.40 Z" fill="#777"/><ellipse cx="10.00" cy="0.00" rx="4.29" ry="7.40" fill="#909090" stroke="#555" stroke-width="0.50" /><path d="M10.00,-4.60 A2.67,4.60 0 0 0 10.00,4.60 L13.00,4.60 A2.67,4.60 0 0 0 13.00,-4.60 Z" fill="#777"/><ellipse cx="13.00" cy="0.00" rx="2.67" ry="4.60" fill="#9a9a9a" stroke="#555" stroke-width="0.50" /><ellipse cx="13.30" cy="0.00" rx="1.51" ry="2.60" fill="#7a7a7a" stroke="#555" stroke-width="0.40" /></g><path d="M298.0,691.8 L303.5,695.0" stroke="#555" stroke-width="0.9" fill="none"/><path d="M316.5,702.3 L325.5,707.4" stroke="#555" stroke-width="0.9" fill="none"/><path d="M332.0,711.0 L344.5,718.0" stroke="#555" stroke-width="0.9" fill="none"/><path d="M87.5,629.2 C87.5,622 90,616 93,612.5 C99,605 110,596.5 121,590 C128,586 134,584.5 138,582.5 C140,580 142,579 145.5,579 C150,579 153,580.5 153.5,584 L154,598 L158,603 L156,622 L146,621 L138,615.5 L131,610.5 C128,613 124,614 120,614.5 C110,617 100,623 92,630 C90,631.3 88,631 87.5,629.2Z" fill="#7c7c7c" stroke="#303030" stroke-width="0.6" stroke-linejoin="round"/><path d="M93.5,626 C95,615 100,609 108,604 C117,599 127,595.5 134.5,594 C134,599 133,604 129.5,608.5 C126,611.5 122,612 118,613 C109,615.5 100,621 93.5,626Z" fill="#959595"/><path d="M108,604 C115,606 122,607 129.5,608.5" stroke="#6a6a6a" stroke-width="0.5" fill="none"/><ellipse cx="146" cy="582.6" rx="5" ry="2.6" fill="#686868" stroke="#555" stroke-width="0.4" transform="rotate(-8 146 582.6)"/><path d="M139,585 C139,596 141,606 146,612 L154,616 L154,588 C150,590 143,589 139,585Z" fill="#8a8a8a"/><path d="M131,610.5 L138,615.5 L146,621 L150,617 L141,606Z" fill="#5e5e5e"/><g transform="translate(154.60 611.00) rotate(29.10)"><ellipse cx="-1.50" cy="0.00" rx="8.47" ry="14.60" fill="#6a6a6a" stroke="#303030" stroke-width="0.60" /><ellipse cx="0.00" cy="0.00" rx="8.47" ry="14.60" fill="#8e8e8e" stroke="#303030" stroke-width="0.50" /><ellipse cx="0.30" cy="0.00" rx="5.57" ry="9.60" fill="#747474" stroke="#5a5a5a" stroke-width="0.50" /><ellipse cx="0.80" cy="0.00" rx="4.41" ry="7.60" fill="#9a9a9a" /></g><g transform="translate(155.00 611.30) rotate(29.10)"><path d="M0.00,-3.90 A1.95,3.90 0 0 0 0.00,3.90 L130.00,3.90 A1.95,3.90 0 0 0 130.00,-3.90 Z" fill="url(#gc)"/><path d="M128.00,-3.00 A1.50,3.00 0 0 0 128.00,3.00 L162.00,3.00 A1.50,3.00 0 0 0 162.00,-3.00 Z" fill="url(#gc)"/><ellipse cx="162.00" cy="0.00" rx="1.50" ry="3.00" fill="#6e6e6e" /><path d="M0,-3.9 L130,-3.9 M0,3.9 L130,3.9" stroke="#555" stroke-width="0.5" fill="none"/></g><g transform="translate(311.20 700.40) rotate(29.10)"><ellipse cx="-2.00" cy="0.00" rx="4.76" ry="8.20" fill="#7a7a7a" stroke="#303030" stroke-width="0.60" /><path d="M-2.00,-8.20 A4.76,8.20 0 0 0 -2.00,8.20 L3.00,4.50 A2.61,4.50 0 0 0 3.00,-4.50 Z" fill="#8a8a8a"/><ellipse cx="-1.00" cy="0.00" rx="3.71" ry="6.40" fill="#969696" /><ellipse cx="0.50" cy="0.00" rx="2.78" ry="4.80" fill="#7c7c7c" /><ellipse cx="2.60" cy="0.00" rx="1.86" ry="3.20" fill="#b4b4b4" stroke="#666" stroke-width="0.40" /></g><g transform="translate(332.60 711.60) rotate(29.10)"><ellipse cx="3.00" cy="0.00" rx="4.29" ry="7.40" fill="#6e6e6e" stroke="#303030" stroke-width="0.60" /><path d="M-3.00,-7.80 A4.52,7.80 0 0 0 -3.00,7.80 L3.00,7.40 A4.29,7.40 0 0 0 3.00,-7.40 Z" fill="#7a7a7a" stroke="#303030" stroke-width="0.60" stroke-linejoin="round"/><ellipse cx="-3.00" cy="0.00" rx="4.52" ry="7.80" fill="#8a8a8a" stroke="#303030" stroke-width="0.50" /><ellipse cx="-2.60" cy="0.00" rx="3.02" ry="5.20" fill="#6a6a6a" /><ellipse cx="-2.20" cy="0.00" rx="1.97" ry="3.40" fill="#e8e8e8" stroke="#666" stroke-width="0.40" /></g><g transform="translate(354.00 725.20) rotate(21.50)"><path d="M-1.50,-13.60 A7.89,13.60 0 0 0 -1.50,13.60 L1.00,13.60 A7.89,13.60 0 0 0 1.00,-13.60 Z" fill="#858585" stroke="#303030" stroke-width="0.60" stroke-linejoin="round"/><ellipse cx="1.00" cy="0.00" rx="7.89" ry="13.60" fill="#8e8e8e" /><path d="M1,-13.6 C7,-13.6 10,-9.4 19.5,-7.8 A4.4,7.8 0 0 1 19.5,7.8 C12,8.6 7,12.8 1,13.6 A7.9,13.6 0 0 1 1,-13.6Z" fill="url(#gc3)" stroke="#303030" stroke-width="0.6"/><ellipse cx="19.50" cy="0.00" rx="4.52" ry="7.80" fill="#909090" stroke="#606060" stroke-width="0.50" /><ellipse cx="19.80" cy="0.00" rx="2.09" ry="3.60" fill="#747474" stroke="#5a5a5a" stroke-width="0.40" /></g><path d="M786.5,80 L786.5,84 C788,88 795,89.5 801,88.5 L806,86 L806.5,82 L877.5,41.5 L885,40.5 L891,37 L891,33.5 L880,38Z" fill="#5e5e5e"/><path d="M786.5,80 C786.5,76.5 792,74 798.5,74.5 L872.5,32.5 C873.5,28.5 879,25.5 885,25.8 L884,29.5 L887.5,31 L890.5,29.8 C891.5,31 891.4,33.5 890,35 C888,37.5 882,38.6 877.5,38.2 L806.3,79.8 L804,80.5 L805,84 C800,86.2 793,86 789.5,84 C787.5,83 786.5,81.5 786.5,80Z" fill="#7c7c7c" stroke="#555" stroke-width="0.5" stroke-linejoin="round"/><path d="M800,78.5 L876,35" stroke="#8c8c8c" stroke-width="1.2" fill="none"/><rect x="806.6" y="159.2" width="57" height="16.3" rx="1.6" fill="#a2a2a2"/><text x="810.6" y="166.2" font-size="6.6" fill="#fff" textLength="39" lengthAdjust="spacingAndGlyphs" xml:space="preserve">700C  CFRP</text><text x="810.6" y="173.8" font-size="6.6" fill="#fff" textLength="35" lengthAdjust="spacingAndGlyphs">MALAYSIA</text><text x="849.5" y="173.8" font-size="6.8" font-weight="700" fill="#fff" textLength="11.5" lengthAdjust="spacingAndGlyphs">VIA</text><rect x="784" y="183.5" width="101.8" height="16.2" rx="1.8" fill="#a2a2a2"/><path d="M793.5,186.2 L799.8,197 L787.2,197Z" fill="#8a8a8a" stroke="#666" stroke-width="0.9" stroke-linejoin="round"/><text x="793.5" y="196" font-size="8" font-weight="700" fill="#444" text-anchor="middle">!</text><path d="M803.8,186.6 L817.2,186.3 L817.2,196 L810,196.4 L808.8,198 L807.8,196.5 L803.8,196.6Z" fill="#fff"/><rect x="811.6" y="187.6" width="4" height="7.2" fill="#bdbdbd"/><text x="807.4" y="195.2" font-size="8" font-weight="700" fill="#333" text-anchor="middle" font-family="'Liberation Serif', serif">i</text><text x="820.3" y="190" font-size="7" fill="#fff" textLength="61.6" lengthAdjust="spacingAndGlyphs">Rim subject to wear</text><text x="820.3" y="197.7" font-size="7" fill="#fff" textLength="61.6" lengthAdjust="spacingAndGlyphs">Jante sujet à l'usure</text><rect x="830.2" y="293" width="8.6" height="52" rx="1.2" fill="url(#gv)"/><path d="M830.2,343.5 A4.3,1.8 0 0 0 838.8,343.5 L838.8,345 A4.3,1.8 0 0 1 830.2,345Z" fill="#6a6a6a"/><path d="M830.2,295 L831.8,288.6 L837.2,288.6 L838.8,295Z" fill="url(#gv)"/><rect x="832" y="284.6" width="5" height="4.6" fill="#808080"/><rect x="830.9" y="281" width="7.2" height="4.2" rx="1.8" fill="url(#gv)" stroke="#777" stroke-width="0.3"/><ellipse cx="834.5" cy="282" rx="2.4" ry="0.9" fill="#c0c0c0"/><ellipse cx="823.6" cy="362" rx="4.3" ry="2.5" fill="#8e8e8e" stroke="#777" stroke-width="0.4"/><ellipse cx="823.6" cy="362" rx="2" ry="1.1" fill="#d8d8d8"/><ellipse cx="845.1" cy="362" rx="4.3" ry="2.5" fill="#8e8e8e" stroke="#777" stroke-width="0.4"/><ellipse cx="845.1" cy="362" rx="2" ry="1.1" fill="#d8d8d8"/><ellipse cx="834.3" cy="387.4" rx="9.8" ry="5.4" fill="#5a5a5a"/><ellipse cx="834.3" cy="386.8" rx="9.8" ry="5.2" fill="#6e6e6e"/><ellipse cx="834.5" cy="387" rx="4" ry="2.1" fill="#fff"/><path d="M785,535.5 C786,531.5 789,529.5 793,529 L798.3,528.3 L799,524.6 L850.6,497.2 C853,496.3 857,496.3 860,497.2 C864,498.5 867,501.5 867.2,505 L867,510.3 C866,513.5 863,515.5 860,516.8 L802.2,547.8 C799,549.3 794.5,549.8 791.25,549.4 C788,548.5 785.5,546.5 785,543.9Z" fill="#9c9c9c" stroke="#7a7a7a" stroke-width="0.5" stroke-linejoin="round"/><path d="M798.6,526.6 L799,524.6 L850.6,497.2 C853,496.3 857,496.3 860,497.2 C862.5,498 864.8,499.6 866,501.4 C863,499.8 858,499.2 852.5,500.2 L801.5,527.6Z" fill="#8c8c8c"/><path d="M785.5,537 C788,532 796,529.6 801.5,531.6 L798,545.5 C795,548.5 790,549.6 787.5,547.6 C785.6,546 785,544 785,543.9Z" fill="#b0b0b0" opacity="0.6"/><path d="M812.2,524.2 L813.0,536.2" stroke="#c6c6c6" stroke-width="0.9" fill="none"/><path d="M813.3,523.8 L814.1,535.8" stroke="#8a8a8a" stroke-width="0.8" fill="none"/><path d="M828.3,515.6 L829.1,527.6" stroke="#c6c6c6" stroke-width="0.9" fill="none"/><path d="M829.4,515.2 L830.2,527.2" stroke="#8a8a8a" stroke-width="0.8" fill="none"/><path d="M844.4,507.0 L845.2,519.0" stroke="#c6c6c6" stroke-width="0.9" fill="none"/><path d="M845.5,506.6 L846.3,518.6" stroke="#8a8a8a" stroke-width="0.8" fill="none"/><path d="M790,548.6 C795,549.6 799,549.3 802.2,547.8 L860,516.8 C863,515.5 866,513.5 867,510.3" stroke="#858585" stroke-width="1.4" fill="none"/><path d="M832.2,566.6 C833,562.5 835,560 838,558.75 L852,550 L853.75,547.8 L869.4,540 L871,537.7 L899,524.4 C902,523.6 905,524.2 906.9,525.2 C910,527 912,529.5 912.3,531.4 L911.6,538.4 C910.5,541.5 908,543.5 905.3,544.7 L896,548.6 L892.8,551.7 L861.6,568 L850.6,572.8 L849,577.5 C846.5,578.6 843.5,578.7 841.25,578.3 C837.5,577 834.5,574.5 833.4,571.25Z" fill="#989898" stroke="#777" stroke-width="0.5" stroke-linejoin="round"/><path d="M838.5,559 L852.5,550.5 L854.2,548.3 L869.8,540.6 L871.5,538.3 L899.2,525.2 C903,524.6 906,526 908,528.2 L852,556.6 C847,559 842,560.5 838.5,559Z" fill="#858585"/><path d="M851.5,560.5 L908.5,531 C910.5,533.5 910.5,537.5 908,540.5 L899,545 L896.5,543 L894,546.2 L893.6,549 L856,568.6 C853,567 851.5,564 851.5,560.5Z" fill="#a6a6a6"/><path d="M833,566 C836,561.5 843,560 847.5,562.5 C850.5,564.5 851,568 849.5,571.5 L849,577.5 C846.5,578.6 843.5,578.7 841.25,578.3 C837.5,577 834.5,574.5 833.4,571.25Z" fill="#a2a2a2"/><ellipse cx="851" cy="563.5" rx="2.6" ry="3.4" fill="#c6c6c6"/><path d="M780.5,524 L788,527.8" stroke="#666" stroke-width="0.8" fill="none"/><g transform="translate(772.2 518.8) rotate(30)"><rect x="-1" y="-3.4" width="8.5" height="6.8" rx="1.5" fill="#9a9a9a" stroke="#808080" stroke-width="0.4"/><ellipse cx="-1.5" cy="0" rx="3.4" ry="5.2" fill="#aaa" stroke="#808080" stroke-width="0.5"/><ellipse cx="-2.2" cy="0" rx="2" ry="3.4" fill="#bcbcbc"/></g><path d="M852.5,565.2 L863.5,571.4" stroke="#666" stroke-width="0.8" fill="none"/><path d="M853,564 L862,569" stroke="#ddd" stroke-width="0.8" fill="none"/><g transform="translate(871.5 577) rotate(210)"><rect x="-1" y="-3.4" width="8.5" height="6.8" rx="1.5" fill="#9a9a9a" stroke="#808080" stroke-width="0.4"/><ellipse cx="-1.5" cy="0" rx="3.4" ry="5.2" fill="#aaa" stroke="#808080" stroke-width="0.5"/><ellipse cx="-2.2" cy="0" rx="2" ry="3.4" fill="#bcbcbc"/></g>
<circle cx="379.70" cy="8.50" r="10.60" fill="#fff" stroke="#1a1a1a" stroke-width="1.1"/><text transform="translate(379.70 14.30) scale(0.87 1)" text-anchor="middle" font-size="16.2" font-weight="700" fill="#161616">11</text>
<circle cx="379.70" cy="89.75" r="10.60" fill="#fff" stroke="#1a1a1a" stroke-width="1.1"/><text transform="translate(379.70 95.55) scale(0.87 1)" text-anchor="middle" font-size="16.2" font-weight="700" fill="#161616">11</text>
<circle cx="324.75" cy="147.75" r="10.60" fill="#fff" stroke="#1a1a1a" stroke-width="1.1"/><text transform="translate(324.75 153.55) scale(0.87 1)" text-anchor="middle" font-size="16.2" font-weight="700" fill="#161616">10</text>
<circle cx="261.00" cy="229.75" r="10.60" fill="#fff" stroke="#1a1a1a" stroke-width="1.1"/><text transform="translate(261.00 235.55) scale(0.87 1)" text-anchor="middle" font-size="16.2" font-weight="700" fill="#161616">9</text>
<circle cx="379.75" cy="292.00" r="10.60" fill="#fff" stroke="#1a1a1a" stroke-width="1.1"/><text transform="translate(379.75 297.80) scale(0.87 1)" text-anchor="middle" font-size="16.2" font-weight="700" fill="#161616">12</text>
<circle cx="379.75" cy="362.50" r="10.60" fill="#fff" stroke="#1a1a1a" stroke-width="1.1"/><text transform="translate(379.75 368.30) scale(0.87 1)" text-anchor="middle" font-size="16.2" font-weight="700" fill="#161616">12</text>
<circle cx="145.50" cy="457.50" r="10.60" fill="#fff" stroke="#1a1a1a" stroke-width="1.1"/><text transform="translate(145.50 463.30) scale(0.87 1)" text-anchor="middle" font-size="16.2" font-weight="700" fill="#161616">8</text>
<circle cx="228.00" cy="504.50" r="10.60" fill="#fff" stroke="#1a1a1a" stroke-width="1.1"/><text transform="translate(228.00 510.30) scale(0.87 1)" text-anchor="middle" font-size="16.2" font-weight="700" fill="#161616">6</text>
<circle cx="262.00" cy="523.75" r="10.60" fill="#fff" stroke="#1a1a1a" stroke-width="1.1"/><text transform="translate(262.00 529.55) scale(0.87 1)" text-anchor="middle" font-size="16.2" font-weight="700" fill="#161616">7</text>
<circle cx="281.75" cy="602.25" r="10.60" fill="#fff" stroke="#1a1a1a" stroke-width="1.1"/><text transform="translate(281.75 608.05) scale(0.87 1)" text-anchor="middle" font-size="16.2" font-weight="700" fill="#161616">4</text>
<circle cx="428.00" cy="618.75" r="10.60" fill="#fff" stroke="#1a1a1a" stroke-width="1.1"/><text transform="translate(428.00 624.55) scale(0.87 1)" text-anchor="middle" font-size="16.2" font-weight="700" fill="#161616">7</text>
<circle cx="464.50" cy="639.50" r="10.60" fill="#fff" stroke="#1a1a1a" stroke-width="1.1"/><text transform="translate(464.50 645.30) scale(0.87 1)" text-anchor="middle" font-size="16.2" font-weight="700" fill="#161616">6</text>
<circle cx="515.00" cy="693.00" r="10.60" fill="#fff" stroke="#1a1a1a" stroke-width="1.1"/><text transform="translate(515.00 698.80) scale(0.87 1)" text-anchor="middle" font-size="16.2" font-weight="700" fill="#161616">5</text>
<circle cx="208.00" cy="736.00" r="10.60" fill="#fff" stroke="#1a1a1a" stroke-width="1.1"/><text transform="translate(208.00 741.80) scale(0.87 1)" text-anchor="middle" font-size="16.2" font-weight="700" fill="#161616">1</text>
<circle cx="276.25" cy="724.75" r="10.60" fill="#fff" stroke="#1a1a1a" stroke-width="1.1"/><text transform="translate(276.25 730.55) scale(0.87 1)" text-anchor="middle" font-size="16.2" font-weight="700" fill="#161616">3</text>
<circle cx="298.75" cy="737.25" r="10.60" fill="#fff" stroke="#1a1a1a" stroke-width="1.1"/><text transform="translate(298.75 743.05) scale(0.87 1)" text-anchor="middle" font-size="16.2" font-weight="700" fill="#161616">3</text>
<circle cx="323.00" cy="751.00" r="10.60" fill="#fff" stroke="#1a1a1a" stroke-width="1.1"/><text transform="translate(323.00 756.80) scale(0.87 1)" text-anchor="middle" font-size="16.2" font-weight="700" fill="#161616">2</text>
<circle cx="834.70" cy="19.20" r="10.60" fill="#fff" stroke="#1a1a1a" stroke-width="1.1"/><text transform="translate(834.70 25.00) scale(0.87 1)" text-anchor="middle" font-size="16.2" font-weight="700" fill="#161616">13</text>
<circle cx="834.70" cy="122.80" r="10.60" fill="#fff" stroke="#1a1a1a" stroke-width="1.1"/><text transform="translate(834.70 128.60) scale(0.87 1)" text-anchor="middle" font-size="16.2" font-weight="700" fill="#161616">14</text>
<circle cx="834.70" cy="246.50" r="10.60" fill="#fff" stroke="#1a1a1a" stroke-width="1.1"/><text transform="translate(834.70 252.30) scale(0.87 1)" text-anchor="middle" font-size="16.2" font-weight="700" fill="#161616">15</text>
<circle cx="834.70" cy="439.00" r="10.60" fill="#fff" stroke="#1a1a1a" stroke-width="1.1"/><text transform="translate(834.70 444.80) scale(0.87 1)" text-anchor="middle" font-size="16.2" font-weight="700" fill="#161616">16</text>
</svg>
</body></html>
